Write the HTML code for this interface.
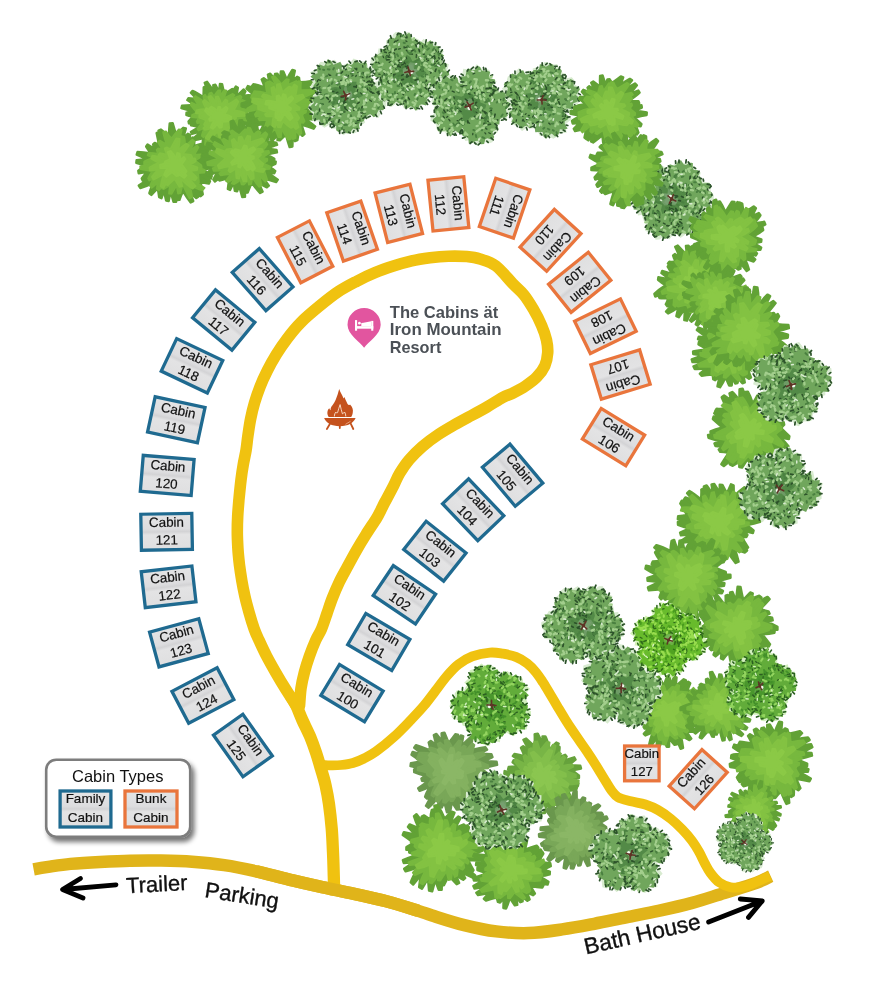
<!DOCTYPE html><html><head><meta charset="utf-8"><title>Cabins at Iron Mountain Resort map</title>
<style>html,body{margin:0;padding:0;background:#fff}body{width:872px;height:992px;overflow:hidden}svg{display:block;opacity:.999;will-change:transform}text{font-family:"Liberation Sans",sans-serif}.c{text-anchor:middle;fill:#111;stroke:#111;stroke-width:.2px}</style></head><body>
<svg width="872" height="992" viewBox="0 0 872 992">
<defs>
<g id="b1"><path d="M26.9 -18.3Q32.2 -21.6 36.6 -24.1L38.2 -21.5Q34.9 -16.9 30.4 -11.6Q36.8 -14.1 42.1 -16.1L43.1 -13.1Q38.4 -8.9 28.4 -3.7Q35.9 -2.6 42.0 -0.9L42.0 2.0Q35.9 2.4 28.9 2.6Q34.8 4.8 39.4 7.3L38.8 10.1Q33.8 9.6 24.9 7.8Q27.3 11.3 29.5 13.5L28.4 15.6Q25.5 15.0 22.7 14.8Q27.3 15.8 30.5 17.5L29.2 19.6Q24.8 19.4 20.9 20.3Q23.8 26.9 26.3 32.0L24.0 33.8Q19.8 29.9 15.2 25.4Q16.6 31.5 17.8 36.4L15.2 37.6Q12.1 33.5 9.1 29.8Q8.6 36.8 7.2 42.6L4.2 43.0Q3.4 37.6 2.6 29.8Q1.3 34.5 0.8 38.3L-1.9 38.2Q-3.5 34.3 -5.6 31.7Q-8.1 36.0 -11.4 39.1L-14.1 38.2Q-13.0 34.5 -11.6 30.6Q-14.1 36.5 -15.7 41.5L-18.6 40.3Q-19.1 34.2 -17.9 25.1Q-23.1 26.7 -27.7 27.5L-29.5 25.5Q-26.6 23.3 -19.3 17.3Q-25.6 19.0 -30.8 20.1L-32.1 17.9Q-28.0 15.2 -22.1 11.7Q-27.5 11.3 -31.8 10.4L-32.5 8.2Q-28.8 7.4 -26.0 7.0Q-30.6 7.2 -34.3 8.0L-34.8 5.6Q-31.3 2.9 -30.9 -0.1Q-34.5 -0.3 -37.3 -1.8L-37.1 -4.4Q-34.1 -5.1 -30.3 -5.8Q-37.3 -8.2 -43.1 -9.6L-42.3 -12.6Q-35.8 -13.3 -27.1 -13.0Q-32.1 -16.4 -36.2 -19.0L-34.8 -21.4Q-29.5 -20.7 -24.2 -20.2Q-28.9 -23.8 -32.1 -27.5L-30.1 -29.7Q-25.3 -27.6 -17.6 -22.3Q-17.2 -28.9 -17.2 -33.8L-14.8 -34.9Q-13.0 -31.0 -10.8 -25.9Q-14.0 -33.1 -16.1 -39.2L-13.3 -40.3Q-9.3 -34.7 -5.3 -29.2Q-6.2 -33.2 -6.1 -36.5L-3.6 -36.9Q-1.5 -33.7 0.7 -26.8Q0.9 -32.8 1.6 -37.7L4.2 -37.5Q5.5 -32.4 6.6 -26.1Q12.0 -29.4 15.9 -32.0L18.1 -30.8Q16.0 -27.4 14.1 -24.7Q17.2 -30.4 20.1 -34.8L22.5 -33.3Q21.3 -27.7 21.4 -23.3Q25.3 -28.1 29.1 -31.4L31.3 -29.3Q29.0 -24.3 26.5 -18.9Z" fill="#62a236" stroke="#62a236" stroke-width="2.6" stroke-linejoin="round"/><path d="M12.2 22.3Q10.4 26.4 8.7 29.6L6.1 30.2Q5.7 27.8 5.4 24.5Q6.0 28.7 6.7 32.2L3.9 32.6Q1.1 29.3 -2.2 27.0Q-3.0 30.2 -5.3 32.6L-8.1 32.0Q-8.1 29.2 -8.0 26.2Q-10.8 30.5 -12.9 34.0L-15.7 32.8Q-15.8 28.2 -14.0 20.4Q-15.7 22.6 -17.4 24.2L-19.4 22.6Q-19.3 19.6 -16.4 13.6Q-20.3 15.0 -23.2 16.4L-24.5 14.3Q-22.5 11.3 -19.3 7.6Q-22.4 7.5 -24.8 7.7L-25.4 5.6Q-23.4 3.5 -23.4 1.3Q-27.5 1.7 -30.9 1.0L-30.8 -1.7Q-27.4 -3.0 -25.5 -4.8Q-29.6 -9.7 -32.5 -13.7L-31.2 -16.4Q-27.5 -14.6 -23.1 -12.2Q-26.2 -17.5 -28.8 -21.5L-26.9 -23.9Q-22.8 -21.7 -16.1 -16.8Q-17.6 -20.2 -17.6 -24.0L-15.5 -25.4Q-13.9 -22.9 -13.1 -21.2Q-11.3 -24.8 -10.5 -27.1L-8.1 -27.9Q-6.9 -26.3 -5.2 -23.5Q-2.9 -27.5 -0.3 -30.5L2.3 -30.4Q1.9 -27.6 1.1 -22.4Q3.6 -27.1 6.7 -30.7L9.3 -30.0Q8.2 -26.1 6.6 -21.3Q12.4 -24.1 16.6 -26.3L18.7 -24.8Q16.4 -21.6 14.7 -19.8Q20.1 -22.8 25.3 -24.4L27.3 -22.1Q23.7 -19.1 22.1 -17.7Q28.4 -19.6 33.7 -20.8L35.4 -17.9Q31.4 -14.5 24.8 -10.1Q31.0 -9.4 36.0 -8.8L36.6 -5.7Q32.2 -4.0 24.4 -2.0Q30.6 -0.4 35.5 2.4L35.2 5.5Q30.2 4.8 20.7 3.3Q24.9 7.2 28.2 9.8L27.3 12.1Q23.3 11.3 20.1 10.9Q21.3 13.6 22.0 16.3L20.5 18.1Q18.7 17.1 17.4 16.5Q20.9 19.1 23.2 21.8L21.3 23.7Q17.4 22.3 13.5 21.5Z" fill="#77b83e" stroke="#77b83e" stroke-width="1.8" stroke-linejoin="round"/><path d="M-8.1 -13.5Q-10.3 -18.5 -11.8 -22.6L-8.9 -23.9Q-5.4 -20.4 -1.7 -14.4Q-3.1 -19.0 -3.3 -22.9L-0.4 -23.2Q1.7 -19.2 3.4 -13.7Q5.9 -17.1 8.0 -19.7L10.4 -18.5Q9.9 -15.1 11.4 -14.1Q17.0 -17.0 20.7 -20.0L23.1 -17.3Q20.7 -12.2 17.8 -7.1Q24.4 -6.8 30.1 -4.6L30.4 -0.7Q25.4 -0.5 14.1 -0.3Q17.6 -0.5 20.4 -0.4L20.3 2.2Q17.1 3.9 13.4 5.5Q16.3 9.7 18.3 13.4L16.5 15.6Q13.4 13.5 10.6 11.5Q11.3 15.9 12.1 19.2L9.6 20.6Q7.0 18.2 4.2 15.2Q4.9 19.7 3.9 23.8L0.9 24.1Q-0.2 20.3 -1.1 17.7Q-6.7 23.0 -11.9 26.6L-15.1 24.9Q-12.2 20.6 -7.5 13.5Q-11.9 15.0 -15.8 15.6L-17.6 13.5Q-15.3 11.5 -10.2 7.7Q-12.9 9.9 -15.5 11.2L-16.8 9.2Q-14.9 6.4 -14.6 4.2Q-19.0 2.1 -22.4 1.3L-22.3 -1.6Q-19.0 -2.7 -18.5 -4.4Q-22.9 -3.2 -26.2 -3.9L-25.5 -7.2Q-21.4 -8.8 -14.3 -8.9Q-16.7 -13.3 -18.2 -17.1L-15.9 -19.2Q-12.9 -17.0 -8.8 -13.1Z" fill="#83c242" stroke="#83c242" stroke-width="2.0" stroke-linejoin="round"/><path d="M-5.9 -4.9Q-8.5 -7.4 -10.5 -9.6L-8.3 -11.6Q-4.8 -10.2 -1.2 -6.4Q-1.1 -9.1 -0.3 -11.3L2.0 -11.2Q2.6 -8.8 3.3 -7.0Q6.2 -9.6 8.6 -11.5L10.8 -9.5Q9.6 -6.2 7.2 -2.9Q11.5 -1.7 14.8 0.3L14.4 3.4Q11.2 3.1 6.2 2.0Q9.8 2.4 12.6 3.0L11.7 5.6Q8.0 6.1 4.5 6.3Q4.1 10.0 3.8 12.7L1.1 13.2Q-0.4 10.8 -1.7 8.8Q-3.6 12.1 -6.3 14.4L-9.2 12.8Q-8.2 9.6 -4.2 3.9Q-7.4 4.7 -10.1 5.2L-11.0 2.9Q-8.7 1.3 -8.5 -0.0Q-13.0 -2.8 -15.8 -6.7L-14.1 -9.8Q-10.7 -7.9 -6.1 -4.7Z" fill="#8bc946" stroke="#8bc946" stroke-width="2.0" stroke-linejoin="round"/></g>
<g id="b2"><path d="M30.1 2.0Q34.3 4.6 37.6 6.8L37.1 9.5Q33.4 9.3 31.2 9.6Q34.1 12.8 35.9 16.5L34.6 19.0Q32.0 17.4 27.3 14.5Q32.4 20.1 36.2 25.1L34.4 27.5Q29.3 24.4 22.9 20.0Q22.0 25.2 21.8 28.7L19.7 30.1Q18.3 28.1 16.0 24.4Q16.4 29.2 16.0 33.4L13.6 34.4Q12.2 31.2 11.1 28.7Q9.6 35.2 7.8 40.4L5.0 40.9Q4.6 36.2 3.9 28.6Q4.1 33.9 4.1 38.2L1.4 38.4Q-0.6 34.1 -2.5 26.3Q-7.3 31.8 -11.1 36.0L-13.6 35.2Q-11.7 30.5 -9.1 24.6Q-12.8 30.3 -16.7 34.6L-19.1 33.3Q-16.9 28.2 -14.8 23.3Q-16.8 29.2 -19.1 33.6L-21.4 32.2Q-20.7 26.6 -22.2 23.1Q-28.5 24.9 -32.8 27.1L-34.7 24.8Q-31.7 20.7 -29.5 16.9Q-33.4 18.6 -36.8 19.3L-38.1 16.7Q-35.6 13.7 -29.0 9.2Q-35.5 9.4 -40.9 9.2L-41.5 6.3Q-36.5 4.4 -29.1 2.3Q-34.1 3.2 -38.1 3.6L-38.3 0.9Q-34.2 -1.6 -26.7 -3.9Q-31.0 -6.9 -34.7 -8.6L-34.0 -11.0Q-29.8 -11.1 -26.6 -11.8Q-30.2 -14.4 -33.0 -16.8L-31.7 -19.1Q-27.9 -18.5 -23.8 -17.8Q-26.4 -19.6 -27.6 -22.2L-26.0 -24.1Q-23.4 -23.1 -19.5 -20.8Q-22.2 -25.0 -24.6 -28.2L-22.6 -29.9Q-18.5 -27.8 -14.0 -25.6Q-15.8 -31.9 -16.3 -37.4L-13.7 -38.4Q-11.2 -33.8 -8.7 -29.0Q-8.1 -32.3 -7.7 -35.0L-5.3 -35.5Q-3.5 -33.2 -1.5 -32.6Q3.2 -37.2 6.2 -40.7L9.0 -40.2Q8.4 -36.4 7.3 -31.2Q11.8 -36.2 16.4 -39.8L19.1 -38.6Q16.7 -34.2 13.0 -27.7Q18.5 -32.2 22.8 -35.8L25.3 -34.1Q22.8 -29.3 18.5 -22.5Q23.2 -26.3 27.7 -28.8L29.6 -26.8Q26.6 -22.9 19.4 -15.6Q25.5 -16.4 30.0 -17.4L31.2 -15.3Q27.5 -12.7 23.7 -10.1Q29.1 -12.5 34.0 -13.5L34.9 -11.1Q30.6 -8.4 26.8 -5.8Q34.6 -6.6 41.1 -6.9L41.4 -4.0Q35.2 -1.7 30.2 0.5Z" fill="#62a236" stroke="#62a236" stroke-width="2.6" stroke-linejoin="round"/><path d="M20.5 13.2Q25.7 16.9 29.9 20.1L28.1 22.6Q22.5 21.1 15.3 17.8Q18.3 22.0 20.6 25.5L18.4 27.1Q14.3 24.8 10.1 22.7Q9.2 29.2 8.0 34.4L5.0 35.0Q4.1 30.3 2.9 22.3Q4.8 27.7 5.7 32.3L2.9 32.6Q-0.0 28.1 -2.8 20.9Q-5.9 24.0 -8.4 26.4L-10.7 25.6Q-9.9 22.7 -9.6 21.0Q-12.6 23.5 -14.3 25.9L-16.5 24.6Q-16.4 21.0 -17.4 18.3Q-21.0 23.6 -24.6 27.3L-26.8 25.1Q-24.7 19.7 -23.7 15.0Q-28.1 13.7 -31.1 13.5L-32.2 10.8Q-30.1 8.7 -23.2 5.3Q-28.1 7.6 -32.2 8.9L-32.9 6.1Q-29.0 2.7 -20.9 -0.8Q-25.6 -4.7 -29.2 -8.2L-28.4 -10.7Q-24.5 -9.0 -20.3 -7.1Q-24.6 -8.8 -28.1 -10.3L-27.1 -12.6Q-22.7 -12.9 -19.5 -14.2Q-24.6 -15.6 -28.2 -17.6L-26.6 -20.0Q-21.5 -19.6 -15.5 -18.4Q-15.2 -22.6 -14.8 -25.9L-12.5 -27.1Q-11.1 -24.9 -9.7 -22.2Q-7.2 -27.3 -5.6 -31.1L-2.9 -31.4Q-2.4 -28.2 -2.0 -24.8Q-3.2 -29.2 -3.4 -32.9L-0.5 -33.1Q1.8 -29.4 4.6 -26.7Q9.9 -31.5 14.1 -35.1L17.0 -33.8Q15.2 -29.3 11.2 -21.2Q16.5 -23.6 20.9 -25.2L23.0 -23.3Q20.3 -20.4 14.8 -14.9Q18.0 -18.4 20.9 -20.9L22.6 -19.0Q20.9 -15.1 16.8 -9.7Q19.9 -12.4 22.9 -13.7L24.0 -11.7Q21.7 -8.8 23.3 -6.9Q26.4 -5.1 28.8 -4.1L29.0 -1.6Q26.9 -0.5 26.5 0.8Q31.1 4.9 34.6 8.0L33.8 11.0Q29.8 10.2 25.9 9.3Q30.3 12.0 33.1 16.0L31.6 18.8Q27.8 17.0 20.7 12.9Z" fill="#77b83e" stroke="#77b83e" stroke-width="1.8" stroke-linejoin="round"/><path d="M3.7 -17.1Q6.4 -21.2 9.1 -24.3L12.1 -23.0Q11.5 -19.0 7.9 -10.9Q12.4 -11.0 15.4 -11.5L16.7 -9.5Q14.8 -7.6 12.2 -5.4Q17.8 -4.7 22.3 -2.9L22.5 -0.1Q18.4 -0.1 18.4 -0.4Q23.8 2.2 28.0 5.1L27.1 8.5Q22.5 8.1 15.7 6.5Q20.2 6.8 23.6 7.9L22.4 10.8Q17.9 11.7 11.5 10.9Q12.3 14.9 13.5 17.6L11.2 19.1Q8.2 17.5 4.8 14.9Q7.8 18.1 8.8 21.3L6.1 22.2Q3.1 19.5 -0.0 13.0Q-3.3 16.1 -5.9 18.4L-8.2 17.5Q-7.2 14.8 -7.0 13.8Q-12.3 16.7 -17.3 18.1L-19.5 15.7Q-16.0 13.1 -14.0 12.0Q-21.1 14.8 -27.2 16.5L-29.1 13.0Q-24.2 9.1 -15.1 4.3Q-19.4 5.1 -22.9 5.2L-23.4 2.3Q-20.0 0.1 -12.9 -1.6Q-17.6 -4.8 -21.0 -8.3L-19.8 -10.9Q-15.8 -9.0 -13.0 -7.6Q-16.4 -11.5 -18.9 -15.1L-16.8 -17.3Q-13.0 -15.2 -8.9 -12.3Q-8.5 -17.4 -7.4 -21.6L-4.6 -22.4Q-3.9 -19.0 -3.7 -17.0Q-3.8 -22.5 -4.6 -26.8L-1.2 -27.2Q1.9 -22.7 4.7 -16.9Z" fill="#83c242" stroke="#83c242" stroke-width="2.0" stroke-linejoin="round"/><path d="M-4.7 -5.7Q-6.2 -8.6 -7.2 -11.1L-4.8 -12.4Q-2.2 -10.4 0.1 -8.4Q-0.4 -12.1 0.9 -15.2L4.0 -14.7Q4.6 -11.3 2.8 -4.6Q6.3 -5.1 8.9 -5.3L9.8 -3.4Q7.9 -2.1 7.8 -1.3Q12.9 -0.4 16.8 1.6L16.1 5.1Q11.9 4.9 6.6 3.6Q8.7 7.8 8.8 12.2L6.1 13.8Q4.8 10.7 3.0 6.3Q4.3 9.6 5.2 12.3L2.5 13.1Q0.0 10.5 -1.9 7.0Q-5.4 9.1 -8.8 9.9L-10.6 7.9Q-8.6 6.1 -7.5 5.1Q-11.4 7.6 -14.8 9.2L-16.4 5.9Q-13.5 2.4 -6.5 -0.5Q-9.2 -2.9 -11.1 -5.1L-9.7 -7.3Q-7.2 -6.4 -5.0 -5.4Z" fill="#8bc946" stroke="#8bc946" stroke-width="2.0" stroke-linejoin="round"/></g>
<g id="b3"><path d="M8.1 -27.6Q13.2 -32.7 17.8 -36.4L20.3 -35.1Q17.6 -30.5 15.1 -26.4Q19.2 -30.6 22.8 -33.7L25.1 -32.0Q23.2 -27.6 21.9 -23.8Q29.7 -23.4 35.0 -23.8L36.6 -21.3Q32.7 -19.1 27.1 -16.2Q32.0 -18.1 36.5 -19.0L37.7 -16.4Q34.3 -13.5 29.2 -10.0Q35.2 -12.1 40.5 -12.7L41.3 -9.8Q36.5 -7.1 28.2 -3.9Q32.9 -0.4 36.6 1.4L36.4 4.0Q32.7 4.2 24.9 3.8Q32.2 3.9 38.0 5.2L37.5 7.9Q31.4 8.3 26.9 9.3Q31.8 11.2 35.9 12.8L34.9 15.3Q29.9 15.6 24.0 15.5Q28.1 17.8 31.5 19.7L30.1 21.9Q25.4 21.6 20.5 21.7Q23.7 26.1 26.3 29.6L24.2 31.3Q19.8 29.1 14.2 25.3Q16.4 33.0 17.1 39.8L14.3 40.9Q11.7 35.0 8.8 27.7Q9.2 32.3 10.1 35.9L7.6 36.5Q4.6 33.3 1.3 29.2Q1.7 34.4 1.6 38.7L-1.1 38.7Q-3.1 34.3 -5.4 30.8Q-7.5 35.5 -9.6 39.3L-12.3 38.5Q-12.3 34.1 -11.5 27.5Q-15.2 33.0 -18.1 37.4L-20.6 36.1Q-19.6 30.5 -16.6 22.3Q-20.9 24.6 -24.8 26.1L-26.6 24.3Q-24.1 21.5 -20.6 18.0Q-23.4 18.3 -25.7 18.5L-26.9 16.6Q-25.7 14.8 -23.8 12.4Q-31.0 12.6 -36.8 12.8L-37.6 10.2Q-32.5 8.2 -29.0 6.6Q-34.4 9.0 -38.9 10.4L-39.6 7.7Q-35.3 4.2 -32.3 0.4Q-38.9 -0.9 -44.3 -2.5L-44.0 -5.6Q-38.4 -6.3 -31.4 -6.9Q-34.7 -12.0 -37.4 -15.7L-36.2 -18.3Q-32.7 -16.7 -26.7 -13.6Q-28.5 -17.2 -30.4 -19.4L-28.9 -21.5Q-25.9 -21.0 -20.7 -19.0Q-23.6 -21.4 -25.7 -23.7L-23.9 -25.4Q-20.4 -24.5 -16.3 -23.5Q-17.1 -27.8 -17.4 -31.4L-15.2 -32.5Q-13.1 -29.9 -11.1 -27.7Q-11.9 -33.6 -12.3 -38.4L-9.6 -39.2Q-7.1 -34.9 -4.3 -29.3Q-2.3 -35.5 -0.3 -40.4L2.5 -40.3Q2.7 -35.5 2.6 -28.0Q4.7 -34.2 7.2 -39.1L9.9 -38.5Q9.4 -33.2 8.7 -27.5Z" fill="#62a236" stroke="#62a236" stroke-width="2.6" stroke-linejoin="round"/><path d="M-7.6 -20.9Q-7.3 -25.3 -6.7 -29.0L-4.2 -29.4Q-2.8 -26.2 -1.4 -21.9Q2.4 -25.5 5.2 -28.1L7.6 -27.6Q6.7 -24.7 5.9 -22.9Q7.8 -27.3 10.3 -30.4L12.9 -29.5Q12.3 -25.5 12.4 -23.0Q18.6 -22.2 22.1 -22.1L23.9 -20.1Q22.1 -18.7 21.8 -18.8Q25.1 -23.9 28.7 -27.0L30.9 -24.4Q28.8 -19.2 22.7 -11.7Q29.8 -12.8 35.9 -12.4L36.9 -9.3Q31.5 -7.5 21.4 -4.8Q26.1 -2.7 29.9 -0.9L29.8 1.7Q26.2 1.8 21.3 1.7Q25.7 5.7 29.0 8.6L28.2 11.1Q24.3 10.0 19.8 8.6Q21.5 12.6 22.6 15.8L21.2 17.7Q19.0 16.1 18.7 15.9Q21.3 18.5 23.0 21.0L21.1 22.9Q17.8 21.8 14.4 20.9Q17.3 24.6 19.2 27.9L16.7 29.4Q12.9 27.1 8.1 22.9Q10.1 26.3 11.1 29.2L8.6 30.0Q5.4 27.6 1.9 24.5Q-0.5 31.1 -2.3 36.3L-5.4 36.0Q-5.8 30.5 -6.1 25.0Q-6.6 28.6 -7.0 31.6L-9.7 30.9Q-11.4 27.1 -11.6 19.8Q-13.3 23.6 -15.5 26.3L-17.7 24.9Q-17.2 21.0 -15.0 15.2Q-17.6 15.5 -19.4 15.9L-20.7 14.1Q-19.9 12.2 -18.8 9.9Q-23.6 11.8 -27.5 13.3L-28.5 10.9Q-25.2 7.6 -23.9 4.7Q-30.8 5.9 -36.6 6.0L-37.0 2.8Q-31.3 0.6 -28.8 -1.8Q-33.3 -6.7 -36.6 -10.8L-35.6 -13.9Q-31.7 -12.3 -25.1 -9.3Q-27.3 -11.2 -29.1 -12.5L-28.0 -15.0Q-24.9 -15.7 -18.3 -14.2Q-21.1 -19.2 -23.6 -22.9L-21.6 -24.8Q-17.5 -22.5 -12.1 -18.2Q-14.7 -22.9 -16.7 -26.7L-14.4 -28.0Q-10.6 -25.0 -6.4 -21.3Z" fill="#77b83e" stroke="#77b83e" stroke-width="1.8" stroke-linejoin="round"/><path d="M7.7 14.7Q9.6 20.1 10.8 24.6L7.7 25.8Q4.3 21.8 1.1 17.8Q1.3 22.7 0.9 26.6L-2.5 26.5Q-4.4 22.3 -5.6 15.8Q-8.5 19.9 -11.3 23.0L-14.1 21.4Q-13.1 17.2 -8.3 8.9Q-11.0 12.5 -13.6 15.0L-15.3 13.2Q-13.7 9.3 -12.6 5.9Q-16.2 6.9 -19.4 7.2L-20.1 4.7Q-17.4 2.6 -18.4 0.7Q-23.6 -3.2 -27.6 -6.6L-26.5 -10.0Q-22.1 -9.0 -15.0 -6.5Q-18.5 -11.0 -20.3 -15.9L-18.2 -18.3Q-15.1 -15.3 -10.4 -10.4Q-8.8 -15.5 -7.9 -18.8L-5.5 -19.6Q-4.7 -17.2 -4.0 -14.8Q-3.8 -18.9 -3.5 -22.3L-0.6 -22.5Q1.0 -19.3 2.4 -14.6Q3.8 -19.5 6.1 -23.2L8.9 -22.2Q8.6 -17.9 8.6 -14.7Q12.9 -18.2 16.8 -20.6L19.2 -18.4Q17.0 -14.5 15.2 -11.1Q20.5 -15.1 25.3 -17.8L27.3 -14.5Q23.6 -9.5 13.6 -3.3Q18.6 -3.9 22.8 -4.0L23.1 -1.1Q19.0 0.9 14.0 2.5Q17.1 7.2 19.3 10.8L17.8 13.1Q14.8 11.2 12.9 10.1Q17.9 12.6 21.3 15.7L19.2 18.3Q14.2 16.7 8.9 14.0Z" fill="#83c242" stroke="#83c242" stroke-width="2.0" stroke-linejoin="round"/><path d="M-7.2 -2.7Q-10.1 -3.8 -12.5 -4.9L-11.2 -7.3Q-7.7 -7.6 -3.3 -5.9Q-6.0 -8.3 -7.1 -10.9L-4.7 -12.2Q-2.1 -10.0 0.1 -7.4Q4.7 -9.9 8.2 -11.3L10.4 -9.3Q8.4 -7.1 7.1 -5.8Q9.8 -8.8 12.8 -10.4L14.6 -7.5Q12.5 -4.1 5.8 -0.6Q8.8 -1.6 11.3 -2.2L11.5 0.2Q8.7 2.1 6.5 4.1Q8.5 8.0 10.2 10.8L7.8 12.7Q4.5 10.7 1.5 8.0Q0.8 12.1 -0.0 15.4L-3.2 15.0Q-4.2 11.4 -3.2 5.3Q-3.2 8.2 -3.8 10.3L-5.8 9.3Q-6.2 6.2 -7.4 3.7Q-11.7 4.3 -15.0 4.8L-15.7 1.5Q-12.4 -0.8 -7.3 -2.3Z" fill="#8bc946" stroke="#8bc946" stroke-width="2.0" stroke-linejoin="round"/></g>
<g id="m1"><path d="M14.6 -23.1Q16.4 -26.2 18.1 -28.6L20.0 -27.2Q19.9 -23.6 21.1 -20.7Q27.7 -22.4 33.4 -23.0L35.0 -20.7Q30.5 -18.3 27.4 -17.0Q34.3 -16.0 39.4 -16.0L40.4 -13.2Q36.2 -11.1 29.5 -8.3Q37.6 -9.2 44.5 -8.7L45.0 -5.6Q38.5 -3.8 28.5 -1.9Q32.8 0.7 36.2 3.5L35.9 6.0Q32.4 5.3 27.7 4.2Q34.4 4.8 39.8 5.4L39.3 8.1Q33.4 9.5 25.3 10.2Q31.1 13.5 35.8 15.9L34.6 18.4Q28.9 17.7 22.2 16.3Q24.0 20.0 25.1 23.1L23.5 24.8Q20.9 23.1 18.9 21.9Q18.2 26.7 18.2 30.0L16.1 31.2Q14.3 29.0 12.6 26.8Q11.9 31.8 10.9 35.8L8.4 36.5Q7.3 33.1 6.3 29.1Q7.2 34.3 7.6 38.7L4.9 39.1Q2.4 35.0 -0.4 31.5Q-1.0 37.3 -2.1 42.0L-5.0 41.7Q-6.2 36.8 -7.6 32.0Q-9.3 34.7 -10.2 37.0L-12.7 36.2Q-14.0 33.1 -14.1 26.5Q-18.5 32.8 -23.4 37.2L-25.9 35.4Q-22.9 29.9 -19.3 23.8Q-22.5 26.1 -24.9 28.2L-26.8 26.4Q-26.0 22.7 -21.4 15.7Q-27.1 18.7 -32.3 20.3L-33.7 18.0Q-29.5 14.8 -23.6 10.9Q-27.1 10.6 -29.9 10.2L-30.5 8.1Q-28.3 6.7 -26.3 5.4Q-32.7 3.6 -37.7 1.7L-37.8 -0.9Q-32.8 -1.0 -29.9 -1.0Q-36.2 -3.2 -41.4 -4.3L-41.0 -7.2Q-35.4 -8.2 -29.4 -9.2Q-35.8 -11.9 -40.4 -15.6L-39.3 -18.4Q-33.8 -16.8 -28.3 -15.2Q-33.4 -19.3 -37.7 -22.6L-36.0 -25.2Q-30.4 -23.8 -21.6 -19.6Q-22.1 -24.6 -23.2 -27.8L-21.2 -29.4Q-18.4 -27.4 -15.5 -25.6Q-17.2 -30.8 -18.1 -35.3L-15.6 -36.4Q-12.7 -32.9 -9.1 -27.5Q-10.4 -32.6 -10.3 -37.1L-7.6 -37.7Q-5.8 -33.7 -3.5 -27.2Q0.6 -32.3 3.3 -36.0L5.8 -35.7Q5.1 -31.9 3.9 -26.0Q6.2 -31.0 8.7 -34.9L11.1 -34.2Q10.4 -29.9 9.2 -24.2Q14.7 -29.5 19.2 -33.6L21.5 -32.1Q18.6 -27.1 15.7 -22.3Z" fill="#6a974d" stroke="#6a974d" stroke-width="2.6" stroke-linejoin="round"/><path d="M-1.0 26.8Q-3.8 30.0 -6.3 32.5L-9.0 31.9Q-8.9 28.9 -8.2 24.5Q-11.1 28.6 -13.6 31.9L-16.3 30.6Q-15.8 26.3 -15.1 21.5Q-16.5 24.5 -18.4 26.4L-20.6 24.8Q-20.4 21.3 -16.1 13.8Q-19.7 14.7 -22.4 15.8L-23.6 13.8Q-21.9 11.1 -19.8 8.0Q-22.7 6.3 -24.9 4.7L-25.2 2.6Q-23.5 2.4 -24.4 2.6Q-29.9 0.9 -34.4 -0.0L-34.2 -3.0Q-29.7 -4.2 -26.6 -5.8Q-31.4 -8.6 -35.3 -11.1L-34.2 -14.1Q-29.5 -13.9 -23.4 -12.9Q-29.6 -13.2 -33.9 -14.9L-32.5 -17.7Q-26.9 -18.1 -18.6 -16.5Q-21.2 -19.1 -23.3 -21.2L-21.4 -23.1Q-17.6 -22.4 -12.1 -19.7Q-13.5 -23.5 -14.3 -26.7L-11.9 -27.9Q-9.3 -25.5 -6.6 -23.4Q-6.9 -27.2 -7.5 -30.1L-4.9 -30.7Q-2.2 -27.9 0.8 -22.3Q4.2 -26.6 6.7 -29.9L9.3 -29.3Q8.7 -25.5 7.5 -20.1Q9.3 -22.9 11.9 -24.8L13.9 -23.7Q13.1 -21.0 12.6 -18.8Q17.0 -23.2 20.1 -27.2L22.4 -25.4Q20.7 -20.0 20.3 -15.4Q25.8 -17.9 31.3 -18.2L32.8 -15.5Q28.5 -13.3 24.0 -11.1Q31.1 -7.3 36.0 -5.2L36.3 -2.1Q31.8 -1.9 24.9 -1.8Q28.2 -1.4 30.9 -1.0L30.8 1.7Q28.0 3.4 21.0 4.5Q24.8 6.4 27.5 9.3L26.6 11.6Q23.3 10.5 19.4 9.0Q21.6 12.6 23.5 14.9L22.2 16.9Q19.1 16.1 17.0 16.3Q18.7 22.2 20.0 26.9L17.6 28.5Q14.7 25.0 11.5 20.9Q12.2 25.1 12.6 28.7L10.1 29.6Q7.7 26.9 5.1 23.2Q3.2 27.4 1.1 30.7L-1.5 30.7Q-1.6 27.6 -1.7 26.7Z" fill="#79a758" stroke="#79a758" stroke-width="1.8" stroke-linejoin="round"/><path d="M-12.6 4.1Q-15.7 4.8 -18.2 5.1L-18.7 2.8Q-16.3 0.7 -16.8 -1.7Q-21.0 -5.6 -23.7 -9.7L-22.3 -12.6Q-18.9 -10.6 -14.4 -7.8Q-19.4 -11.5 -23.3 -14.8L-21.3 -17.6Q-15.9 -16.0 -9.9 -12.9Q-12.7 -16.9 -14.4 -20.6L-11.7 -22.2Q-8.1 -19.5 -4.2 -15.2Q-2.3 -19.2 -1.3 -22.3L1.5 -22.2Q2.5 -19.2 2.9 -13.1Q4.0 -16.2 6.3 -18.3L8.5 -17.4Q7.9 -14.7 8.4 -13.8Q15.7 -14.5 20.9 -14.8L22.6 -12.1Q18.8 -10.2 17.3 -9.7Q23.0 -9.8 28.1 -7.8L28.8 -4.2Q24.7 -3.7 15.9 -2.7Q19.7 -3.0 22.9 -2.8L23.0 0.1Q19.8 2.0 13.3 3.3Q14.9 8.7 15.9 12.4L14.2 14.3Q12.2 12.2 10.4 9.9Q14.4 13.5 16.4 17.7L14.0 19.6Q10.6 16.7 7.5 13.8Q7.3 20.0 8.0 24.6L4.8 25.4Q2.1 21.2 -0.4 18.0Q1.7 22.6 2.2 26.3L-1.1 26.4Q-3.9 22.3 -6.2 16.2Q-10.3 21.3 -14.7 24.8L-17.7 22.7Q-15.3 18.0 -9.7 10.2Q-14.2 11.7 -17.9 12.4L-19.4 10.1Q-16.6 7.8 -12.3 5.0Z" fill="#84b160" stroke="#84b160" stroke-width="2.0" stroke-linejoin="round"/><path d="M-8.7 -1.1Q-11.5 -5.2 -12.7 -9.4L-10.5 -11.9Q-8.4 -9.5 -5.2 -5.6Q-4.5 -11.0 -2.5 -15.1L0.7 -15.3Q0.3 -11.9 -0.1 -5.9Q2.4 -8.6 5.3 -10.2L7.3 -8.9Q5.7 -6.9 5.1 -6.4Q7.1 -9.6 9.4 -11.7L11.7 -9.5Q10.4 -5.9 6.5 -1.8Q9.3 -0.0 11.4 1.2L10.9 3.6Q8.5 3.8 5.7 3.5Q8.7 4.6 11.1 5.6L9.7 7.8Q6.1 7.8 2.6 7.2Q3.1 10.2 3.3 12.7L0.6 13.1Q-1.3 10.6 -3.0 8.0Q-4.4 11.7 -6.8 14.2L-9.6 12.5Q-8.8 8.9 -4.4 3.2Q-7.4 3.2 -9.9 2.7L-10.3 0.6Q-8.1 -0.1 -8.8 -0.9Z" fill="#8bb766" stroke="#8bb766" stroke-width="2.0" stroke-linejoin="round"/></g>
<g id="m2"><path d="M19.0 21.3Q22.0 25.8 24.4 29.6L22.3 31.2Q18.2 28.6 13.1 24.2Q14.9 30.3 15.4 35.8L12.9 36.7Q10.5 32.1 7.9 26.4Q6.5 31.7 5.4 35.9L2.9 36.2Q2.1 32.3 1.3 29.2Q-0.4 35.0 -2.3 39.6L-5.0 39.3Q-5.2 34.6 -5.2 28.4Q-7.4 34.7 -10.1 39.6L-12.8 38.8Q-12.1 33.3 -10.7 26.3Q-15.6 29.4 -18.7 32.3L-20.9 30.9Q-19.6 26.9 -18.3 22.9Q-23.6 27.8 -28.2 31.5L-30.4 29.4Q-27.2 24.3 -25.3 20.0Q-29.3 20.0 -33.0 19.2L-34.2 16.9Q-31.8 15.8 -27.7 14.0Q-32.4 14.7 -36.3 15.0L-37.2 12.5Q-34.1 10.0 -27.9 6.7Q-34.3 5.5 -39.3 5.1L-39.5 2.3Q-34.7 0.7 -26.4 -0.9Q-32.7 -1.1 -37.8 -2.3L-37.5 -4.9Q-32.2 -5.6 -25.7 -6.0Q-27.9 -9.5 -29.6 -12.1L-28.6 -14.2Q-26.3 -13.3 -24.0 -12.3Q-28.1 -18.2 -31.5 -22.8L-29.8 -25.0Q-25.3 -22.0 -21.6 -19.6Q-24.6 -22.1 -26.3 -25.0L-24.5 -26.7Q-21.3 -25.3 -19.0 -25.4Q-20.4 -31.2 -21.6 -36.0L-19.0 -37.4Q-15.9 -33.8 -12.0 -28.4Q-13.8 -34.6 -14.4 -40.0L-11.6 -40.9Q-8.8 -36.2 -5.6 -29.1Q-3.8 -37.4 -1.9 -44.0L1.2 -44.0Q1.4 -37.6 1.3 -28.8Q5.3 -33.5 7.9 -37.3L10.5 -36.7Q9.9 -32.5 9.2 -28.1Q12.1 -30.3 14.7 -31.9L16.9 -30.8Q16.2 -28.3 14.6 -24.4Q19.7 -27.8 24.6 -29.8L26.6 -28.1Q23.4 -24.8 19.3 -20.9Q24.4 -20.9 28.2 -20.9L29.6 -18.8Q27.1 -17.3 23.0 -15.0Q28.6 -16.3 33.5 -16.8L34.6 -14.4Q30.6 -12.1 26.6 -9.9Q30.3 -7.2 33.1 -5.3L33.4 -3.0Q31.0 -3.0 30.4 -3.3Q34.7 -2.0 38.2 -0.9L38.2 1.7Q34.7 2.9 31.8 4.2Q35.9 5.3 39.3 6.1L38.8 8.9Q34.9 10.2 29.1 11.3Q33.7 16.7 37.3 21.0L35.8 23.5Q31.1 21.2 25.5 18.2Q28.2 22.6 29.4 27.3L27.4 29.3Q24.8 26.3 19.8 20.6Z" fill="#6a974d" stroke="#6a974d" stroke-width="2.6" stroke-linejoin="round"/><path d="M8.9 19.3Q9.4 22.9 9.6 26.0L7.3 26.7Q5.3 24.2 3.4 22.9Q3.4 28.8 3.1 33.6L0.2 33.8Q-1.6 29.0 -3.4 24.7Q-2.6 28.9 -2.7 32.2L-5.5 31.9Q-7.5 28.0 -9.6 23.2Q-15.9 25.4 -20.1 27.4L-22.4 25.6Q-20.0 22.4 -17.7 19.5Q-21.8 20.8 -25.8 21.0L-27.5 18.7Q-25.0 16.8 -22.2 14.9Q-28.5 13.2 -32.9 12.6L-33.8 9.8Q-30.3 8.2 -24.1 5.9Q-27.2 6.4 -30.0 6.2L-30.4 3.6Q-27.9 1.7 -20.3 -0.4Q-24.4 -3.4 -27.5 -6.3L-26.9 -8.6Q-23.5 -7.5 -19.1 -5.9Q-21.5 -8.4 -23.3 -10.5L-22.3 -12.5Q-19.7 -11.9 -19.0 -12.8Q-20.9 -18.2 -21.8 -22.8L-19.8 -24.6Q-17.5 -21.4 -17.3 -20.4Q-18.1 -24.0 -18.7 -26.9L-16.3 -28.4Q-13.8 -26.7 -11.3 -25.7Q-12.5 -30.0 -12.2 -34.1L-9.2 -35.0Q-7.2 -31.7 -4.3 -23.1Q-1.2 -30.0 0.9 -35.3L3.9 -35.1Q4.0 -29.7 3.9 -24.5Q7.1 -29.2 11.2 -32.5L14.0 -31.4Q12.0 -27.6 9.5 -22.9Q11.9 -27.2 14.1 -30.6L16.7 -29.3Q16.4 -24.7 14.6 -18.1Q17.5 -19.1 20.0 -19.8L21.6 -18.0Q20.5 -15.8 17.6 -12.2Q22.0 -12.0 25.1 -12.6L26.1 -10.4Q23.7 -8.1 21.1 -5.6Q26.4 -5.7 30.9 -4.2L31.1 -1.6Q26.9 -1.1 26.0 -0.8Q30.7 4.6 34.2 7.8L33.4 10.7Q29.4 9.8 27.1 9.2Q32.8 13.1 36.5 18.1L34.8 21.2Q30.0 18.5 21.6 13.3Q25.9 17.1 29.6 19.9L27.8 22.3Q22.6 21.3 14.4 17.0Q15.3 21.1 15.4 24.7L13.3 26.0Q11.5 23.4 9.1 19.2Z" fill="#79a758" stroke="#79a758" stroke-width="1.8" stroke-linejoin="round"/><path d="M14.3 -5.1Q19.7 -3.2 23.8 -0.9L23.7 2.1Q19.9 1.7 17.8 1.3Q24.2 3.9 28.8 8.2L27.6 11.7Q22.5 9.8 15.3 6.8Q16.3 13.1 16.7 17.7L14.3 19.6Q12.5 16.8 8.5 10.8Q8.3 15.4 7.6 19.0L5.2 19.8Q4.2 16.9 3.6 14.5Q4.6 17.4 4.4 19.9L1.9 20.3Q0.1 18.0 -1.9 16.0Q-5.6 21.2 -8.9 25.2L-12.0 23.9Q-10.7 19.2 -9.1 14.4Q-13.9 17.2 -18.8 18.5L-20.9 16.0Q-17.8 13.2 -14.9 10.8Q-21.3 9.2 -25.8 8.5L-26.7 5.2Q-23.0 3.6 -14.9 1.6Q-19.0 1.6 -22.5 -0.4L-22.3 -3.2Q-18.8 -3.2 -11.7 -2.4Q-14.8 -3.3 -17.2 -4.1L-16.6 -6.3Q-13.5 -6.8 -14.5 -10.4Q-17.2 -13.3 -19.8 -15.2L-17.7 -17.6Q-13.4 -17.2 -8.7 -16.6Q-7.9 -22.0 -5.6 -26.6L-2.2 -27.1Q-2.2 -23.3 -2.0 -16.5Q2.1 -20.1 5.4 -22.5L8.2 -21.6Q7.0 -18.9 4.9 -14.4Q9.3 -16.1 12.2 -17.6L14.3 -15.9Q13.1 -13.3 10.4 -9.4Q13.8 -9.9 17.0 -9.4L18.1 -7.2Q15.9 -6.1 14.2 -5.4Z" fill="#84b160" stroke="#84b160" stroke-width="2.0" stroke-linejoin="round"/><path d="M-1.5 7.1Q-3.3 9.8 -5.2 11.8L-7.6 10.4Q-7.0 7.6 -6.6 5.2Q-11.7 5.9 -16.1 5.0L-16.8 1.5Q-13.1 0.7 -5.4 0.0Q-8.2 -1.3 -10.4 -2.4L-9.7 -4.5Q-7.0 -4.5 -6.6 -6.2Q-8.3 -11.0 -10.0 -14.6L-6.7 -16.3Q-3.1 -13.4 -0.0 -7.2Q-0.6 -10.4 -0.6 -13.0L2.1 -12.8Q3.7 -9.7 4.0 -5.2Q5.1 -7.8 6.4 -9.6L8.3 -8.1Q7.8 -5.0 8.1 -2.3Q12.8 0.2 16.0 3.5L14.9 6.7Q11.6 5.4 7.5 3.5Q9.7 6.3 10.5 9.7L8.2 11.6Q6.3 9.7 3.4 5.8Q3.4 8.9 3.0 11.5L0.5 11.9Q-0.6 9.5 -1.4 7.1Z" fill="#8bb766" stroke="#8bb766" stroke-width="2.0" stroke-linejoin="round"/></g>
<g id="g1"><path d="M3.7 25.5Q2.9 32.1 1.9 37.5L-0.7 37.5Q-1.6 32.2 -2.5 28.6Q-5.0 32.6 -6.7 35.9L-9.2 35.4Q-9.5 31.6 -10.3 28.8Q-10.8 31.8 -12.4 33.9L-14.8 33.0Q-15.2 30.0 -16.6 28.3Q-20.9 31.7 -24.4 34.4L-26.7 32.6Q-25.1 28.5 -23.1 23.9Q-29.8 27.6 -34.9 30.9L-37.0 28.4Q-33.3 23.2 -26.2 15.9Q-33.5 14.7 -39.0 13.8L-39.9 11.0Q-35.2 9.9 -26.9 8.0Q-31.8 10.3 -36.2 11.0L-36.8 8.4Q-32.9 5.8 -27.0 2.8Q-34.4 -0.3 -40.1 -3.3L-39.8 -6.1Q-34.0 -5.1 -29.0 -4.0Q-32.9 -6.6 -36.2 -8.0L-35.5 -10.5Q-31.7 -11.2 -24.9 -10.8Q-28.8 -12.8 -31.5 -15.3L-30.4 -17.5Q-26.7 -16.7 -23.6 -16.4Q-27.8 -19.2 -31.2 -21.7L-29.6 -23.8Q-24.8 -22.9 -19.0 -21.3Q-20.9 -26.5 -22.8 -30.3L-20.6 -31.9Q-17.0 -29.1 -14.1 -28.0Q-18.0 -33.6 -20.3 -38.6L-17.5 -39.9Q-13.2 -35.8 -8.7 -32.0Q-8.3 -39.0 -8.6 -44.5L-5.5 -45.0Q-2.7 -39.8 0.2 -32.3Q-0.3 -37.7 -0.5 -42.1L2.4 -42.1Q4.9 -37.4 6.8 -28.3Q10.2 -32.6 13.8 -35.7L16.2 -34.7Q14.6 -30.9 12.2 -25.7Q13.4 -29.4 14.9 -32.3L17.1 -31.2Q17.4 -27.3 15.7 -20.0Q19.7 -21.8 23.0 -23.0L24.5 -21.3Q22.5 -18.8 20.9 -16.6Q27.3 -18.7 32.4 -20.4L33.7 -18.1Q29.6 -14.7 25.7 -11.4Q32.6 -12.3 38.7 -11.6L39.4 -8.9Q34.0 -7.7 30.3 -7.0Q34.3 -3.4 37.3 -1.6L37.3 1.0Q34.5 1.4 31.5 1.8Q34.5 3.8 36.7 6.8L36.2 9.4Q33.7 8.6 28.6 6.9Q32.2 9.3 35.3 10.8L34.5 13.2Q30.6 13.7 26.1 14.2Q28.0 18.8 29.5 22.3L27.9 24.3Q25.1 22.5 21.7 20.0Q26.0 22.4 28.8 25.1L27.0 27.0Q22.6 25.8 16.7 22.9Q18.9 26.2 20.7 28.9L18.6 30.3Q15.1 28.6 11.0 26.7Q11.1 32.7 11.1 37.5L8.5 38.2Q6.5 33.9 3.8 25.5Z" fill="#66a23c" stroke="#66a23c" stroke-width="2.6" stroke-linejoin="round"/><path d="M14.5 18.9Q16.0 24.0 16.9 28.3L14.4 29.7Q11.6 26.4 7.7 20.1Q11.0 25.0 12.8 29.4L10.3 30.4Q6.6 26.5 2.6 20.8Q3.6 23.8 4.1 26.2L1.8 26.5Q-0.5 24.0 -3.5 22.8Q-4.5 26.8 -5.9 29.9L-8.5 29.3Q-9.0 25.6 -11.1 25.1Q-14.8 27.5 -16.6 29.9L-19.1 28.4Q-19.2 24.5 -18.8 19.4Q-23.5 22.5 -27.5 24.8L-29.5 22.4Q-27.0 18.1 -21.5 12.1Q-27.1 13.7 -31.7 14.7L-32.9 11.9Q-29.0 8.8 -21.1 4.8Q-24.6 5.5 -27.6 5.5L-28.0 3.1Q-25.2 1.2 -23.7 -1.0Q-26.5 -1.9 -28.7 -3.5L-28.3 -5.9Q-25.8 -6.4 -22.2 -6.7Q-26.3 -12.1 -29.5 -16.0L-28.0 -18.4Q-23.8 -16.4 -17.8 -12.9Q-19.4 -17.4 -20.3 -21.4L-18.4 -23.0Q-16.2 -20.5 -14.9 -18.9Q-15.4 -24.2 -14.8 -28.8L-12.3 -30.0Q-11.1 -26.4 -11.0 -25.1Q-10.1 -31.4 -9.2 -36.4L-6.0 -37.0Q-4.6 -32.6 -3.2 -27.8Q0.9 -32.7 3.8 -36.4L6.9 -36.0Q6.5 -32.1 5.1 -24.6Q7.5 -29.7 10.2 -33.6L13.1 -32.6Q12.5 -28.0 9.6 -18.9Q13.5 -22.7 16.6 -25.7L18.8 -24.2Q17.1 -20.0 13.9 -14.3Q17.9 -18.6 21.3 -21.9L23.1 -20.0Q20.8 -15.3 19.7 -11.3Q25.4 -12.9 30.5 -13.2L31.5 -10.6Q27.3 -8.4 23.6 -6.5Q29.4 -4.5 34.1 -2.5L34.2 0.5Q29.8 0.5 24.9 0.5Q31.7 2.5 37.2 3.8L36.8 7.0Q30.8 7.9 22.7 8.1Q25.3 11.4 27.2 14.1L25.9 16.4Q23.0 15.5 20.7 15.2Q25.2 16.9 28.1 19.3L26.4 21.7Q22.0 20.9 15.5 18.1Z" fill="#78b546" stroke="#78b546" stroke-width="1.8" stroke-linejoin="round"/><path d="M8.2 -9.6Q12.0 -11.4 15.4 -12.4L16.8 -10.4Q14.5 -8.0 14.8 -7.1Q19.8 -5.1 23.5 -3.4L23.8 -0.4Q20.5 -0.1 16.4 0.1Q22.2 3.7 26.6 7.3L25.4 10.6Q20.6 9.1 15.5 7.2Q19.7 12.3 23.1 16.1L20.9 18.9Q16.0 16.8 9.9 12.9Q11.0 17.3 11.6 21.0L8.9 22.3Q6.4 19.5 3.0 12.6Q1.1 15.8 -1.2 18.2L-3.5 17.9Q-2.8 15.6 -2.4 16.1Q-3.7 20.9 -4.9 24.9L-7.9 24.1Q-8.8 19.3 -10.2 15.5Q-15.7 19.5 -22.0 21.0L-24.5 18.1Q-20.1 15.0 -13.0 10.0Q-16.6 10.9 -19.5 11.7L-20.8 9.2Q-18.8 6.5 -14.2 3.1Q-18.7 0.9 -22.1 -1.7L-21.7 -4.5Q-18.3 -3.8 -14.3 -2.8Q-17.5 -5.5 -19.8 -8.1L-18.6 -10.6Q-15.6 -9.7 -12.1 -8.5Q-13.9 -11.0 -15.5 -12.7L-13.7 -14.6Q-10.7 -14.1 -8.6 -15.6Q-10.9 -20.7 -12.8 -24.9L-9.6 -26.3Q-5.4 -22.8 -1.3 -18.0Q2.4 -23.9 6.3 -28.2L9.8 -27.2Q8.2 -22.5 4.6 -12.8Q8.0 -15.6 11.6 -17.2L13.7 -15.6Q11.6 -13.1 8.3 -9.5Z" fill="#83bf4b" stroke="#83bf4b" stroke-width="2.0" stroke-linejoin="round"/><path d="M7.8 -1.9Q11.8 0.4 14.6 3.5L13.5 6.4Q10.6 5.2 7.5 3.7Q8.5 8.1 8.1 12.1L5.4 13.5Q4.5 10.9 2.3 5.0Q-0.2 8.0 -2.6 9.8L-4.5 9.0Q-3.5 7.2 -3.5 8.1Q-5.1 12.7 -7.5 16.1L-10.7 14.1Q-9.9 9.5 -5.4 3.4Q-9.1 0.9 -11.4 -1.4L-10.8 -3.7Q-8.7 -2.9 -6.8 -2.0Q-9.1 -4.2 -10.2 -7.1L-8.5 -9.1Q-6.6 -7.6 -5.0 -6.0Q-5.8 -10.3 -5.7 -14.0L-2.7 -14.9Q-1.1 -11.8 0.1 -7.1Q3.5 -10.3 6.5 -12.3L8.9 -10.7Q7.4 -8.0 5.0 -4.7Q8.7 -5.5 12.0 -5.2L12.8 -2.6Q10.2 -1.5 8.0 -0.8Z" fill="#8bc650" stroke="#8bc650" stroke-width="2.0" stroke-linejoin="round"/></g>
<g id="l1"><path d="M5.6 -15.8L3.1 -12.7L1.3 -9.9L2.0 -6.0L0.7 -2.7L-2.6 -1.1L-6.9 -1.9L-8.4 2.3L-11.4 4.3L-15.0 2.0L-18.0 1.2L-21.3 1.6L-25.3 2.0L-27.6 -0.8L-28.2 -4.7L-31.2 -6.5L-35.8 -8.3L-33.5 -12.6L-31.9 -15.8L-33.2 -19.1L-35.8 -23.4L-31.5 -25.4L-28.3 -27.0L-27.7 -31.0L-25.3 -33.8L-21.3 -33.2L-17.8 -31.7L-15.0 -34.3L-11.4 -35.8L-8.7 -33.1L-6.5 -30.4L-3.3 -29.7L1.6 -29.7L1.0 -25.1L0.4 -21.4L4.5 -19.3ZM25.6 -18.9L27.3 -16.1L29.0 -12.6L25.2 -11.1L23.1 -9.3L21.4 -7.3L20.9 -2.9L17.4 -3.0L14.0 -5.6L11.6 -2.5L8.6 -1.3L6.0 -3.4L4.9 -7.2L1.9 -7.3L-1.8 -7.7L-3.2 -10.3L-1.3 -14.2L-4.4 -16.1L-7.2 -18.9L-5.2 -21.9L-1.5 -23.7L-1.9 -26.7L-2.2 -30.6L0.8 -31.8L4.8 -30.7L6.1 -34.2L8.4 -37.2L11.6 -35.9L14.0 -32.3L17.3 -34.5L20.3 -33.9L22.0 -31.3L22.7 -28.2L26.0 -27.2L28.4 -25.0L28.5 -21.9ZM38.6 4.0L41.0 7.2L41.2 10.7L37.4 12.4L34.8 13.9L35.2 18.6L33.5 22.3L28.7 19.9L25.6 19.0L23.0 23.6L19.5 23.9L17.1 20.3L15.2 17.5L10.9 18.4L7.1 17.4L7.9 12.7L8.1 9.4L5.4 7.1L2.0 4.0L6.6 1.1L8.0 -1.4L6.3 -5.6L8.1 -8.4L11.5 -9.6L14.6 -10.4L16.5 -13.7L19.4 -16.3L23.0 -12.7L25.7 -11.6L29.1 -12.9L33.4 -14.0L33.9 -9.0L35.1 -6.2L39.9 -5.8L42.5 -3.1L40.9 0.9ZM16.5 20.9L18.1 23.9L19.4 27.5L16.4 29.7L12.8 30.7L11.5 33.3L10.7 37.5L7.6 38.7L3.9 36.8L1.1 38.0L-2.3 40.1L-5.0 37.6L-6.3 33.7L-9.5 33.5L-14.3 33.7L-15.2 30.2L-13.3 26.1L-16.0 23.9L-19.0 20.9L-17.1 17.7L-13.7 15.5L-13.9 12.2L-13.7 8.5L-10.8 6.7L-6.5 7.8L-4.7 5.0L-2.4 1.1L1.1 2.4L3.7 5.9L7.1 4.3L11.0 3.7L12.8 6.9L12.3 11.4L15.8 12.4L18.9 14.4L19.2 17.7ZM-2.0 12.5L-0.9 15.5L1.0 19.5L-2.6 21.5L-6.0 22.8L-6.8 26.1L-7.9 30.3L-12.0 29.4L-15.4 28.5L-18.2 30.4L-21.7 32.4L-24.8 30.5L-26.4 26.7L-29.4 25.8L-33.5 25.3L-33.5 21.3L-33.5 18.1L-36.0 15.6L-38.0 12.5L-36.6 9.3L-33.3 7.0L-33.5 3.6L-32.9 0.1L-30.3 -1.9L-26.1 -1.2L-24.2 -4.0L-21.6 -6.9L-18.2 -6.0L-15.4 -3.4L-12.2 -4.0L-8.0 -5.1L-7.0 -0.9L-6.6 2.7L-3.3 3.9L0.8 5.6L-0.7 9.4Z" fill="#d8ebd0" stroke="#d8ebd0" stroke-width="1.2"/><path d="M2.6 -15.8L4.6 -12.7L3.4 -9.9L-1.1 -8.8L-1.6 -6.1L-0.9 -1.7L-3.8 -0.5L-7.9 -2.0L-9.8 0.2L-11.9 3.7L-15.0 3.5L-17.4 -0.2L-20.4 0.8L-24.5 2.8L-26.1 -0.6L-26.7 -4.1L-28.3 -6.1L-33.3 -6.5L-33.0 -10.0L-30.6 -13.4L-31.6 -15.8L-36.1 -19.2L-33.2 -21.7L-28.6 -22.8L-29.2 -26.1L-29.0 -29.9L-26.4 -31.6L-22.1 -29.9L-20.4 -32.5L-18.4 -37.2L-15.0 -35.8L-12.5 -31.5L-9.4 -32.8L-5.4 -34.6L-3.7 -31.3L-4.1 -26.7L-0.8 -26.1L3.6 -25.3L4.3 -22.1L1.6 -18.5ZM25.4 -18.9L29.1 -16.1L27.3 -13.8L23.9 -12.7L23.0 -10.6L23.8 -6.7L21.5 -5.4L18.2 -6.0L16.1 -5.1L14.3 -2.3L11.6 -1.7L9.5 -5.2L7.4 -5.9L3.5 -3.0L1.6 -5.0L1.1 -8.3L-0.1 -10.4L-3.7 -11.1L-4.5 -13.7L-3.1 -16.6L-2.3 -18.9L-5.0 -21.5L-4.6 -24.2L-1.7 -25.7L0.4 -27.1L-0.1 -30.7L1.5 -32.9L5.4 -31.2L7.3 -32.3L9.0 -35.6L11.6 -35.9L13.9 -33.4L16.1 -32.6L19.0 -33.4L21.9 -33.0L21.5 -28.8L23.4 -27.5L27.3 -26.9L27.7 -24.1L25.4 -21.1ZM42.8 4.0L37.9 6.4L38.4 9.1L40.3 12.9L38.4 15.3L34.0 15.1L32.7 17.4L31.5 20.8L28.9 22.4L25.3 19.0L23.0 20.2L20.0 23.0L17.2 21.6L15.9 17.9L13.5 17.0L9.4 17.6L7.3 15.4L9.1 11.1L8.3 8.8L4.2 7.0L4.2 4.0L7.0 1.5L7.0 -1.1L5.5 -4.9L8.4 -6.5L11.7 -7.2L13.6 -8.9L14.0 -13.5L17.0 -14.3L20.5 -11.4L23.0 -12.0L26.1 -16.0L28.7 -13.7L29.9 -9.6L32.8 -9.5L36.3 -9.3L37.9 -6.8L37.2 -3.2L37.6 -0.7L42.9 0.9ZM17.1 20.9L19.6 23.8L18.5 26.5L14.7 27.8L13.7 30.0L14.6 34.4L11.6 35.3L7.8 34.0L6.0 36.0L4.0 39.2L1.1 38.8L-1.3 35.9L-3.7 35.6L-7.4 37.5L-9.7 35.7L-9.6 31.6L-12.2 30.5L-15.2 29.2L-16.2 26.5L-14.2 23.3L-15.9 20.9L-18.3 17.8L-15.1 15.6L-12.5 13.9L-11.6 11.6L-12.7 7.1L-9.8 5.8L-5.8 7.5L-3.7 6.1L-1.9 2.3L1.1 2.3L3.3 6.8L6.1 5.3L9.7 3.9L11.2 7.0L11.6 10.3L13.5 11.8L17.5 12.5L17.8 15.4L15.0 18.7ZM1.5 12.5L-1.6 15.1L-3.4 17.3L-2.7 20.4L-2.5 23.9L-6.8 23.9L-9.3 24.8L-10.0 28.6L-11.9 31.9L-15.7 28.5L-18.2 26.8L-21.1 30.8L-24.0 30.4L-25.8 27.3L-27.0 24.6L-31.6 25.8L-34.1 24.0L-33.0 20.0L-32.1 17.0L-36.2 15.3L-37.3 12.5L-34.8 9.9L-32.5 7.9L-33.8 4.6L-33.6 1.3L-29.7 1.0L-27.2 0.1L-26.2 -3.1L-24.4 -6.5L-20.8 -4.0L-18.2 -1.9L-15.3 -5.7L-12.4 -5.3L-11.0 -1.6L-9.3 0.2L-5.7 0.0L-1.8 0.6L-3.6 5.1L-4.2 7.9L0.2 9.6Z" fill="#70a65c"/><path d="M18.3 0.0L12.8 2.9L9.4 4.5L12.3 9.8L11.4 14.3L5.8 12.0L2.3 10.2L0.0 15.8L-4.1 17.8L-6.2 12.8L-6.5 8.2L-11.9 9.5L-15.9 7.7L-13.0 3.0L-10.7 0.0L-14.9 -3.4L-15.9 -7.7L-10.6 -8.5L-6.5 -8.2L-6.8 -14.0L-4.1 -17.7L-0.0 -14.2L2.4 -10.5L6.8 -14.0L11.2 -14.0L10.8 -8.6L9.9 -4.7L15.0 -3.4Z" fill="#4a8040" opacity="0.75"/><path d="M-28.5 -3.5l0.0 1.8M-31.6 -8.1l-2.5 1.3M-33.3 -16.2l-1.8 0.1M-32.1 -22.3l-2.5 -0.4M-30.2 -26.1l-1.8 0.7M-27.2 -29.6l-1.9 -1.1M-19.8 -33.5l-1.6 -1.1M-16.3 -34.1l-1.2 -1.6M-10.8 -33.7l-2.1 -1.1M-3.4 -30.1l2.1 0.7M-0.0 -26.5l2.0 -1.7M2.5 -10.1l1.7 -1.0M-19.4 2.0l1.7 2.0M-24.5 -0.2l-2.5 -0.5M1.9 -31.2l-2.6 1.4M5.1 -33.1l-1.7 -2.1M9.8 -34.5l2.3 -0.8M16.1 -33.9l-1.7 -1.5M19.4 -32.5l1.4 -2.5M24.8 -27.3l0.5 -1.8M25.9 -25.5l-0.2 -2.3M27.3 -20.1l1.9 -1.3M27.0 -15.8l0.1 1.8M25.1 -10.9l2.3 0.6M21.1 -6.4l1.8 0.7M-3.0 -13.3l-1.9 -1.9M-3.1 -24.3l-1.5 1.4M-1.6 -27.3l-0.5 -1.8M29.7 -12.1l-1.4 -1.4M34.2 -9.4l0.9 -1.7M38.4 -4.3l-0.3 -2.1M40.2 1.3l1.0 -1.6M40.4 5.4l1.1 -1.9M38.9 11.1l0.9 2.0M35.7 16.1l1.1 2.7M30.7 19.7l1.4 2.0M25.3 21.4l-2.4 1.1M20.1 21.3l1.2 2.3M14.6 19.4l1.2 1.9M8.1 13.3l0.4 2.1M11.0 -8.8l-2.5 -0.2M19.0 -13.0l0.0 -1.8M26.2 -13.2l-2.2 -1.6M-15.8 18.8l-2.7 0.1M-13.0 11.4l-1.9 -0.2M-0.1 3.9l2.3 -0.8M12.4 8.2l1.5 -1.1M16.4 13.6l0.7 -2.1M17.8 18.0l2.0 0.0M17.8 23.6l2.3 -1.4M16.2 28.6l-0.5 2.0M11.8 34.0l1.0 2.6M8.6 36.1l-0.9 1.8M3.2 37.7l1.6 0.9M-0.8 37.7l-2.5 0.9M-6.2 36.2l0.1 2.8M-11.7 32.0l-2.6 1.0M-14.7 27.1l0.4 2.2M-15.8 22.9l-1.3 2.1M-31.0 24.1l-0.6 1.7M-34.1 19.3l-2.3 -0.4M-35.4 14.1l-2.1 -2.1M-34.6 6.9l-1.8 -1.9M-32.8 3.2l-2.7 -0.5M-29.1 -0.9l-1.5 -2.1M-25.4 -3.2l-1.9 0.0M-13.2 -4.0l2.2 -0.2M-9.7 -2.5l1.8 -0.6M-4.6 1.9l2.8 -0.4M-1.8 7.1l1.1 -2.3M-1.0 11.4l0.6 2.0M-6.3 25.0l-0.9 2.4M-13.1 29.0l1.5 2.1M-15.7 29.6l-0.0 2.6M-23.1 29.1l-2.2 0.4M-26.5 27.6l0.3 2.1" stroke="#2c522a" stroke-width="1.7" stroke-linecap="round" fill="none"/><path d="M-15.2 -20.6l-1.7 -0.5M-5.4 -7.2l-0.7 -1.6M-28.3 -7.7l2.0 -1.2M-29.4 -8.1l0.5 2.5M-16.5 -20.6l-0.8 -1.1M-28.9 -14.2l0.2 -1.2M-28.0 -16.2l2.2 0.8M-27.8 -11.7l-1.7 1.8M2.9 -20.5l-0.8 2.4M14.2 -23.5l-1.7 0.1M11.2 -26.2l-1.7 -1.7M6.8 -24.0l1.1 -1.1M10.4 -19.4l0.6 -1.1M22.5 -14.3l1.2 0.5M24.0 -18.8l1.6 -1.1M18.8 -14.5l-1.2 0.6M11.2 -10.4l-0.2 2.4M19.6 -12.5l2.4 -0.8M22.1 -19.8l-0.3 1.8M6.4 -19.9l1.2 -0.5M11.4 -26.1l0.1 -1.9M16.8 -19.0l1.2 0.8M20.6 -10.3l-1.4 -0.9M19.1 -21.7l-1.3 -2.0M17.7 -28.9l-0.2 -1.7M20.0 -8.0l1.2 1.9M27.6 -2.2l-1.4 -1.9M22.0 -5.6l0.1 -2.0M24.7 4.7l1.8 1.4M26.8 -9.3l1.0 -1.8M19.7 7.5l1.5 0.0M33.3 -4.1l-1.2 0.9M11.9 -4.2l0.6 -1.8M33.7 -2.0l0.9 1.7M33.5 9.0l-0.8 -1.3M24.5 -4.7l1.5 1.5M15.4 -2.6l1.2 1.3M29.3 -2.0l-1.4 -1.0M23.4 -11.1l1.1 0.6M14.6 23.9l0.1 2.1M0.2 13.9l1.8 1.7M-2.6 8.2l1.3 -1.4M-0.5 16.8l-1.4 0.3M12.0 28.3l-1.7 0.3M-1.7 35.1l-0.1 1.8M-4.9 21.4l-0.4 -2.1M-11.4 20.5l-0.7 -1.5M-2.2 8.4l-1.1 -1.0M13.5 25.9l-1.5 0.1M-1.3 7.6l1.7 -0.7M14.4 17.3l2.2 0.9M-7.4 10.4l-1.0 -1.6M-17.5 25.3l1.6 -1.2M-26.8 13.9l0.1 2.3M-12.1 17.1l-1.9 -1.8M-24.2 8.5l1.4 0.6M-13.8 22.0l2.0 -1.4M-17.0 6.9l1.7 -1.9M-21.8 17.9l-1.5 -0.2M-20.8 20.7l-2.0 -0.0" stroke="#2c522a" stroke-width="1.3" stroke-linecap="round" fill="none"/><path d="M-26.3 -26.8l-1.0 -1.1M-14.3 -11.7l1.0 -1.7M-16.5 -26.5l-1.8 -0.3M-10.3 -3.9l-0.8 -2.0M-9.5 -12.3l1.6 1.3M-16.3 -30.8l-0.5 -2.3M0.8 -19.6l0.1 -1.3M-16.6 -10.4l-1.1 1.5M-11.9 -28.1l-0.8 1.4M-7.2 -12.0l-1.3 0.2M-26.4 -6.6l-1.5 -1.0M-23.1 -26.3l1.2 0.2M-0.5 -16.0l1.5 2.0M-9.5 -6.0l-1.0 0.9M-9.4 -20.7l0.6 -1.1M-20.0 -19.4l1.3 -0.7M-7.9 -14.4l-0.2 1.8M-25.2 -5.3l-1.4 -0.2M-6.9 -1.9l-1.2 0.4M20.3 -7.9l-0.3 1.5M16.4 -22.5l1.3 0.4M13.6 -21.0l1.5 1.4M20.8 -20.5l-1.5 -0.1M3.3 -11.2l-1.1 2.2M5.4 -22.3l1.6 0.5M15.3 -22.5l-1.5 0.9M12.2 1.6l0.4 1.3M19.8 -10.3l2.0 0.3M18.8 16.9l0.9 1.5M31.3 -6.1l1.6 -1.7M25.7 -5.8l-1.2 -1.8M17.2 -8.6l-1.4 -0.3M9.6 9.3l-0.4 1.5M34.2 11.6l-0.8 1.6M16.4 15.5l1.2 -1.5M-2.6 17.2l-1.7 1.8M15.0 15.6l1.1 -1.4M5.7 22.9l-0.2 -2.6M-3.7 34.2l-0.3 -2.4M1.2 30.2l-2.5 0.2M-12.9 14.7l-0.4 -1.6M12.8 27.7l-2.0 -0.5M13.9 13.1l-1.1 2.0M-12.7 26.5l-0.5 1.5M-19.1 28.1l-0.2 -2.2M-9.5 12.8l1.6 -1.0M-28.3 17.5l-0.7 1.7M-11.7 3.8l1.1 0.7M-25.7 8.5l2.1 0.6M-6.5 7.5l-1.1 0.6M-11.8 6.9l-1.1 2.3M-19.3 22.5l-2.1 -1.4M-19.1 -1.1l-2.0 0.3M-16.1 1.7l1.1 -1.0M-22.8 2.7l-2.3 1.0" stroke="#4a8040" stroke-width="2.0" stroke-linecap="round" fill="none"/><path d="M-17.8 -7.5l2.0 -0.4M-9.4 -14.8l-1.6 -1.2M-4.2 -11.5l2.3 -0.6M-8.8 -25.5l0.5 1.3M-2.3 -19.4l2.0 1.5M-25.0 -18.5l2.1 1.4M-14.5 -16.9l-1.5 1.7M-15.0 -4.6l-1.7 -0.2M-11.7 0.3l-1.8 0.3M-17.9 0.2l-2.2 -0.1M-16.5 -4.5l-0.8 -1.4M-22.8 -7.4l2.0 -0.4M-22.7 -19.4l-0.2 -1.9M-4.9 -13.4l1.7 0.2M-18.7 -31.5l2.5 -0.2M14.2 -9.7l1.1 0.7M3.1 -26.0l1.4 -0.5M14.4 -23.0l-0.1 2.3M15.4 -13.4l1.5 -0.5M1.5 -15.4l1.5 2.0M0.6 -12.8l-0.6 2.3M2.8 -29.6l0.2 -1.4M20.7 -12.1l-2.1 -1.2M20.3 -20.5l-0.3 -2.1M0.4 -11.8l-0.4 1.2M23.5 -23.3l-2.5 -0.1M5.8 -15.5l-1.1 -0.5M21.6 -11.4l-1.3 -0.3M-1.1 -14.1l-2.0 0.0M15.9 -14.1l-0.3 -2.2M2.0 -27.9l-0.5 -1.4M-1.6 -17.9l-0.5 2.4M19.6 -10.6l-0.3 -2.2M37.1 4.1l1.2 -2.0M11.0 -2.6l-1.7 0.8M21.4 0.4l0.8 -1.3M9.8 9.4l-1.9 -0.3M30.1 3.5l-0.7 1.1M20.5 -6.3l-0.7 1.3M19.7 7.7l-1.3 1.6M22.7 5.3l-1.3 0.6M34.7 4.5l1.3 -2.2M26.9 2.0l1.4 0.1M34.0 10.3l-1.6 -1.9M12.1 3.2l1.1 1.5M18.9 5.4l0.1 2.1M30.3 8.7l-0.6 2.4M14.2 16.8l-0.7 1.1M18.5 -5.8l0.9 -1.0M18.8 -5.8l2.3 0.9M21.2 12.0l-2.4 -0.0M27.8 13.5l2.2 0.6M20.2 16.6l-1.2 0.3M-9.3 11.2l-1.4 0.2M10.2 30.6l-2.1 0.6M5.6 29.6l-2.0 1.4M-6.4 13.9l-2.0 0.6M-8.5 15.6l0.4 -2.4M-5.3 31.1l1.3 -0.6M-7.0 20.9l1.9 0.5M14.7 19.9l-1.5 0.4M5.9 25.5l-1.0 2.4M8.0 9.2l0.8 1.4M7.0 23.4l-2.2 0.1M10.8 14.8l-1.6 -0.8M8.7 22.6l1.3 1.3M0.6 9.0l-1.3 1.0M-8.4 10.3l-0.6 2.2M12.8 21.5l1.5 0.1M2.0 27.8l-1.8 -1.1M7.9 28.5l0.7 1.9M3.1 19.9l-0.5 1.8M0.3 27.0l1.5 -0.9M-6.6 31.2l2.1 0.3M-12.1 17.7l-1.9 -1.6M-3.6 17.2l-1.6 0.0M-22.0 19.5l1.7 0.0M-13.0 19.6l2.1 -0.8M-18.2 21.0l-2.1 0.3M-26.2 11.3l0.3 -1.4M-30.9 17.6l1.4 -1.4M-15.1 11.4l-2.2 1.1M-9.0 25.1l-0.7 1.9M-24.2 1.1l-1.3 1.4M-22.1 19.0l-1.6 0.1M-10.4 -0.5l2.0 1.0M-26.6 0.1l2.1 0.5M-15.7 11.4l2.0 1.4M-24.4 15.5l1.1 1.0M-3.6 7.9l-1.4 0.9M-8.0 15.6l-1.0 -1.2M-21.6 26.9l-0.5 -2.0M-14.1 5.2l-0.2 -2.1" stroke="#a2ce8c" stroke-width="2.3" stroke-linecap="round" fill="none"/><path d="M-7.1 -26.7l0.3 2.5M-8.0 -12.9l-1.7 0.4M-6.0 -20.9l-1.6 0.0M-18.7 -16.3l0.1 1.8M3.7 -29.7l2.0 0.9M8.2 -23.7l-1.4 0.1M1.3 -18.5l-2.3 -0.8M4.8 -14.5l1.2 0.5M18.3 -2.0l1.6 0.1M20.8 5.4l0.2 -1.8M8.4 3.4l-1.9 0.6M5.5 13.7l-1.6 -1.2M-2.0 28.4l-1.5 -1.1M-7.9 12.8l1.9 -1.0M4.8 16.3l-1.4 -1.2M-30.8 10.0l1.4 -1.6M-12.9 13.5l1.8 0.1M-7.0 7.2l0.5 -2.0M-14.7 22.0l1.4 0.2M-22.0 19.5l1.2 0.2M-24.7 20.6l1.8 -1.2M-15.2 27.8l-1.3 -0.7" stroke="#d8ebd0" stroke-width="1.5" stroke-linecap="round" fill="none"/><circle cx="2.4" cy="-0.4" r="1.9" fill="#f6fbf2"/><path d="M0 0L-2.0 -4.2M0 0L4.2 -1.8M0 0L0.1 4.6M0 0L-4.5 0.9" stroke="#5f3325" stroke-width="1.6" stroke-linecap="round" fill="none"/><circle r="1.7" fill="#5f3325"/></g>
<g id="l2"><path d="M24.6 -21.6L22.5 -19.1L24.1 -15.9L23.6 -12.9L20.0 -11.9L17.7 -10.6L16.8 -7.3L14.5 -5.0L11.1 -6.8L8.5 -8.1L5.7 -5.6L2.6 -5.3L0.4 -7.4L-0.5 -10.8L-3.4 -11.6L-7.0 -12.6L-5.9 -16.3L-5.8 -19.0L-8.1 -21.6L-8.9 -24.6L-6.4 -27.0L-3.8 -28.6L-4.1 -32.1L-3.4 -35.7L1.1 -34.4L3.8 -34.4L5.7 -37.5L8.5 -38.9L11.3 -37.1L13.1 -34.1L16.8 -35.9L19.9 -35.1L20.0 -31.2L20.8 -28.6L23.3 -26.9L25.4 -24.5ZM35.6 -9.8L37.2 -7.0L39.6 -3.3L36.4 -1.3L32.2 -0.9L32.4 3.0L30.4 5.3L27.3 5.6L24.3 5.0L21.7 6.6L18.6 7.9L16.1 5.6L14.6 2.6L11.7 2.2L7.0 2.6L8.0 -1.8L8.3 -4.9L5.4 -6.9L3.6 -9.8L4.6 -12.8L8.5 -14.6L7.0 -18.3L7.1 -22.0L10.9 -22.7L14.2 -22.8L16.2 -24.9L18.4 -28.4L21.7 -26.9L24.2 -24.0L27.2 -24.9L31.1 -26.0L32.3 -22.4L32.3 -18.7L36.1 -18.1L38.5 -15.9L38.0 -12.7ZM31.7 16.0L32.7 19.2L29.8 21.5L27.9 23.7L28.0 27.2L26.7 30.4L23.0 30.5L20.0 30.9L17.6 33.0L14.6 35.1L11.6 33.2L9.3 30.5L6.0 31.0L2.2 30.7L1.7 26.8L1.9 23.3L-1.8 22.0L-4.0 19.3L-2.7 16.0L-0.1 13.4L-2.3 9.9L-2.9 5.9L1.2 4.7L4.9 4.5L5.7 0.5L8.1 -1.8L11.7 -0.4L14.6 0.8L17.8 -1.9L21.5 -2.9L22.8 1.7L23.9 4.9L28.1 4.7L30.5 6.8L29.7 10.5L30.0 13.3ZM14.9 22.4L11.1 25.1L11.1 28.0L12.4 32.0L9.5 33.9L5.6 34.1L3.9 36.5L2.2 39.9L-1.0 40.7L-4.2 38.6L-7.0 38.2L-10.5 39.7L-13.5 38.5L-14.0 34.0L-16.0 32.3L-19.6 31.3L-22.0 28.9L-19.9 25.2L-19.2 22.4L-22.6 19.2L-21.1 16.3L-17.3 14.8L-16.3 12.3L-16.0 8.3L-13.9 5.6L-9.7 7.4L-7.0 6.8L-4.2 4.6L-0.8 3.4L1.0 8.2L3.7 8.8L8.2 7.7L10.7 9.9L10.0 14.2L10.4 17.1L14.3 19.1ZM-4.3 5.5L-1.6 8.9L-5.0 11.4L-8.2 13.0L-7.3 17.1L-9.0 19.9L-13.1 19.4L-15.9 19.9L-18.2 22.0L-21.1 25.0L-24.1 22.5L-26.2 19.3L-30.3 21.3L-32.8 19.4L-34.2 16.5L-33.9 12.8L-38.4 11.8L-39.7 8.8L-38.3 5.5L-35.2 3.0L-36.9 -0.2L-38.1 -4.3L-33.9 -5.2L-30.8 -6.1L-29.5 -9.0L-27.4 -11.7L-24.0 -10.5L-21.1 -8.9L-17.9 -12.6L-14.5 -12.8L-12.5 -9.4L-11.3 -6.2L-7.9 -5.6L-5.4 -3.6L-5.3 -0.3L-6.9 3.0ZM-1.4 -15.3L0.9 -12.2L0.7 -9.0L-2.9 -7.3L-5.0 -5.4L-5.7 -2.2L-7.0 1.5L-11.2 -0.1L-14.1 -0.5L-16.7 2.0L-20.1 3.9L-22.4 0.3L-24.2 -2.4L-28.0 -1.9L-31.6 -2.8L-31.8 -6.6L-31.0 -10.1L-33.8 -12.3L-35.7 -15.3L-32.8 -18.1L-31.3 -20.6L-32.7 -24.5L-31.7 -27.8L-27.2 -27.7L-24.3 -28.4L-22.8 -32.0L-20.1 -34.2L-16.7 -31.9L-13.9 -31.2L-10.6 -32.3L-6.9 -32.3L-5.7 -28.4L-4.8 -25.3L-0.7 -24.5L1.2 -21.8L0.0 -18.3Z" fill="#d8ebd0" stroke="#d8ebd0" stroke-width="1.2"/><path d="M25.4 -21.6L24.2 -19.1L20.9 -17.5L21.3 -15.1L22.0 -11.8L19.9 -10.2L16.0 -11.3L15.4 -8.0L13.7 -5.6L10.9 -6.3L8.5 -9.0L6.2 -6.7L3.0 -4.5L1.6 -8.0L0.7 -10.8L-2.5 -10.5L-5.3 -11.5L-5.4 -14.5L-4.3 -17.4L-6.8 -19.1L-8.3 -21.6L-7.2 -24.1L-3.6 -25.5L-4.3 -28.1L-6.3 -32.3L-2.1 -32.2L0.4 -32.7L1.6 -35.2L3.0 -38.4L6.0 -37.4L8.5 -35.0L10.8 -36.0L13.9 -38.0L15.4 -35.1L16.6 -32.6L19.4 -32.4L23.0 -32.1L22.1 -28.5L21.2 -25.7L22.9 -23.8ZM38.6 -9.8L40.4 -6.8L36.6 -4.9L34.2 -3.4L35.4 0.2L34.0 2.5L30.8 2.8L27.7 1.9L26.7 5.7L24.4 7.4L21.7 6.3L19.7 3.2L16.4 6.5L13.1 7.0L12.7 2.6L11.7 0.3L9.0 -0.5L6.2 -1.9L7.8 -5.3L8.7 -7.7L6.1 -9.8L3.3 -12.7L7.7 -14.3L9.4 -16.1L8.7 -19.2L9.4 -22.1L12.8 -22.1L15.7 -21.6L16.4 -26.2L18.9 -27.4L21.7 -25.3L23.9 -23.4L26.9 -25.6L29.9 -25.8L30.5 -21.9L31.1 -19.1L35.5 -19.8L37.3 -17.7L36.2 -14.5L35.7 -12.0ZM29.9 16.0L32.7 18.9L32.5 21.8L28.0 22.8L26.6 24.7L27.2 28.6L26.1 31.8L21.7 30.0L19.2 30.2L17.5 34.1L14.6 34.8L12.1 32.0L9.9 30.5L6.8 31.3L3.1 31.9L3.1 27.5L2.3 24.9L-1.0 24.0L-2.8 21.7L-0.3 18.4L0.1 16.0L-3.6 13.1L-3.0 10.3L1.3 9.2L3.0 7.6L2.5 3.9L3.4 0.6L7.3 1.7L9.9 1.5L11.9 -0.9L14.6 -2.6L17.0 1.1L19.3 1.5L23.0 -0.4L25.7 0.8L26.2 4.4L26.5 7.4L30.9 7.7L32.5 10.2L29.8 13.6ZM15.4 22.4L12.4 25.0L9.9 27.0L10.7 30.0L11.6 33.9L7.1 33.7L3.9 33.5L3.0 36.6L1.7 40.6L-1.5 39.3L-4.2 36.2L-6.8 38.7L-9.8 39.7L-11.9 37.6L-12.8 34.3L-15.4 33.6L-20.3 34.1L-19.3 30.1L-17.3 26.7L-20.3 24.9L-22.5 22.4L-21.1 19.7L-18.4 17.8L-18.4 15.1L-19.0 11.6L-16.2 10.4L-12.9 10.4L-11.9 7.3L-10.0 4.5L-6.7 6.5L-4.2 7.9L-1.6 6.1L1.8 3.8L3.4 7.4L4.4 10.6L8.0 10.2L11.3 11.1L11.3 14.5L9.1 18.1L11.3 19.9ZM-3.8 5.5L-2.4 8.5L-7.1 10.0L-8.4 12.0L-6.7 15.9L-8.1 18.5L-12.5 17.3L-14.3 19.0L-15.7 22.1L-18.2 23.9L-21.1 20.1L-23.5 20.7L-26.6 22.2L-29.5 21.8L-29.8 17.4L-31.6 15.9L-35.1 15.7L-37.3 13.7L-35.7 10.2L-35.3 7.7L-39.2 5.5L-38.1 2.8L-35.9 0.7L-35.1 -1.6L-36.1 -5.4L-33.9 -7.2L-29.4 -6.0L-27.6 -7.3L-26.9 -12.2L-24.0 -12.9L-21.1 -10.0L-18.7 -9.8L-15.5 -11.7L-13.1 -10.2L-12.4 -6.5L-10.7 -4.9L-6.4 -5.2L-4.4 -3.0L-7.1 0.9L-5.7 3.0ZM-1.1 -15.3L2.6 -12.2L-0.0 -9.9L-3.6 -8.6L-4.2 -6.2L-2.7 -1.3L-6.6 -1.3L-10.1 -2.3L-11.8 -0.3L-13.9 2.7L-16.7 1.2L-18.9 -1.4L-21.7 -0.1L-25.1 1.2L-26.5 -1.9L-27.2 -4.8L-30.2 -5.5L-34.4 -6.3L-32.7 -10.1L-31.4 -13.0L-33.2 -15.3L-34.9 -18.2L-33.8 -20.8L-29.5 -21.8L-29.6 -24.6L-29.8 -28.4L-27.3 -29.9L-23.1 -27.9L-21.7 -30.7L-19.7 -34.3L-16.7 -32.4L-14.4 -29.9L-11.9 -30.2L-8.1 -32.2L-6.5 -29.4L-6.3 -25.7L-3.4 -25.0L-0.1 -23.8L-0.1 -20.7L-1.7 -17.7Z" fill="#70a65c"/><path d="M11.0 0.0L14.1 3.2L15.8 7.6L11.3 9.0L7.1 8.9L6.0 12.4L4.0 17.4L0.0 14.6L-2.5 11.1L-6.1 12.7L-11.7 14.6L-11.2 8.9L-9.5 4.6L-13.9 3.2L-17.7 0.0L-14.7 -3.3L-9.8 -4.7L-10.5 -8.4L-10.8 -13.5L-6.4 -13.3L-2.4 -10.6L-0.0 -13.5L3.9 -17.1L6.1 -12.7L6.6 -8.3L10.7 -8.6L16.0 -7.7L14.6 -3.3Z" fill="#4a8040" opacity="0.75"/><path d="M18.2 -33.4l0.2 -2.7M21.0 -30.4l2.4 1.3M22.9 -26.8l-0.1 -1.8M23.8 -21.3l1.6 -2.3M22.7 -15.8l0.4 2.5M20.0 -11.4l0.0 1.9M-6.0 -16.8l-2.4 0.9M-6.8 -21.2l-1.6 2.0M-6.3 -25.6l-1.4 -1.3M-4.4 -29.8l-2.0 -0.3M-0.1 -34.2l-0.9 -2.4M4.3 -36.3l1.6 -1.3M9.5 -36.9l-0.5 -2.2M13.7 -36.0l1.3 -1.4M34.5 -19.3l0.6 -2.3M37.2 -13.2l1.8 -1.3M37.6 -8.9l0.8 2.1M36.8 -4.9l2.4 -0.6M34.3 -0.0l2.1 -1.0M29.8 3.9l0.6 1.9M25.8 5.6l1.6 1.7M21.6 6.1l2.9 0.6M15.4 4.8l-1.7 1.7M11.8 2.7l-1.9 2.2M9.3 -19.7l0.1 -2.4M12.8 -23.0l0.8 -2.8M16.3 -24.7l-1.8 -2.0M23.4 -25.6l-0.3 -2.5M25.9 -25.1l-0.4 -2.8M30.0 -23.4l-2.0 -1.9M31.0 19.1l2.4 0.9M28.5 25.3l2.6 1.4M25.6 28.6l2.9 -0.7M21.7 31.2l-1.6 1.3M15.4 32.7l0.9 2.0M10.4 32.2l-1.6 2.2M5.8 30.3l-2.0 0.3M1.3 26.1l-0.2 2.4M-2.1 15.2l-0.7 2.5M-1.0 10.1l-1.3 1.4M1.1 6.1l0.9 -1.8M20.1 0.2l-0.3 -1.8M24.1 2.2l1.7 -1.4M26.8 4.5l1.4 -1.3M30.0 9.4l1.6 -1.2M31.3 15.8l2.5 0.7M-20.8 22.8l-1.6 -2.4M-19.6 16.2l-1.9 -2.2M-18.3 13.6l-2.6 0.1M0.5 6.5l-0.6 -2.5M12.4 23.7l2.2 1.2M11.6 27.7l1.9 1.5M10.2 30.6l1.5 1.1M5.8 35.6l1.8 0.2M1.7 37.9l-1.6 2.5M-2.5 38.9l1.1 2.0M-8.0 38.6l-2.1 -0.1M-14.9 35.1l-2.1 0.2M-16.7 33.3l0.8 2.4M-20.1 27.3l-1.2 -2.2M-35.0 -3.4l-1.3 -1.7M-33.2 -5.7l0.9 -1.6M-29.7 -8.6l-1.9 -1.1M-24.4 -10.7l1.4 -2.5M-8.9 -5.6l2.0 -1.6M-4.8 7.7l1.2 -1.6M-8.8 16.5l1.7 0.7M-13.7 20.2l2.3 0.9M-20.3 22.0l1.3 2.1M-24.5 21.6l-0.8 2.1M-29.2 19.9l-2.1 0.0M-32.0 17.8l-1.4 2.5M-36.0 12.7l-1.8 0.8M-37.4 8.3l-2.4 -0.9M-37.5 3.9l-0.7 -1.8M-12.7 1.0l2.7 -0.2M-17.8 1.5l1.8 0.5M-23.7 0.0l-2.2 1.4M-27.8 -2.6l0.3 2.5M-30.0 -4.9l-1.8 0.4M-33.0 -11.2l-1.7 2.5M-33.5 -14.7l-0.8 -2.1M-32.8 -20.2l-2.2 -1.8M-29.4 -26.3l-0.0 -1.9M-26.4 -29.0l-2.6 0.8M-22.1 -31.3l-2.0 -1.4M-16.0 -32.1l-1.2 -1.5M-10.6 -31.0l2.2 0.3M-6.8 -28.8l0.8 -2.0M-2.5 -24.3l1.6 1.5M-4.2 -4.1l0.7 2.7M-6.2 -2.2l1.8 -0.9" stroke="#2c522a" stroke-width="1.7" stroke-linecap="round" fill="none"/><path d="M21.0 -25.9l-2.0 -1.7M18.4 -18.2l0.6 -2.4M0.8 -31.0l-0.5 -2.5M6.7 -9.8l0.0 1.5M11.0 -8.8l-1.9 1.7M9.7 -22.0l-1.6 -0.5M19.2 -22.6l0.9 -1.7M17.4 -30.6l1.2 -1.2M3.8 -22.2l1.0 -1.0M13.9 -31.2l-1.4 -1.5M16.0 -32.9l0.1 1.6M13.1 -29.4l-1.6 0.8M-1.4 -29.6l1.4 1.7M29.3 1.2l1.4 0.4M10.5 -18.0l1.1 -1.6M31.3 -3.8l-2.2 1.1M12.4 -7.6l-1.8 0.6M14.7 -22.2l1.4 -1.1M8.8 -15.4l-2.2 0.8M21.9 -22.6l-0.2 1.2M33.3 -8.7l-0.3 2.0M27.3 0.5l2.1 0.1M32.4 -8.1l1.1 1.0M19.9 -12.2l-1.8 1.4M33.1 -10.1l-1.1 -0.7M23.1 2.1l2.5 -0.4M18.1 -5.9l-2.1 0.3M21.1 3.9l1.2 0.5M10.1 11.8l-2.4 -0.1M5.6 23.4l1.5 0.3M22.1 15.9l2.1 0.0M20.6 23.7l-0.4 -1.5M11.4 28.3l-1.2 1.9M23.2 14.3l-1.6 -0.1M4.8 12.6l-1.6 -0.0M-11.5 31.0l-0.5 1.2M-4.3 36.6l2.3 -0.5M1.0 28.1l-1.2 -0.8M-8.5 29.8l-0.9 -1.1M1.1 16.8l-1.8 -1.8M-14.0 16.2l0.2 2.5M-11.0 9.6l-1.3 1.2M5.1 13.3l0.1 -1.3M5.2 14.6l2.0 -0.5M-11.5 10.7l0.0 1.5M-21.2 0.6l-1.2 1.7M-15.8 9.5l1.0 1.4M-33.2 8.4l-1.0 1.2M-12.4 2.0l0.1 -1.4M-27.5 -5.8l1.3 -2.1M-30.0 8.9l-1.9 -1.2M-11.3 16.7l1.4 -1.4M-15.7 4.3l-1.3 -0.3M-13.2 4.6l1.2 1.0M-31.1 -0.1l1.3 1.1M-21.0 19.1l-0.7 -1.6M-10.2 -1.4l1.5 -1.7M-24.3 17.6l-1.2 0.6M-26.2 14.4l-1.6 1.9M-18.6 -25.3l1.3 0.1M-13.3 -3.2l2.2 -0.7M-19.0 -28.7l-2.1 1.1M-16.4 -18.0l-0.8 -1.3M-14.0 -21.8l2.2 1.3M-20.1 -30.1l0.8 1.7M-1.8 -17.6l1.0 1.8M-9.9 -10.9l1.3 1.2M-23.3 -25.4l1.6 -1.8M-24.2 -2.6l-2.0 1.0M-7.0 -4.7l-1.9 0.3M-26.0 -4.5l0.1 2.0M-28.2 -18.0l0.3 -1.8M-11.9 -16.8l-1.5 -0.4M-2.3 -18.5l1.8 -0.0M-15.6 -19.1l1.5 -1.9M-13.7 -1.5l1.5 1.4M-19.3 -29.0l-1.0 -1.2M-26.9 -20.0l1.1 -2.1M-23.2 -8.7l1.7 0.7M-21.0 -14.2l1.5 -1.4M-15.1 -3.9l0.8 -1.4M-25.5 -26.4l-0.4 -1.2" stroke="#2c522a" stroke-width="1.3" stroke-linecap="round" fill="none"/><path d="M6.7 -21.6l0.4 1.2M10.9 -10.7l-1.0 1.9M10.5 -20.6l-0.9 -1.4M16.1 -21.5l1.4 0.0M1.9 -17.2l0.8 2.1M7.7 -16.1l1.3 -0.1M8.8 -16.8l-1.9 -0.5M5.8 -30.5l-0.9 2.1M11.2 -17.1l0.6 1.3M8.8 -10.3l0.8 -0.9M9.6 -25.0l2.4 0.3M10.2 -33.3l-0.1 2.5M18.1 -29.6l-1.2 -0.9M17.9 -17.7l-1.5 0.5M1.4 -14.1l-1.1 2.3M7.2 -13.2l-1.0 -2.0M2.9 -30.9l-1.5 0.2M35.1 -11.1l1.5 -0.2M20.2 -18.0l1.9 -1.0M26.1 -16.0l1.7 1.6M23.9 -23.3l-1.2 1.8M16.9 -6.0l0.0 1.8M34.8 -8.2l1.8 0.2M10.0 -7.4l1.6 -0.6M13.6 -1.9l1.6 -0.5M27.0 -7.7l-1.7 -0.1M21.8 22.0l-0.4 -2.4M7.8 26.5l-0.5 1.6M18.1 11.0l1.5 -0.8M7.5 18.0l1.7 0.3M16.8 17.0l0.2 1.5M5.9 22.5l1.1 -1.9M26.6 15.1l-0.4 -1.9M21.6 12.4l-1.8 1.5M17.8 2.9l1.9 -1.1M5.0 5.3l1.3 0.8M2.9 13.0l0.4 1.1M19.7 12.8l0.4 -2.3M8.1 8.3l-1.6 -0.7M4.7 20.1l-1.2 -2.2M-13.0 30.8l2.5 -0.1M-7.2 9.9l0.9 -1.3M-2.0 25.7l0.8 1.8M-4.1 32.8l-0.6 -1.4M-3.1 28.6l-0.9 2.3M-17.9 24.9l1.5 -0.5M-3.6 32.9l-2.3 -0.0M8.2 18.0l1.1 -1.8M-15.9 16.7l-0.3 1.6M-7.7 16.8l-1.8 -1.1M-2.9 19.1l1.5 -0.6M-4.8 14.6l-1.2 -1.7M3.1 21.1l-0.6 -1.2M-21.6 13.0l-1.3 -1.0M-18.4 13.3l-0.2 2.3M-12.8 16.2l2.3 -0.3M-28.0 -1.0l0.5 1.9M-29.5 9.8l1.7 0.2M-29.1 15.8l-2.0 0.2M-27.0 13.4l-1.2 -0.7M-20.7 -6.5l-1.2 1.3M-7.9 0.1l0.5 -2.3M-21.3 -4.4l1.6 -0.9M-20.8 16.1l0.1 1.4M-8.8 4.9l1.6 -1.5M-24.6 -27.3l1.0 -2.0M-6.1 -8.0l-1.6 1.4M-18.3 -22.9l-1.3 0.4M-13.0 -7.0l-1.0 -0.7M-4.7 -20.7l-2.1 -1.2M-17.7 -7.8l-1.8 -1.0M-11.3 -6.9l1.4 -1.5M-8.4 -17.2l1.6 0.1M-8.5 -15.8l-2.5 -0.5M-8.1 -7.0l2.1 -0.7M-14.5 -21.5l2.0 0.9" stroke="#4a8040" stroke-width="2.0" stroke-linecap="round" fill="none"/><path d="M6.5 -8.9l0.4 2.5M21.7 -25.1l1.2 -0.3M5.3 -18.2l0.7 2.1M-0.3 -19.2l1.4 -0.8M11.6 -28.8l0.7 -1.7M4.8 -18.2l1.4 1.9M1.6 -33.5l0.1 -1.2M8.9 -23.3l0.9 0.9M11.8 -16.0l-1.9 0.1M12.2 -26.8l-1.2 -0.4M10.3 -22.9l1.1 -0.6M2.8 -26.6l-0.0 2.3M4.1 -16.9l2.5 0.4M33.9 -11.5l0.8 -1.2M16.5 -15.0l-1.5 -0.0M24.0 -23.1l-0.8 -1.6M16.1 -11.6l2.0 -0.1M16.1 -20.0l-1.0 -2.3M12.2 -13.1l1.3 0.5M31.7 -19.2l-1.6 0.0M18.6 -4.7l1.9 1.5M9.3 -15.2l0.9 2.3M15.5 -20.1l-1.7 -1.7M26.6 -7.8l1.3 1.9M19.3 -2.7l0.3 -2.3M28.9 -6.4l2.5 -0.3M20.7 -11.8l-1.8 -0.5M22.7 -3.3l-1.8 0.8M31.8 -3.6l0.5 2.1M14.6 5.8l0.9 0.8M23.5 12.1l-0.9 2.2M10.8 13.2l-2.1 0.9M15.4 29.4l-0.9 -1.2M15.9 3.9l-0.7 2.4M21.9 22.9l-1.5 -0.1M21.1 5.2l-2.2 -1.0M17.4 9.1l-1.0 -2.1M26.8 12.6l-0.2 1.9M8.9 29.8l1.1 1.6M20.2 15.9l-1.1 -1.7M20.7 25.4l-1.8 0.5M4.5 15.6l-1.7 -0.1M13.2 13.0l-1.5 1.6M16.0 9.3l-1.2 -0.2M22.0 27.9l0.0 -2.5M8.5 2.8l-1.1 0.7M28.0 12.2l0.2 -1.3M1.9 20.8l-1.1 1.9M19.4 17.3l-0.5 2.5M24.5 4.8l0.6 -2.1M-10.6 31.7l0.9 1.4M-13.0 32.1l-1.6 0.6M-1.2 33.5l-0.5 1.5M0.4 33.7l-1.0 -0.9M-5.5 31.6l1.4 -1.2M5.2 11.7l-1.1 1.5M-0.0 28.6l0.9 1.9M-11.5 23.3l1.2 -0.3M-3.8 14.7l0.4 1.9M6.0 30.7l1.4 -0.6M-15.2 23.4l-1.4 0.1M10.6 24.1l0.5 1.1M-11.6 30.2l-0.5 -2.2M-7.7 23.2l-0.8 -1.1M-6.9 36.8l-0.6 1.2M-11.4 18.3l-0.3 1.2M1.1 27.3l-0.3 1.2M-11.3 17.1l-1.5 -1.3M-14.6 28.7l0.8 0.9M-13.5 17.5l-1.2 -0.9M4.4 22.5l2.0 -0.7M-28.7 9.5l-1.4 1.0M-18.8 6.9l0.3 -1.4M-19.0 19.1l-0.6 -1.4M-14.4 -1.3l-2.3 -0.7M-27.8 13.1l2.0 -0.2M-21.1 -3.8l0.1 2.1M-11.7 15.6l-0.9 -1.2M-27.5 6.8l-0.1 1.7M-33.3 -0.6l-1.9 1.7M-18.3 11.8l1.8 1.1M-14.6 2.4l-1.2 1.0M-27.7 15.7l1.4 -1.0M-35.2 5.3l1.6 1.4M-11.5 6.7l1.4 -1.1M-15.8 9.9l-0.9 -2.4M-17.9 2.0l-2.1 -0.6M-20.3 13.1l-2.2 -0.4M-25.8 -11.5l0.9 2.2M-16.1 -12.7l1.5 1.2M-12.0 -19.8l2.2 -0.8M-26.1 -17.4l-1.1 1.1M-22.0 -5.2l-2.4 -0.5M-23.4 -25.4l2.1 -1.3M-29.1 -9.5l-0.8 -2.0M-13.0 -29.6l0.3 -2.4M-10.7 -25.9l-0.7 1.0M-11.4 -7.0l0.6 -2.4" stroke="#a2ce8c" stroke-width="2.3" stroke-linecap="round" fill="none"/><path d="M2.4 -17.9l1.4 0.2M16.5 -20.5l-0.7 -2.0M1.9 -9.6l0.8 -0.9M24.2 -20.1l-2.1 0.0M24.6 -0.2l-0.6 1.5M33.7 -2.7l-0.9 -1.1M31.4 -11.4l-1.4 0.4M29.5 -12.8l0.2 -2.5M24.4 2.2l0.5 1.7M12.1 13.3l-0.8 1.7M19.2 18.1l0.4 -1.2M10.8 10.5l1.2 0.8M13.6 5.6l-0.6 -1.5M-10.4 30.2l-1.3 -0.9M6.6 16.6l2.2 0.8M-7.2 14.8l-1.1 -0.8M-10.4 15.3l-0.8 1.7M-18.3 7.4l-0.4 -1.4M-13.0 -4.1l1.0 -0.7M-23.1 -19.5l0.6 1.8" stroke="#d8ebd0" stroke-width="1.5" stroke-linecap="round" fill="none"/><circle cx="2.4" cy="-0.4" r="1.9" fill="#f6fbf2"/><path d="M0 0L4.0 -2.2M0 0L3.3 3.2M0 0L-3.2 3.3M0 0L-3.2 -3.3" stroke="#5f3325" stroke-width="1.6" stroke-linecap="round" fill="none"/><circle r="1.7" fill="#5f3325"/></g>
<g id="l3"><path d="M8.7 21.8L10.8 25.1L9.6 28.1L6.5 30.1L3.7 31.5L4.6 36.7L1.3 37.7L-2.7 36.2L-5.3 36.8L-7.9 40.3L-11.3 40.9L-13.2 36.2L-15.9 35.7L-20.2 36.4L-22.2 33.7L-21.7 29.8L-22.2 27.0L-25.7 24.9L-26.2 21.8L-23.8 19.0L-22.8 16.4L-24.0 12.5L-22.5 9.6L-18.1 9.7L-15.7 8.3L-14.6 3.5L-11.3 2.9L-7.9 6.3L-5.1 6.0L-1.5 4.0L1.8 4.9L2.5 9.3L4.0 11.8L9.2 11.9L9.1 15.6L7.6 19.0ZM-4.9 -3.7L-2.6 -0.4L-6.2 1.9L-8.3 4.0L-8.0 7.8L-9.1 11.2L-12.7 11.8L-16.6 10.3L-18.6 13.8L-21.7 15.9L-24.7 13.4L-26.9 10.5L-30.7 11.9L-34.7 11.8L-34.9 7.3L-35.1 4.0L-37.3 2.0L-41.2 -0.3L-39.2 -3.7L-37.4 -6.5L-38.6 -9.9L-38.1 -13.2L-34.7 -14.7L-31.6 -15.6L-30.0 -18.1L-28.3 -21.9L-24.6 -20.1L-21.7 -18.4L-18.8 -20.1L-14.9 -22.4L-13.4 -18.1L-12.1 -15.1L-8.5 -14.8L-4.3 -13.8L-6.2 -9.4L-6.8 -6.4ZM13.9 -20.8L16.4 -17.4L17.0 -13.5L12.0 -12.1L9.4 -10.3L9.1 -6.3L7.6 -2.2L3.3 -3.3L-0.3 -5.2L-3.1 -2.2L-6.6 -1.0L-9.0 -4.5L-11.3 -6.6L-15.6 -6.0L-18.5 -7.8L-17.8 -12.3L-18.4 -15.2L-21.8 -17.5L-23.9 -20.8L-21.5 -24.1L-18.8 -26.5L-19.8 -30.4L-19.1 -34.2L-14.8 -34.7L-10.9 -34.4L-9.9 -39.6L-6.8 -41.7L-3.1 -39.3L-0.2 -37.5L3.4 -38.7L7.1 -38.5L7.9 -33.9L9.6 -31.5L12.8 -30.0L15.5 -27.6L14.0 -23.8ZM37.0 -12.3L33.3 -9.5L33.1 -6.6L34.7 -2.4L32.1 -0.1L28.2 0.3L25.9 2.0L24.9 7.6L21.1 7.3L17.6 3.8L14.7 4.4L10.8 6.6L7.9 4.5L7.4 -0.0L3.9 -0.7L-0.9 -1.6L-0.8 -5.6L1.3 -9.4L1.0 -12.3L-1.7 -15.7L-0.6 -18.9L3.6 -20.4L3.9 -23.8L5.0 -27.4L8.3 -28.5L11.7 -28.6L14.6 -29.4L17.6 -31.9L21.1 -31.7L23.0 -27.1L26.3 -27.3L31.4 -28.6L33.2 -25.4L32.3 -20.7L33.5 -18.1L37.4 -15.8ZM33.4 16.1L29.7 18.9L30.1 22.0L30.7 25.8L28.0 28.0L24.5 28.8L22.7 31.4L20.9 35.3L17.3 35.3L13.9 32.6L10.9 33.1L7.4 34.2L4.4 32.6L3.8 28.2L1.7 26.4L-2.3 25.5L-3.5 22.5L-1.4 18.8L-3.2 16.1L-6.4 12.6L-3.8 9.7L-0.5 7.8L0.4 4.8L0.7 0.4L4.6 -0.0L8.6 1.5L11.1 0.1L13.9 -3.0L17.1 -1.9L19.5 0.9L22.7 1.0L27.0 0.5L28.4 4.0L28.0 8.0L30.2 10.2L32.5 12.9Z" fill="#d8ebd0" stroke="#d8ebd0" stroke-width="1.2"/><path d="M8.3 21.8L11.2 24.8L9.7 27.5L5.3 28.5L4.3 30.6L5.8 35.5L2.5 36.2L-1.0 35.4L-2.9 37.3L-5.0 40.2L-7.9 39.7L-10.4 37.1L-12.8 36.9L-16.2 38.0L-18.2 35.9L-18.1 31.9L-21.0 31.3L-25.2 30.6L-24.5 27.2L-23.1 24.2L-24.3 21.8L-26.8 18.8L-24.9 16.3L-21.2 15.0L-20.1 13.0L-20.6 9.1L-19.1 6.4L-14.8 8.3L-12.8 6.9L-11.0 2.4L-7.9 3.8L-5.5 6.6L-3.0 6.5L0.4 5.5L2.5 7.5L2.4 11.5L4.4 12.9L9.0 13.2L8.9 16.3L6.6 19.5ZM-2.5 -3.7L-7.0 -1.4L-7.3 1.0L-5.0 4.8L-6.2 7.5L-11.1 6.9L-12.4 9.1L-13.3 12.8L-16.0 13.8L-19.3 11.2L-21.7 10.7L-24.6 14.5L-27.2 13.2L-28.2 9.0L-30.9 8.9L-34.4 8.9L-36.5 7.1L-35.4 3.3L-36.2 1.0L-39.7 -0.9L-40.1 -3.7L-36.7 -6.1L-36.6 -8.5L-37.5 -11.8L-36.7 -14.6L-32.1 -14.1L-30.4 -15.7L-30.3 -20.7L-27.4 -21.2L-24.1 -18.7L-21.7 -19.3L-18.7 -22.8L-16.0 -21.1L-14.8 -17.3L-12.7 -16.0L-8.6 -16.8L-6.5 -14.7L-8.3 -10.5L-7.2 -8.4L-3.4 -6.6ZM17.6 -20.8L16.3 -17.7L12.4 -15.8L11.7 -13.2L13.4 -8.8L10.8 -6.9L6.4 -7.7L4.4 -6.2L2.9 -2.2L-0.2 -2.3L-3.1 -5.8L-5.7 -4.4L-9.1 -2.3L-11.8 -3.7L-12.6 -7.8L-15.6 -8.3L-19.0 -9.3L-20.3 -12.0L-18.2 -15.9L-19.4 -18.2L-24.2 -20.8L-22.6 -23.9L-17.6 -25.5L-19.0 -28.9L-19.4 -32.6L-16.4 -34.2L-12.7 -34.1L-11.1 -36.5L-9.2 -39.5L-6.0 -39.3L-3.1 -36.5L-0.5 -37.4L3.0 -39.6L5.3 -37.3L6.3 -33.7L8.4 -32.3L13.4 -32.8L13.6 -29.3L11.0 -25.4L13.5 -23.4ZM33.8 -12.3L36.2 -9.3L37.3 -5.9L32.5 -4.7L31.3 -2.3L31.0 1.1L29.0 3.3L24.6 1.5L22.8 3.5L20.6 6.8L17.6 6.7L15.1 3.6L12.4 3.7L8.4 5.9L6.3 3.3L6.6 -1.2L4.0 -2.4L-0.1 -3.3L-1.5 -6.0L2.3 -9.8L2.2 -12.3L-2.2 -15.4L-1.0 -18.3L3.8 -19.3L4.0 -22.2L3.5 -26.4L5.7 -28.7L10.6 -26.1L12.5 -28.2L14.7 -30.9L17.6 -32.7L20.1 -28.2L22.5 -27.4L26.6 -29.9L29.7 -28.9L28.8 -23.4L30.2 -21.4L35.2 -21.2L35.9 -18.2L33.0 -14.7ZM31.7 16.1L28.5 18.5L28.9 21.0L30.9 24.8L29.4 27.4L24.5 26.7L23.3 29.1L22.4 32.8L19.6 33.6L16.2 30.5L13.9 31.8L11.0 34.3L8.0 34.2L7.0 29.8L4.8 28.7L0.3 29.8L-1.8 27.5L0.9 22.8L-1.8 21.3L-5.1 19.1L-4.7 16.1L-1.7 13.7L-1.2 11.2L-3.4 7.3L-1.4 5.0L2.6 4.8L4.6 3.4L4.8 -1.7L8.1 -1.9L11.5 0.9L13.9 0.3L16.9 -2.7L19.4 -0.8L20.6 3.0L22.9 3.7L28.0 2.1L28.6 5.5L27.1 9.4L28.5 11.4L33.7 13.0Z" fill="#70a65c"/><path d="M17.2 0.0L16.2 3.7L10.5 5.0L9.0 7.2L10.5 13.1L7.1 14.8L2.6 11.6L0.0 11.5L-3.9 17.2L-7.7 16.1L-7.5 9.4L-9.0 7.2L-15.9 7.7L-16.3 3.7L-11.8 0.0L-10.9 -2.5L-15.0 -7.2L-13.3 -10.6L-7.4 -9.3L-5.0 -10.3L-3.8 -16.5L-0.0 -16.2L2.6 -11.4L4.9 -10.2L10.4 -13.1L12.7 -10.1L10.2 -4.9L11.3 -2.6Z" fill="#4a8040" opacity="0.75"/><path d="M-6.4 38.6l-1.4 2.0M-11.9 38.2l-2.6 0.7M-16.0 36.6l-2.1 -0.6M-19.6 33.9l-2.5 1.1M-22.6 30.1l-2.3 -1.5M-24.7 23.2l-1.9 -1.9M-24.6 19.5l-2.4 -0.4M-22.0 12.5l-0.2 -2.8M-19.0 9.1l-0.5 -2.6M-5.8 5.1l1.1 -2.2M0.8 7.4l-1.8 -1.6M5.2 11.2l2.0 -1.3M8.9 20.7l0.7 -2.0M8.7 24.4l2.1 -1.7M6.3 30.8l2.5 1.6M3.7 34.0l0.6 2.3M-1.8 37.5l-0.1 2.5M-25.1 12.7l-1.7 2.0M-28.9 11.4l-0.8 2.3M-33.7 8.1l-1.8 -0.6M-36.3 4.6l-2.3 -1.9M-38.0 0.2l-1.9 -1.4M-37.9 -8.1l-2.2 0.9M-37.0 -10.7l-2.7 1.1M-33.2 -16.0l-1.2 -1.5M-27.7 -19.4l1.0 -1.7M-24.0 -20.4l1.2 -2.6M-19.7 -20.4l0.2 -2.9M-15.3 -19.2l0.6 -1.7M-5.2 -6.7l1.6 0.9M13.3 -28.2l1.5 -2.4M14.6 -24.0l0.8 2.1M14.6 -17.6l2.2 -0.0M10.5 -9.1l-0.8 2.0M-5.6 -3.0l-2.4 1.5M-11.8 -5.1l-1.8 2.3M-19.5 -13.5l-2.2 -0.7M-20.9 -18.6l-0.4 2.1M-20.5 -25.2l-1.9 -0.3M-19.3 -28.6l-0.9 -1.9M-14.5 -34.7l-0.5 -2.0M-11.8 -36.5l-1.8 -1.7M-7.0 -38.4l-1.7 -1.0M1.2 -38.3l-1.2 -2.1M6.4 -36.1l1.2 -2.7M8.7 -34.3l-0.8 -1.8M0.4 -7.2l-2.0 1.2M2.2 -21.4l-1.7 -1.0M6.7 -26.5l-2.8 -0.3M10.4 -28.7l-1.3 -1.6M16.5 -30.2l2.3 -1.8M23.6 -29.2l-1.5 -1.0M28.0 -26.9l1.5 -2.5M31.8 -23.3l1.0 -1.5M34.9 -17.2l2.1 1.8M35.6 -11.5l1.0 -1.8M35.2 -8.8l1.9 1.6M31.8 -1.2l1.3 2.3M28.2 2.3l1.1 2.1M25.6 3.8l2.6 1.0M17.0 5.7l1.8 1.2M13.8 5.3l2.0 1.7M29.5 23.6l2.5 0.3M27.2 27.3l2.0 -1.6M22.8 31.0l-1.6 1.7M16.6 33.2l0.6 2.8M12.6 33.4l-2.1 0.4M5.9 31.5l1.6 1.4M2.0 28.7l-1.3 2.2M-0.8 25.2l-2.1 -1.6M2.1 3.5l-2.4 0.0M15.2 -1.1l2.1 -0.5M25.1 2.9l2.1 -0.9M29.8 9.2l1.5 -1.3M30.7 12.0l0.9 -2.8M31.2 16.8l1.8 -0.5" stroke="#2c522a" stroke-width="1.7" stroke-linecap="round" fill="none"/><path d="M-4.7 30.4l2.4 0.5M-17.8 10.7l0.1 1.2M6.4 17.7l-0.0 1.7M-10.7 17.2l-0.6 2.3M0.3 33.6l-0.9 1.8M6.6 22.3l0.8 -1.6M-0.3 14.8l1.4 0.1M-17.2 10.5l-1.0 -0.9M-4.8 16.0l-1.2 0.9M-31.9 1.9l-1.0 -1.5M-20.6 -17.1l0.8 1.7M-17.4 -0.3l1.5 1.0M-19.8 -14.5l-1.3 -0.0M-10.1 -4.4l0.2 -1.7M-18.9 -3.7l-1.1 -0.9M-19.8 7.8l0.6 1.9M-11.7 3.2l0.5 -2.4M-26.5 -16.9l-0.2 2.2M-15.3 -9.7l1.3 -0.8M-26.3 -17.1l-0.3 -1.8M-20.1 -1.7l-0.4 -1.2M-7.7 -34.0l-1.1 -0.7M-18.1 -21.1l2.0 0.4M-16.3 -15.2l-0.5 -1.6M-14.5 -20.1l0.9 2.1M-0.1 -7.5l1.5 1.2M9.5 -13.8l0.5 -2.1M-13.1 -20.9l0.3 2.4M-15.2 -10.0l-0.2 -2.3M1.2 -8.5l0.4 1.3M7.0 -18.6l-0.8 -2.2M-10.6 -29.0l-1.1 -0.8M-7.8 -35.1l-1.4 -1.7M-6.1 -33.4l-1.4 0.7M-16.1 -21.8l-2.3 -0.3M6.8 -10.4l-1.6 -1.7M-10.3 -23.7l-1.5 2.0M23.8 -25.6l-0.5 1.8M16.1 -20.8l-0.5 1.5M9.7 -15.1l1.0 1.2M28.0 -8.3l-1.4 0.1M3.0 -16.0l0.7 -1.0M5.3 -17.3l-1.7 1.7M10.9 -19.0l-1.6 1.8M3.5 -14.5l-1.4 0.6M3.7 -17.2l0.8 -1.4M20.0 -21.3l-0.5 1.6M7.8 -20.5l-0.7 -2.0M12.1 -20.5l0.5 -2.3M17.2 -3.3l-0.7 1.6M28.4 -2.3l1.7 -1.0M24.9 -21.0l-0.9 1.0M5.2 -7.2l0.4 -1.3M26.9 14.0l-1.2 2.1M28.1 14.1l-0.7 1.9M16.9 8.3l-0.1 1.2M16.3 22.4l-1.4 1.7M17.0 17.9l1.4 -1.4M28.1 11.2l-1.1 -0.7M6.6 8.5l0.7 -1.5M8.3 14.2l-0.2 2.4M27.8 21.3l0.5 2.1M15.4 20.3l-1.0 -0.8" stroke="#2c522a" stroke-width="1.3" stroke-linecap="round" fill="none"/><path d="M3.6 13.2l2.2 -0.0M-1.1 20.2l0.7 -1.5M-11.0 23.2l-1.3 1.3M-11.2 29.1l0.0 -1.2M-22.6 22.4l0.5 -1.4M-16.6 32.1l0.4 1.2M-18.3 27.8l-0.0 -2.1M-3.0 21.5l0.8 -1.7M3.6 19.8l-1.7 1.8M-11.2 12.6l-0.6 1.5M-12.3 32.4l-1.5 0.9M-13.8 21.6l-1.6 -0.2M0.6 17.5l-1.8 -1.7M-0.7 33.2l-1.2 0.9M-11.9 25.4l-0.2 -1.5M-10.6 -0.8l2.2 0.5M-24.8 -3.9l1.8 1.0M-16.3 -5.4l2.4 -0.1M-19.0 -9.9l-2.6 0.1M-9.1 1.1l-1.2 -0.4M-11.4 -12.4l2.2 0.1M-15.9 0.8l-0.6 1.1M-26.1 -15.3l-2.5 0.5M-24.2 2.8l1.8 1.0M2.9 -34.3l2.2 1.0M11.6 -17.6l-1.6 -1.7M-9.0 -27.2l1.1 0.8M-5.9 -7.3l-0.7 1.5M-1.1 -22.5l-0.1 1.5M-6.1 -15.1l-1.3 -2.0M-4.0 -36.3l-1.6 -0.8M-10.0 -17.1l1.6 -1.5M-8.1 -8.9l-1.2 0.6M-11.3 -32.7l-1.7 0.1M8.6 -18.0l0.3 -1.4M4.0 -23.2l-1.7 1.4M-8.1 -14.1l-0.1 -1.5M5.9 -6.6l-1.4 1.6M20.0 -15.4l2.0 -1.3M19.1 2.0l1.0 1.4M19.3 -18.7l-1.9 -1.5M13.4 -23.4l-2.1 0.8M7.2 -20.8l-1.2 2.2M8.1 -23.0l-0.2 -1.2M28.8 -18.3l0.5 -2.1M14.5 -19.1l-2.1 0.6M23.2 -8.1l0.2 -1.2M27.7 -11.4l1.9 -0.8M9.7 -22.5l-1.3 1.2M21.3 9.9l-1.7 -1.3M1.8 8.8l2.4 0.6M19.4 2.6l-0.3 2.0M0.7 11.5l-0.0 -1.5M18.7 3.2l-1.3 -0.7M4.7 22.6l1.4 0.4M15.8 6.1l0.3 -2.5M20.5 12.9l1.7 -1.9M20.6 24.2l1.2 -0.6M5.1 16.7l1.9 1.6M12.1 23.9l-1.0 1.1M29.0 15.9l-0.3 1.3M17.1 7.5l1.4 0.0" stroke="#4a8040" stroke-width="2.0" stroke-linecap="round" fill="none"/><path d="M-11.1 27.6l-0.1 -2.5M-12.8 13.7l-0.8 1.5M0.2 21.9l1.6 -0.5M-2.9 9.4l1.2 0.3M-1.1 18.0l1.8 -1.3M-2.0 9.7l-1.0 1.8M-7.9 25.7l-1.2 -0.4M6.3 20.0l-0.2 2.6M0.9 27.9l-2.1 0.7M-17.1 31.2l0.0 1.5M-5.3 20.2l1.2 1.1M-15.3 24.2l2.2 -0.8M-17.8 15.0l-1.0 1.1M-5.7 29.2l-1.2 -1.7M0.8 22.4l0.9 2.0M-4.0 34.8l1.8 0.8M-16.9 28.7l1.8 1.1M1.3 21.6l-0.2 -1.5M0.4 28.5l2.3 -0.5M2.5 32.4l-2.6 0.3M-13.0 4.2l-1.4 -1.4M-23.8 -2.8l-2.1 0.1M-16.3 -6.9l2.1 -1.0M-29.5 7.0l1.1 -0.9M-19.4 -9.0l1.7 -0.9M-22.6 7.1l1.6 0.4M-13.9 8.8l1.7 -1.3M-20.6 -8.8l-1.3 -1.5M-13.8 -11.9l1.5 -1.4M-9.6 -4.3l0.5 -1.7M-15.8 8.1l0.5 -1.1M-31.4 -15.3l-1.0 -1.7M-20.9 -3.6l1.3 1.1M-27.2 -2.8l0.1 2.5M-21.8 -2.1l-1.9 -0.8M-27.9 -11.8l-0.3 -2.5M-19.1 -5.5l-1.6 1.1M-19.2 -9.6l-0.5 1.6M-22.0 -14.1l-2.1 0.7M-14.8 -5.3l2.4 0.2M-20.5 9.4l-0.1 -2.5M-20.1 -1.7l1.2 -0.6M10.5 -29.0l0.4 1.3M-0.5 -12.0l1.8 0.2M0.1 -6.0l0.6 -1.2M4.2 -20.8l2.2 -0.3M-11.6 -8.6l1.5 -0.5M-9.5 -12.7l1.3 -1.1M-17.0 -23.6l-1.4 -1.8M2.1 -11.4l-2.0 -1.1M-18.0 -17.2l0.6 1.4M-7.5 -35.1l0.8 1.2M-8.5 -10.4l-0.7 1.3M10.6 -23.0l1.3 -0.3M-10.7 -28.0l1.9 -0.9M8.5 -9.6l1.6 0.6M-10.6 -22.1l-1.8 1.5M28.1 -1.7l1.0 -1.4M11.8 -6.5l0.7 1.7M27.1 -0.8l2.1 0.2M30.2 -16.2l1.2 0.9M10.1 -25.7l1.2 -2.0M22.0 -13.4l-1.4 -1.6M14.1 -13.3l1.6 0.1M7.7 -24.5l-1.2 -0.5M7.3 -10.6l-0.8 -1.1M18.8 -10.6l-0.5 -1.1M22.4 -13.3l1.7 1.8M16.1 -20.1l0.9 2.1M19.7 -25.9l-0.3 -2.4M8.1 -22.2l1.7 -0.8M19.5 -16.5l-0.2 -1.6M27.0 11.4l-0.5 1.9M18.5 4.0l-1.4 2.0M15.2 28.3l-2.1 0.5M13.5 29.7l-2.2 0.6M22.4 8.6l-1.6 -1.0M10.3 19.8l0.5 -2.0M6.4 10.9l1.9 0.2M28.5 15.2l-1.7 -0.8M21.6 14.3l0.4 1.2M26.3 12.6l-1.7 0.6M29.2 12.8l1.5 0.4M5.0 28.1l1.3 -2.1M16.9 3.2l2.1 -0.2M22.3 26.9l-1.1 -2.3M2.4 8.7l-0.6 1.2M21.7 23.8l0.1 1.4M13.1 14.6l0.7 2.1M18.5 22.9l-1.2 2.0M26.5 20.9l1.6 -0.2M7.2 15.0l1.5 -1.0" stroke="#a2ce8c" stroke-width="2.3" stroke-linecap="round" fill="none"/><path d="M-10.0 36.6l-0.2 2.1M2.9 21.2l0.5 -1.4M-36.1 -4.8l0.2 1.4M-17.4 1.6l-2.0 -0.1M-34.1 1.6l-0.2 1.9M-8.2 -21.4l-1.9 -0.5M-4.6 -19.7l-1.6 0.9M6.3 -13.0l2.4 0.5M9.1 -12.4l1.9 -0.3M31.1 -15.4l1.2 0.1M25.2 26.7l-1.4 -0.6M9.8 11.9l1.4 0.5M8.7 13.6l0.2 -1.4" stroke="#d8ebd0" stroke-width="1.5" stroke-linecap="round" fill="none"/><circle cx="2.4" cy="-0.4" r="1.9" fill="#f6fbf2"/><path d="M0 0L-3.4 3.1M0 0L-3.2 -3.3M0 0L3.9 -2.4M0 0L2.1 4.1" stroke="#5f3325" stroke-width="1.6" stroke-linecap="round" fill="none"/><circle r="1.7" fill="#5f3325"/></g>
<g id="k1"><path d="M20.6 21.1L19.4 24.3L16.1 26.4L16.4 29.7L15.7 33.0L13.8 35.8L9.3 34.7L7.2 36.8L4.8 39.9L1.5 40.4L-1.3 36.8L-4.2 36.8L-8.6 38.6L-10.8 35.7L-10.3 31.0L-12.1 29.0L-17.5 28.0L-17.1 24.4L-14.0 21.1L-15.4 18.1L-16.9 14.4L-15.2 11.5L-11.2 10.5L-8.8 8.8L-8.1 4.6L-5.2 2.7L-1.2 6.0L1.5 4.3L4.7 2.8L8.1 3.0L9.6 7.1L12.5 8.0L16.8 8.2L17.8 11.7L16.0 15.8L17.1 18.4ZM2.2 15.3L3.7 18.5L6.1 22.7L1.5 24.4L-1.4 26.0L-2.3 29.4L-4.1 32.8L-8.3 31.5L-11.4 31.1L-14.2 33.8L-17.7 35.5L-20.3 32.1L-22.6 29.9L-26.8 30.4L-29.5 28.2L-29.7 24.3L-29.0 20.7L-33.1 18.7L-35.8 15.3L-31.5 12.3L-29.9 9.6L-30.2 6.0L-29.2 2.7L-26.1 1.1L-22.2 1.4L-20.4 -1.9L-17.7 -4.9L-14.2 -2.3L-11.4 -0.6L-7.7 -2.4L-3.9 -2.5L-2.4 1.3L-1.9 5.0L1.6 6.2L4.5 8.5L3.0 12.3ZM-6.8 -7.2L-4.0 -4.2L-3.7 -0.7L-6.7 1.3L-9.5 2.8L-10.9 5.4L-12.4 8.4L-16.0 7.9L-18.9 7.3L-21.5 10.1L-24.8 11.9L-27.1 8.2L-29.3 6.3L-32.0 5.3L-36.5 5.4L-35.5 0.9L-36.0 -1.9L-37.6 -4.4L-41.3 -7.2L-38.3 -10.2L-36.2 -12.6L-36.5 -15.9L-35.5 -19.0L-32.7 -20.6L-28.9 -20.1L-27.1 -22.7L-24.8 -26.1L-21.5 -23.9L-18.9 -21.9L-15.8 -22.8L-12.3 -23.0L-10.7 -20.1L-10.1 -16.8L-7.1 -15.5L-3.8 -13.7L-4.7 -10.2ZM13.3 -23.3L15.2 -20.2L12.9 -17.7L9.6 -16.4L9.3 -13.5L9.1 -9.5L5.5 -9.5L2.6 -9.6L0.4 -7.5L-2.4 -5.0L-5.1 -7.7L-7.2 -10.1L-10.2 -9.8L-13.5 -10.0L-15.7 -12.1L-15.1 -16.0L-17.2 -17.9L-20.5 -20.1L-18.5 -23.3L-16.1 -25.7L-17.2 -28.7L-18.4 -32.5L-15.3 -34.1L-11.1 -33.7L-10.4 -37.0L-8.8 -40.9L-5.4 -40.0L-2.4 -38.1L0.5 -39.5L3.6 -39.8L5.7 -37.3L6.8 -34.2L10.2 -33.9L13.0 -32.2L13.8 -29.2L12.1 -25.8ZM33.8 -12.0L36.3 -9.1L36.9 -5.6L32.9 -4.2L30.7 -2.5L29.6 0.2L28.3 3.5L25.1 3.8L21.9 2.6L19.3 4.1L16.2 5.5L13.8 3.2L11.9 0.8L8.5 0.8L4.8 0.2L5.1 -3.8L5.4 -7.0L2.9 -9.2L1.4 -12.0L3.6 -14.8L5.9 -16.9L5.0 -20.3L4.9 -24.1L9.2 -24.1L12.5 -23.9L13.6 -27.9L16.2 -29.6L19.3 -28.0L21.7 -25.6L25.1 -28.0L28.2 -27.4L29.4 -24.1L30.6 -21.5L33.6 -20.3L36.0 -18.1L35.8 -14.9ZM37.7 4.7L39.1 7.5L40.7 11.2L38.7 13.8L34.1 14.1L33.3 17.1L32.2 20.8L29.2 22.0L25.5 19.3L22.9 20.8L19.6 23.4L16.8 21.2L15.2 17.9L12.5 17.0L8.0 17.1L6.8 13.9L8.3 10.0L8.0 7.3L4.2 4.7L5.0 1.5L9.3 -0.3L9.3 -3.2L8.2 -7.7L10.9 -9.6L15.0 -8.9L17.7 -9.5L19.6 -13.7L22.9 -13.8L25.5 -10.4L28.1 -9.8L31.7 -10.6L34.8 -9.6L34.8 -5.4L36.7 -3.3L40.0 -1.6L41.0 1.5Z" fill="#d4f2b8" stroke="#d4f2b8" stroke-width="1.2"/><path d="M19.9 21.1L20.8 24.2L16.6 26.0L14.5 27.8L15.9 31.6L14.9 34.5L11.0 34.2L8.0 33.9L7.2 38.7L4.5 39.9L1.5 36.7L-0.8 35.5L-4.0 38.1L-7.2 38.2L-8.3 34.6L-8.6 31.2L-12.7 31.4L-15.4 29.7L-13.4 26.0L-13.6 23.5L-15.9 21.1L-16.7 18.2L-14.0 16.1L-12.1 14.2L-13.6 10.2L-12.3 7.4L-7.9 8.3L-5.5 7.3L-4.2 3.5L-1.5 2.1L1.5 4.8L3.9 5.7L7.3 3.1L10.6 3.2L10.6 8.5L11.8 10.8L16.0 10.6L18.1 12.6L17.3 16.0L15.6 18.9ZM5.9 15.3L5.4 18.4L1.0 20.2L1.0 23.0L2.0 27.1L0.2 29.7L-4.3 28.9L-6.6 30.1L-7.7 35.1L-11.1 34.7L-14.2 31.2L-16.8 32.0L-20.3 34.3L-22.9 32.4L-23.8 28.5L-25.7 26.8L-29.6 26.6L-32.2 24.5L-29.4 20.3L-31.0 18.0L-34.1 15.3L-34.4 12.1L-29.1 10.5L-28.3 8.1L-30.3 3.6L-28.4 1.1L-23.9 1.9L-21.7 0.6L-20.1 -2.9L-17.2 -3.8L-14.2 0.0L-11.6 -0.6L-7.8 -4.4L-5.4 -1.9L-4.5 2.1L-2.5 3.6L1.3 4.1L3.6 6.2L0.5 10.6L1.4 12.8ZM-7.6 -7.2L-3.3 -4.4L-4.1 -1.6L-7.6 -0.2L-9.3 1.6L-9.6 4.7L-10.1 8.4L-14.8 5.8L-17.0 6.6L-18.7 10.3L-21.5 12.1L-23.8 7.7L-26.1 7.1L-29.5 8.6L-32.3 7.7L-31.9 3.2L-32.8 1.0L-36.9 0.6L-38.7 -1.6L-36.4 -4.9L-36.3 -7.2L-38.5 -9.9L-39.2 -13.0L-34.5 -13.9L-32.7 -15.4L-34.1 -19.9L-32.7 -22.7L-28.3 -20.6L-25.7 -20.3L-24.1 -24.1L-21.5 -25.4L-19.1 -22.2L-17.0 -21.0L-13.7 -22.5L-10.5 -22.4L-10.3 -18.4L-9.5 -15.9L-5.5 -15.4L-3.8 -13.0L-6.7 -9.6ZM14.1 -23.3L15.5 -20.4L11.3 -18.8L10.1 -16.9L11.2 -13.4L10.2 -10.7L6.0 -11.8L3.9 -10.9L2.9 -6.9L0.3 -6.2L-2.4 -8.7L-4.6 -9.7L-7.6 -7.3L-10.3 -7.9L-11.0 -11.5L-12.4 -13.3L-15.6 -13.7L-17.4 -15.6L-16.6 -18.7L-15.5 -21.2L-19.7 -23.3L-20.1 -26.1L-15.8 -27.6L-14.9 -29.6L-15.7 -32.9L-15.3 -36.1L-10.7 -34.6L-8.4 -35.1L-7.4 -38.6L-5.2 -40.9L-2.4 -37.3L-0.3 -36.7L3.0 -40.1L5.7 -39.2L6.3 -35.3L7.4 -33.1L11.4 -33.3L12.4 -30.8L11.8 -27.9L11.0 -25.4ZM36.3 -12.0L37.3 -9.2L32.4 -7.8L32.4 -5.4L32.6 -2.4L31.7 0.4L27.8 -0.4L26.0 1.1L24.7 4.6L22.2 6.1L19.3 3.0L17.1 1.7L14.2 3.7L11.6 3.0L10.7 -0.1L9.0 -1.7L5.2 -1.8L3.9 -4.2L5.5 -7.5L5.2 -9.8L2.6 -12.0L1.7 -14.8L6.0 -16.4L7.4 -18.1L6.1 -21.7L6.9 -24.4L10.7 -23.9L13.1 -24.2L14.1 -28.2L16.5 -29.7L19.3 -26.1L21.5 -25.9L24.7 -28.5L27.2 -27.5L27.6 -23.4L29.4 -22.1L33.4 -22.3L34.4 -19.7L33.5 -16.6L33.4 -14.3ZM41.2 4.7L40.6 7.5L37.2 9.3L35.6 11.1L37.5 15.3L35.0 16.8L31.4 16.4L29.5 17.6L28.6 22.2L25.7 22.7L22.9 20.0L20.5 19.6L17.1 22.4L14.6 20.9L14.1 16.7L12.6 14.9L8.9 14.8L6.4 13.1L8.7 9.3L9.0 6.9L5.5 4.7L5.6 1.9L8.5 -0.0L9.8 -2.0L8.9 -5.5L9.9 -8.3L14.1 -7.4L16.4 -8.0L17.4 -12.2L19.9 -14.0L22.9 -9.6L25.1 -9.4L28.4 -12.4L31.3 -11.9L31.9 -7.8L33.1 -5.5L37.6 -6.1L38.3 -3.2L36.7 0.1L37.8 2.3Z" fill="#68bb2c"/><path d="M12.5 0.0L17.2 3.9L14.6 7.0L8.9 7.1L8.1 10.2L8.0 16.5L3.5 15.4L0.0 11.6L-2.9 12.8L-7.7 15.9L-10.1 12.7L-8.7 7.0L-11.3 5.4L-17.2 3.9L-16.4 0.0L-10.6 -2.4L-11.9 -5.7L-13.4 -10.7L-10.2 -12.8L-4.8 -9.9L-2.8 -12.4L-0.0 -16.8L3.6 -15.6L4.8 -10.1L7.7 -9.6L13.7 -10.9L14.1 -6.8L11.0 -2.5Z" fill="#489a1e" opacity="0.75"/><path d="M6.7 4.8l0.7 -2.9M11.0 6.9l1.9 -2.2M15.4 11.1l2.0 -1.4M17.5 15.0l2.1 -1.0M18.6 21.6l1.0 -1.7M17.5 27.3l1.5 1.9M14.8 31.9l1.7 2.0M10.7 35.6l1.7 1.9M8.3 36.8l-0.8 1.8M0.6 38.2l-0.3 2.2M-3.9 37.4l0.8 2.4M-9.3 34.4l-2.4 0.7M-12.4 31.1l-2.3 0.1M-14.2 27.9l-2.5 -0.0M-15.6 21.2l-1.3 1.7M-15.3 17.7l-1.5 1.2M-32.0 13.2l-2.5 0.1M-30.8 8.5l-1.7 1.4M-28.3 4.2l-1.6 -1.8M-24.4 0.6l-2.6 1.0M-1.2 27.7l2.8 -0.6M-6.6 31.6l-1.1 1.4M-12.1 33.2l-1.5 1.7M-16.0 33.2l-2.2 1.1M-22.8 31.0l0.6 2.1M-27.2 27.7l-2.3 -0.9M-29.2 25.2l-0.1 2.8M-31.4 20.3l-1.3 -1.7M-33.8 3.6l0.7 2.0M-36.5 -0.7l-1.5 1.8M-37.9 -6.7l-0.6 -2.1M-37.1 -12.3l-1.7 1.8M-35.4 -15.9l-1.4 -2.1M-32.3 -19.5l1.7 -2.1M-27.2 -22.6l0.0 -1.8M-22.4 -23.6l2.3 -1.0M-19.1 -23.5l1.3 -1.3M-14.1 -21.9l1.9 -0.4M-9.3 -18.3l2.7 -0.8M-5.0 -7.0l2.9 0.1M-5.3 -4.1l1.8 -1.4M-16.6 8.5l0.8 2.8M-21.0 9.2l-0.6 1.9M-26.7 8.3l-2.7 -0.3M-30.4 6.6l1.5 1.6M-9.5 -9.3l1.1 1.8M-14.0 -12.8l-1.8 0.3M-16.5 -16.4l-0.2 2.7M-17.6 -19.7l-2.6 -0.6M-18.0 -24.8l-2.7 1.3M-16.0 -31.1l-1.8 -0.8M-12.7 -35.1l0.0 -2.6M-8.8 -37.6l-0.7 -2.4M-4.3 -38.8l2.2 -1.0M0.4 -38.7l-0.7 -1.6M5.4 -36.9l-1.4 -1.3M8.5 -34.5l2.2 1.4M12.0 -29.5l2.5 0.4M13.0 -26.1l2.6 1.0M13.2 -22.4l0.9 -2.4M14.1 2.8l-2.4 0.5M10.3 0.9l-0.5 1.8M7.1 -2.1l-1.2 2.1M4.3 -7.3l-2.4 -1.5M3.5 -12.2l-2.4 0.7M10.7 -25.3l-1.6 -1.3M13.4 -26.7l-2.4 0.1M19.4 -27.8l2.6 -1.1M23.4 -27.3l1.6 -1.2M29.0 -24.5l-1.1 -1.7M32.2 -21.1l1.9 -1.2M34.3 -17.0l0.6 -2.8M35.1 -13.1l1.7 0.8M34.7 -8.8l2.5 1.4M32.2 -3.0l-0.2 2.1M29.8 -0.2l-0.5 2.4M24.0 3.0l1.8 0.3M20.3 3.7l-1.8 0.7M35.3 -5.9l2.7 -0.9M37.4 -2.8l-0.5 -2.2M39.1 3.0l2.8 -1.1M38.6 8.8l1.6 1.5M37.1 12.5l2.8 0.7M34.1 16.4l2.1 -0.9M29.8 19.4l1.7 2.0M24.5 20.8l-1.5 1.4M18.1 20.2l2.0 1.0M14.7 18.8l-2.3 1.7M9.5 -4.7l-1.4 1.2M21.0 -11.5l-0.6 -2.8M25.6 -11.4l-1.1 -1.6M30.7 -9.6l0.9 -2.7" stroke="#2f6a1a" stroke-width="1.7" stroke-linecap="round" fill="none"/><path d="M-9.3 21.9l1.7 0.8M3.0 21.4l0.4 2.0M0.2 25.5l-0.8 1.8M6.6 31.8l-0.7 2.0M-12.2 25.1l-1.6 0.5M-2.1 28.7l-0.2 -1.2M4.8 29.1l-1.2 0.2M-7.8 17.4l-0.3 -1.6M-7.5 17.0l-1.1 0.5M7.0 18.8l1.0 1.0M8.5 32.2l1.2 1.2M6.5 10.8l-1.1 -0.7M-7.4 9.9l-0.1 -2.0M3.2 18.4l1.3 1.4M16.6 22.3l0.8 1.6M-5.0 10.6l-1.5 -0.2M-21.1 0.9l-1.3 1.8M-14.9 16.1l1.6 0.2M-19.5 16.1l-0.0 2.4M-15.1 3.2l-0.3 1.2M-15.1 5.3l-0.7 1.7M-5.5 4.3l0.0 -1.6M-12.5 13.4l-1.2 -1.6M-15.0 20.4l0.4 2.2M-13.0 7.2l-0.9 -1.9M-6.9 17.2l0.6 1.1M-4.9 7.5l-0.2 1.3M-15.6 -0.7l-0.3 -1.6M-7.0 -7.7l1.2 0.6M-31.1 -3.0l2.0 1.2M-23.6 -15.1l1.1 0.8M-34.5 -3.1l-2.1 0.5M-23.5 -3.5l-1.5 -1.9M-21.8 -21.9l0.1 1.4M-22.8 -17.9l1.4 -1.0M-30.5 1.3l2.1 1.0M-26.5 -7.8l-0.2 1.8M-25.4 -20.7l1.0 -1.0M9.3 -22.2l-1.2 -1.7M0.5 -26.1l0.5 -1.7M-4.5 -13.1l-0.7 -1.0M11.1 -22.9l1.6 -2.0M-5.8 -19.9l-2.0 1.0M-6.8 -11.0l0.4 1.5M8.3 -29.7l0.1 -2.1M-5.5 -13.0l-2.4 0.3M-1.5 -28.1l0.9 -1.5M-4.8 -34.4l-1.7 0.5M-8.9 -14.7l1.9 -1.3M-15.9 -23.8l-1.5 -0.6M5.9 -19.0l1.4 -0.5M10.7 -11.6l-2.2 0.3M19.3 -3.2l1.0 0.6M13.7 -5.2l-0.3 1.5M20.2 1.9l1.9 -1.7M17.3 0.0l0.4 -1.8M12.5 -18.9l-1.7 1.2M17.7 -26.0l1.8 -1.3M16.1 -1.9l-1.2 0.5M21.4 -17.8l-0.6 -1.8M13.7 -6.3l-0.6 1.7M8.7 -15.3l-1.4 1.0M20.2 12.4l-0.4 -2.6M13.5 13.1l-2.3 -0.8M28.1 11.7l0.3 -1.9M27.7 1.7l0.2 1.4M10.9 4.6l-0.9 -1.3M22.3 -6.7l0.6 1.4M35.7 4.7l0.8 1.5M28.9 -8.3l-1.8 -1.7M13.7 2.4l-1.5 -1.1" stroke="#2f6a1a" stroke-width="1.3" stroke-linecap="round" fill="none"/><path d="M-5.8 28.0l-1.5 0.5M5.3 23.0l-1.7 -0.9M-5.4 26.0l1.6 1.5M6.4 20.7l-2.4 0.6M9.7 15.4l-1.0 -0.8M-10.4 15.9l-1.8 -0.1M-3.8 24.1l2.1 -0.7M-12.5 26.6l-1.2 0.3M-11.9 19.6l-0.5 -1.3M9.8 16.2l-0.4 -1.5M7.9 27.2l-0.4 -1.2M12.1 25.8l-1.2 1.5M7.0 12.9l1.0 -0.9M-2.9 19.0l0.2 2.3M-17.2 17.6l1.6 0.7M-17.8 3.0l-1.3 -0.6M-10.6 20.6l0.6 -1.5M-13.7 8.2l-0.9 1.3M-0.5 18.6l-0.9 -1.3M-23.6 9.1l-2.0 -1.4M-12.2 27.0l-1.6 1.6M-22.4 20.2l-0.7 -1.4M-12.2 5.3l1.0 -1.6M-18.0 14.3l-0.4 -1.6M-17.1 -9.5l1.3 0.8M-15.1 -15.1l0.7 -2.2M-10.6 -7.8l0.4 2.5M-21.5 -17.4l1.0 -2.0M-20.6 2.5l0.1 1.7M-18.7 -7.2l0.5 2.2M-30.4 -17.5l-0.0 -2.5M-18.5 -1.2l1.2 0.0M-13.6 4.7l-1.1 2.0M-21.0 -4.6l2.6 -0.1M-33.8 -12.1l-1.6 -0.8M-20.2 -7.4l0.0 -2.1M-17.8 -3.6l-2.5 0.5M-12.2 -0.9l-2.1 0.2M-8.4 -13.5l2.5 0.4M0.4 -22.5l-0.3 2.0M5.5 -30.9l1.1 -1.9M1.5 -13.8l-1.6 1.0M8.0 -22.3l-1.5 0.4M6.1 -23.1l-1.8 -1.0M-12.5 -20.5l-1.3 -0.4M1.9 -26.6l-0.9 -1.3M-2.5 -18.5l-1.2 -1.0M7.7 -32.1l1.4 -1.4M5.5 -12.5l-2.3 1.0M10.1 -18.1l2.6 -0.1M-9.7 -18.9l1.5 -1.2M8.4 -27.4l0.8 1.9M6.7 -10.3l0.7 1.8M15.3 -13.7l0.1 -2.6M6.1 -10.8l-1.4 0.2M17.6 -7.0l0.3 -1.8M20.1 -7.8l0.2 -1.7M22.7 -5.2l1.5 0.6M27.0 -6.2l-1.1 1.0M23.2 -23.9l1.5 -0.0M31.2 -9.7l0.7 -1.1M23.8 -18.9l-1.7 -0.5M11.0 -20.9l0.7 1.5M16.2 -17.1l-0.5 1.2M21.5 -3.3l-0.7 1.0M25.8 -3.1l-2.4 1.0M10.3 -2.6l-1.4 1.2M17.4 -8.7l-2.1 -0.3M28.1 17.9l0.9 1.5M16.6 1.4l1.0 1.2M31.2 11.7l1.0 -0.9M13.1 6.9l1.5 2.0M9.5 10.6l-1.3 0.1M12.3 6.7l1.7 -1.1M25.5 9.9l-0.5 1.5M18.4 5.1l-0.1 2.4M23.1 -9.9l-1.0 0.9" stroke="#489a1e" stroke-width="2.0" stroke-linecap="round" fill="none"/><path d="M-6.1 18.6l1.6 -0.8M-1.2 12.8l-0.3 -1.8M8.5 13.5l-0.6 2.3M3.4 30.9l0.9 1.2M4.9 23.4l1.6 -1.3M8.8 16.1l1.7 0.5M8.8 28.9l-1.7 1.5M-6.0 14.0l1.5 2.1M7.1 30.1l0.2 -2.1M7.5 26.4l0.5 2.1M-1.6 30.6l-1.8 1.8M-7.1 19.6l-0.6 -1.6M13.8 17.1l1.3 2.1M-3.1 30.7l-1.4 -1.3M13.2 18.9l1.5 -0.8M-0.6 14.2l1.4 1.6M-2.6 31.1l1.7 -0.4M-14.8 9.2l-2.5 -0.6M-17.5 12.8l-2.3 -0.6M-21.0 22.0l1.8 -0.6M-7.1 24.8l-0.5 -1.9M-27.7 13.2l-0.6 2.3M-19.1 14.2l0.7 2.2M-22.1 8.6l1.4 -0.3M-9.0 9.3l-1.3 0.8M-13.0 17.9l-0.4 -1.6M-21.3 29.8l2.3 -0.6M-3.6 26.0l1.4 0.9M-5.3 13.4l-2.4 -0.6M-12.0 4.9l1.2 0.8M-15.9 3.9l1.3 -0.5M-26.7 10.2l0.8 -1.1M-28.7 -10.9l-2.1 -0.7M-10.2 -11.3l2.0 0.4M-18.0 -19.5l1.6 -0.1M-22.3 2.1l0.0 -1.5M-28.4 -12.2l-1.3 -1.0M-13.8 -6.7l-1.6 -0.5M-20.9 -7.3l-0.6 -1.9M-14.0 -2.1l-1.0 2.0M-15.1 -16.9l1.1 -1.4M-30.7 -13.2l-2.4 -0.7M-25.4 -13.4l0.7 1.8M-18.9 -11.1l-1.0 -1.2M-19.2 -8.8l-1.9 -1.1M-22.7 -15.2l-1.3 -0.1M-28.6 -13.2l1.7 -1.2M-27.5 -20.6l-2.3 -1.1M-25.1 -16.9l0.1 2.6M-15.9 -7.6l-1.8 0.7M-17.7 3.2l-0.4 1.8M-9.9 -24.0l-1.9 0.2M9.9 -29.2l-0.4 -2.0M5.0 -14.4l1.7 0.8M10.2 -20.3l0.8 1.6M-1.5 -9.1l-0.5 1.9M3.6 -27.5l-1.1 2.1M2.2 -12.3l1.3 0.4M-0.2 -12.7l0.9 0.8M-5.2 -25.4l0.0 -1.8M-8.1 -31.3l0.8 2.0M-9.5 -24.6l-2.3 -0.1M6.0 -13.6l1.2 1.1M-6.9 -21.5l-0.1 1.4M-9.1 -15.6l-1.1 0.9M-6.0 -18.9l1.0 -2.3M6.8 -21.3l1.3 -1.0M-1.2 -20.9l1.7 -0.4M-10.2 -28.2l-1.3 0.6M4.1 -33.7l-1.1 1.2M1.7 -27.1l1.1 -1.1M13.7 -11.6l-1.8 -0.8M27.0 -3.3l0.8 -0.9M24.5 -3.1l-1.9 0.9M26.5 -4.2l-0.4 1.5M13.9 -13.4l-0.1 -1.6M31.6 -11.8l-1.5 -0.6M27.1 -5.1l1.9 1.7M23.4 -7.5l1.6 -1.6M19.4 -2.1l1.1 -1.9M17.5 -25.6l1.1 0.9M9.8 -15.8l-0.7 -1.6M22.9 -5.5l0.8 1.4M18.4 -21.6l-1.2 0.9M21.2 -16.2l-1.3 0.5M28.0 -2.7l-1.9 0.3M30.4 -6.3l0.7 -1.4M19.4 -10.8l-2.0 1.2M9.4 -13.8l1.3 2.2M11.5 -0.8l0.3 1.2M25.8 -5.1l-0.2 -2.4M18.9 4.0l0.6 1.9M24.4 15.7l1.4 1.5M12.3 -0.8l1.2 0.3M20.3 2.9l-0.8 1.3M22.4 -6.9l-1.4 -1.4M15.3 -5.9l-1.6 -1.8M28.5 2.0l1.7 1.0M28.0 10.5l-0.5 -1.7M28.2 1.3l1.2 1.7M18.2 12.1l0.0 1.5M28.9 15.3l0.7 2.4M30.9 7.9l0.6 -2.2M25.7 1.9l-1.6 0.2M21.8 2.9l0.0 -2.5M29.3 -4.3l2.4 -0.2M9.5 10.4l0.9 1.6M14.2 7.2l-0.6 -2.1M25.3 -9.7l-2.0 -0.9M29.4 3.7l-0.9 1.3M26.1 -9.6l-1.9 -0.7M16.0 15.9l1.5 0.2M16.0 5.2l2.3 -0.1" stroke="#98dd4e" stroke-width="2.3" stroke-linecap="round" fill="none"/><path d="M-11.5 14.5l1.4 1.5M-23.2 8.0l-1.6 2.0M-8.4 24.4l1.3 -0.3M-14.5 27.3l1.3 -1.1M-23.1 19.3l-1.9 -1.6M-11.1 0.3l1.1 1.1M-17.3 6.8l1.0 -2.0M-27.3 15.2l1.1 1.8M-17.6 12.7l1.7 0.5M-27.5 -10.4l1.8 -0.4M29.6 -3.6l0.7 1.5M7.4 -6.6l1.3 -0.7M12.1 -8.3l-0.4 1.7M12.6 14.8l0.5 1.4M29.0 -4.2l-0.4 -2.1" stroke="#d4f2b8" stroke-width="1.5" stroke-linecap="round" fill="none"/><circle cx="2.4" cy="-0.4" r="1.9" fill="#f6fbf2"/><path d="M0 0L-1.5 4.4M0 0L-4.2 -1.8M0 0L2.6 -3.8M0 0L4.4 1.2" stroke="#5f3325" stroke-width="1.6" stroke-linecap="round" fill="none"/><circle r="1.7" fill="#5f3325"/></g>
<g id="n1"><path d="M-0.9 6.2L-2.8 9.1L-0.9 12.9L-0.7 16.9L-4.2 18.8L-8.7 18.8L-9.6 22.8L-12.3 25.3L-16.0 24.6L-19.2 23.1L-22.6 25.1L-26.4 25.9L-28.4 22.0L-29.7 18.6L-33.2 17.9L-37.2 16.5L-37.7 12.9L-35.1 9.0L-38.7 6.2L-40.9 2.4L-36.4 -0.0L-33.5 -2.0L-33.6 -5.8L-32.2 -9.2L-28.7 -10.2L-25.2 -10.1L-22.4 -11.5L-19.2 -15.2L-16.0 -11.9L-13.5 -9.6L-9.5 -10.7L-6.0 -9.5L-5.3 -5.5L-5.4 -1.8L-1.6 -0.2L0.6 2.7ZM7.3 -15.8L4.7 -12.6L2.2 -10.1L3.6 -5.9L2.6 -2.2L-2.6 -2.7L-5.1 -1.0L-7.0 2.5L-10.0 5.0L-13.6 2.8L-16.5 0.2L-20.6 3.2L-24.2 2.5L-24.7 -2.7L-26.4 -5.1L-32.0 -5.3L-34.3 -8.3L-30.5 -12.9L-31.0 -15.8L-34.4 -19.5L-32.8 -22.8L-29.3 -24.9L-26.1 -26.3L-26.4 -31.1L-24.3 -34.3L-19.8 -32.8L-16.7 -33.1L-13.6 -35.2L-10.1 -36.2L-7.3 -33.2L-5.1 -30.7L-0.8 -31.2L2.3 -29.2L2.6 -25.2L2.5 -21.7L5.2 -19.2ZM30.7 -17.5L32.0 -14.0L28.2 -11.7L26.1 -9.5L26.4 -5.6L24.7 -2.6L21.1 -2.1L17.5 -3.0L15.6 1.6L12.3 1.8L9.1 0.2L6.6 -1.9L2.9 -1.2L-1.0 -1.7L-0.8 -6.5L-2.0 -9.3L-5.3 -11.1L-7.1 -14.1L-6.0 -17.5L-3.4 -20.2L-5.2 -23.8L-5.9 -27.9L-0.9 -28.6L1.8 -30.0L3.2 -33.2L5.1 -37.1L9.3 -34.3L12.3 -32.8L15.7 -36.9L18.9 -35.8L21.4 -33.3L23.1 -30.4L26.8 -29.7L28.9 -27.1L28.0 -23.2L27.6 -20.2ZM37.6 6.1L38.2 9.2L39.3 12.9L37.2 15.7L33.6 16.9L31.2 18.7L30.3 22.8L27.5 24.9L23.7 22.9L20.7 22.4L17.2 25.8L13.8 25.1L12.1 21.0L9.9 19.0L4.7 19.5L4.1 15.7L4.7 12.0L3.5 9.2L-0.1 6.1L1.2 2.7L5.6 0.7L6.7 -2.0L5.3 -6.8L8.4 -8.5L12.2 -8.5L15.1 -9.2L17.1 -14.2L20.7 -13.1L23.5 -9.5L26.3 -9.3L30.7 -11.2L33.5 -9.1L33.4 -4.5L34.9 -2.1L39.5 -0.7L41.1 2.5ZM14.2 23.2L14.9 26.1L17.2 29.9L13.4 31.7L10.1 32.8L9.8 36.4L8.1 39.5L4.6 39.2L1.2 37.1L-1.2 40.6L-4.5 41.7L-6.7 38.2L-8.8 36.3L-12.5 36.7L-15.0 34.8L-15.6 31.5L-15.0 28.3L-18.1 26.2L-20.2 23.2L-16.6 20.5L-15.3 18.1L-15.9 14.8L-16.1 10.8L-11.4 11.1L-8.9 10.0L-7.2 6.7L-4.5 4.6L-1.2 6.3L1.2 9.4L4.7 7.0L8.2 6.9L9.4 10.5L10.0 13.8L13.0 15.0L15.8 17.0L15.0 20.4Z" fill="#d2efbe" stroke="#d2efbe" stroke-width="1.2"/><path d="M-0.7 6.2L-3.7 8.7L-2.9 11.5L-0.8 15.6L-4.3 17.1L-7.6 17.8L-9.3 19.9L-9.6 25.1L-13.5 23.7L-16.6 22.7L-19.2 23.6L-22.6 27.6L-25.5 25.5L-26.7 20.9L-29.0 19.6L-33.6 20.6L-34.5 17.3L-33.9 13.7L-35.1 11.4L-39.1 9.3L-37.9 6.2L-34.4 3.8L-36.4 0.6L-38.5 -3.6L-34.7 -5.1L-30.8 -5.4L-29.3 -7.7L-28.6 -12.3L-25.1 -12.0L-21.8 -9.8L-19.2 -10.6L-16.1 -13.7L-13.2 -12.3L-12.2 -7.6L-9.1 -7.7L-4.0 -9.1L-4.3 -4.7L-5.5 -0.8L-2.3 0.7L0.3 3.1ZM5.4 -15.8L2.2 -13.3L3.4 -10.3L4.2 -6.7L0.9 -5.3L-2.7 -4.9L-2.5 -0.5L-3.7 3.8L-7.8 2.2L-11.1 0.4L-13.6 3.4L-17.1 5.7L-19.6 2.4L-21.2 -1.1L-24.0 -1.5L-28.2 -1.3L-28.2 -5.3L-27.9 -8.6L-31.2 -10.1L-34.1 -12.6L-32.7 -15.8L-29.1 -18.3L-30.7 -21.4L-31.9 -25.2L-28.5 -26.6L-25.0 -27.2L-24.6 -30.9L-23.1 -34.4L-19.2 -32.8L-16.1 -31.3L-13.6 -34.0L-10.5 -35.9L-7.9 -33.4L-6.7 -29.5L-2.6 -31.1L1.4 -30.9L0.7 -26.3L0.7 -23.1L3.6 -21.4L7.0 -19.1ZM28.3 -17.5L31.9 -14.4L31.3 -11.3L26.2 -10.4L25.0 -8.2L25.6 -4.2L23.2 -2.4L19.6 -3.1L17.1 -2.6L15.4 2.1L12.3 1.7L9.7 -1.1L7.4 -2.6L3.9 -1.1L0.5 -1.3L1.1 -6.4L-0.4 -8.2L-4.0 -9.2L-5.4 -11.7L-4.3 -14.9L-2.7 -17.5L-5.9 -20.4L-5.7 -23.3L-1.5 -24.5L-0.8 -27.0L-1.9 -31.7L0.6 -33.5L5.0 -31.6L7.2 -32.9L9.3 -36.4L12.3 -36.3L14.8 -33.6L17.0 -32.2L20.7 -34.1L23.5 -33.0L23.5 -28.7L24.5 -26.4L29.5 -26.2L31.5 -23.7L28.2 -20.0ZM41.4 6.1L37.3 8.8L35.3 10.9L37.3 14.6L37.4 18.3L33.7 19.2L30.0 18.9L28.7 21.8L26.8 24.8L23.5 23.5L20.7 21.8L18.0 23.4L14.5 25.2L12.5 22.3L11.8 18.4L7.9 19.0L4.2 18.1L4.3 14.5L6.8 10.7L3.5 8.9L-0.2 6.1L2.9 3.3L6.7 1.6L5.3 -1.7L4.7 -5.5L8.1 -6.4L11.3 -6.8L12.8 -9.4L14.6 -12.6L17.9 -11.7L20.7 -9.1L23.6 -12.2L27.3 -14.2L29.1 -10.3L29.9 -6.5L33.4 -6.6L36.4 -5.3L37.0 -2.1L35.2 1.4L38.4 3.3ZM14.1 23.2L16.5 26.1L16.3 29.0L12.3 30.1L10.1 31.5L11.2 35.7L9.6 38.2L5.5 36.5L3.5 37.9L1.5 40.4L-1.2 41.0L-3.6 38.2L-5.8 37.3L-9.5 39.4L-12.2 38.3L-11.2 33.2L-12.6 31.5L-17.7 31.6L-18.3 28.8L-15.2 25.4L-16.4 23.2L-18.5 20.5L-17.5 18.0L-13.9 16.8L-12.6 15.0L-13.8 10.7L-12.0 8.5L-7.8 10.3L-6.0 8.6L-3.9 6.4L-1.2 6.1L1.0 9.4L3.3 9.2L6.6 7.8L9.4 8.6L9.1 12.9L10.7 14.5L15.2 14.8L16.1 17.6L13.7 20.9Z" fill="#62ac3a"/><path d="M16.3 0.0L11.7 2.7L11.0 5.3L13.3 10.6L10.3 12.9L4.8 10.0L2.8 12.4L0.0 17.6L-3.5 15.4L-5.2 10.8L-7.7 9.7L-13.2 10.5L-15.0 7.2L-11.7 2.7L-12.1 0.0L-16.1 -3.7L-14.4 -6.9L-8.6 -6.8L-7.7 -9.7L-7.4 -15.3L-3.8 -16.6L-0.0 -11.1L2.6 -11.4L7.5 -15.6L9.9 -12.4L8.8 -7.0L10.8 -5.2L16.4 -3.7Z" fill="#43902a" opacity="0.75"/><path d="M-30.0 -8.6l-0.5 -2.2M-27.0 -10.4l-0.8 -2.8M-22.6 -11.8l-2.3 -1.5M-8.8 -8.9l1.6 -1.6M-2.1 -0.3l-0.1 -2.9M-3.8 16.1l1.8 1.3M-8.3 20.9l-1.2 1.4M-11.4 22.8l2.0 1.2M-18.7 24.5l-1.5 1.9M-21.9 24.3l-2.5 1.4M-29.2 21.6l0.2 2.1M-32.9 18.4l-1.6 -1.0M-36.0 13.7l-0.8 2.8M-37.5 7.3l-2.6 -0.9M-37.2 2.4l-1.8 -0.1M-35.2 -2.9l0.8 -2.8M-7.9 1.7l-1.4 1.5M-14.5 2.6l-1.3 1.5M-25.0 -1.3l-1.4 2.1M-29.5 -6.4l-1.3 2.2M-31.5 -11.5l-2.6 0.9M-32.0 -16.9l-2.6 0.0M-31.4 -20.8l-1.1 -2.0M-27.6 -27.9l-1.5 -1.1M-23.6 -31.3l-2.4 -0.0M-18.1 -33.7l-0.4 -2.6M-11.3 -34.1l-2.4 -0.8M-8.0 -33.4l-2.0 -1.7M-0.9 -29.2l2.6 -0.2M1.0 -27.1l1.7 0.7M-3.7 -24.9l-0.8 -2.1M-2.0 -27.8l-1.1 -2.7M2.4 -32.0l1.1 -2.1M7.4 -34.4l2.0 -1.7M15.1 -34.8l1.8 -1.2M19.2 -33.6l-2.0 -1.9M23.3 -31.2l2.3 -0.0M27.1 -27.0l0.3 -1.8M29.6 -20.6l2.9 0.1M29.8 -17.8l1.5 2.3M28.8 -11.6l2.3 -0.6M26.7 -7.5l2.5 -0.9M22.8 -3.4l2.8 -0.6M15.7 -0.2l1.1 1.8M12.1 0.1l-1.9 2.3M1.2 -3.8l0.1 2.1M-5.1 -14.9l-0.2 2.0M10.3 -8.4l-1.1 -2.0M19.9 -11.7l-1.2 -2.5M27.4 -10.4l-1.3 -1.4M30.6 -8.7l0.5 -2.3M34.4 -5.3l2.1 0.9M38.0 1.9l1.5 -2.0M38.5 6.2l0.7 -1.9M37.4 12.4l1.8 -1.2M34.6 17.3l1.9 -0.1M32.4 19.7l0.6 2.8M27.5 22.6l-1.3 1.4M22.3 23.9l-1.1 2.4M15.1 23.1l-0.2 2.4M11.1 21.2l1.0 2.4M4.0 12.3l-2.5 -0.1M4.0 -0.1l-2.5 -1.1M14.9 21.4l1.7 -0.7M14.7 26.2l0.9 2.2M11.8 32.9l0.5 1.8M9.4 35.4l0.9 2.6M4.1 38.6l-2.0 1.2M0.2 39.4l2.3 1.8M-4.5 39.1l1.8 0.9M-11.2 36.0l-1.5 1.3M-13.6 33.7l-2.2 -0.2M-16.6 28.5l-2.0 -0.7M-17.4 24.9l-1.7 -0.8M-16.4 17.6l-1.7 -2.1M-13.8 13.0l-2.4 0.5M2.2 7.4l0.8 -2.5" stroke="#2b6020" stroke-width="1.7" stroke-linecap="round" fill="none"/><path d="M-8.2 5.9l0.5 1.8M-29.9 8.2l-1.1 1.9M-11.6 4.7l1.0 -1.8M-19.9 14.2l1.3 -0.8M-17.8 11.4l-1.1 0.7M-8.7 11.9l1.7 0.2M-32.8 7.7l2.4 -0.7M-28.2 13.9l-1.4 -0.9M-16.9 17.9l0.6 -1.1M-19.0 18.1l-0.9 -1.8M-19.9 2.5l-1.9 -0.0M-12.6 5.3l2.0 0.7M-16.6 18.8l-1.0 -2.0M-19.4 5.5l0.1 1.3M-21.0 -8.1l-0.8 -1.2M-14.5 20.5l2.1 1.1M-23.3 -21.8l-1.9 -0.2M-1.4 -7.2l-2.0 1.0M-27.3 -20.8l-2.3 0.0M-15.7 -30.7l-0.2 1.4M-2.9 -5.2l0.8 -1.5M-5.9 -20.0l-1.1 -0.6M-18.8 -7.3l1.3 0.9M-2.6 -28.1l2.3 -0.5M-26.4 -24.5l-1.2 -1.3M-20.4 -15.6l-1.5 -0.0M-16.4 -10.8l-0.7 1.9M-15.5 -12.8l1.4 -0.6M-17.7 -16.7l-1.5 0.4M-4.6 -9.8l1.5 2.0M-18.0 -3.4l-1.0 2.2M15.7 -30.1l-1.6 1.3M16.1 -14.6l-0.4 1.4M9.5 -19.3l-0.3 1.4M18.3 -31.3l1.5 1.4M20.8 -5.1l1.5 0.5M13.4 -2.7l1.1 1.0M20.6 -11.5l0.1 -2.3M7.1 -26.8l-1.6 0.2M13.6 -31.6l-1.7 1.8M3.9 -10.3l-0.2 1.6M13.1 -30.7l0.1 -1.3M6.3 -29.6l1.3 2.1M14.6 -31.5l1.6 0.5M5.7 -28.3l-0.3 -1.2M21.4 -6.3l2.3 0.5M13.6 -5.1l0.2 1.2M24.5 -8.0l-1.3 1.5M10.7 -4.1l-0.3 2.2M21.5 5.4l-2.3 0.4M26.8 -0.5l-2.0 -0.1M31.3 13.4l-1.6 1.9M19.5 19.2l-0.5 -2.4M33.8 12.2l2.3 0.2M17.4 -2.9l-0.9 1.0M8.0 7.7l-1.2 0.3M12.8 -6.9l-0.5 -1.6M13.4 10.3l-0.6 1.2M15.2 20.0l-2.0 1.3M17.7 -6.0l1.2 1.3M22.5 21.3l-1.4 -2.2M26.4 5.1l-2.0 0.0M-9.6 34.5l-0.7 -1.9M10.4 25.9l0.6 1.1M-3.4 11.1l-1.8 -0.1M7.8 26.1l1.9 0.1M-10.8 25.6l2.5 0.6M-4.6 24.0l0.9 -1.0M7.9 13.7l-1.4 0.9M-4.3 15.5l0.5 2.1M3.9 9.6l-1.9 -0.7M10.3 28.4l1.4 -1.7M-1.3 37.7l2.1 0.1" stroke="#2b6020" stroke-width="1.3" stroke-linecap="round" fill="none"/><path d="M-16.4 1.2l-1.4 0.8M-21.3 -6.4l1.2 -0.5M-27.8 11.3l-1.2 -2.1M-21.9 16.7l-1.6 0.4M-17.6 11.2l-1.8 -1.0M-24.8 -5.1l1.7 -1.1M-16.4 11.2l1.4 0.1M-25.0 -2.0l1.9 1.5M-11.5 10.6l1.2 0.1M-24.9 19.1l-0.1 -1.5M-4.0 -15.9l0.7 1.6M-5.4 -4.3l1.6 0.2M-13.2 -8.1l-0.0 -2.4M-17.9 -28.9l-1.6 -0.9M-18.4 -26.3l-1.7 -1.9M-17.4 -28.8l1.2 1.7M2.8 -15.3l0.8 1.2M-16.5 -14.9l1.1 -2.2M-0.5 -23.7l-0.9 -1.3M-9.1 -15.6l2.2 1.4M-5.7 -25.3l1.7 -0.1M-3.8 -20.5l-2.3 -1.2M-24.6 -17.4l-2.2 0.9M-29.5 -10.9l1.9 0.9M-25.5 -26.2l-0.8 -1.6M-20.0 -26.3l-0.8 -1.7M-0.3 -16.0l-0.9 -2.4M-5.6 -14.3l-1.1 -1.4M20.9 -24.9l0.7 -1.4M3.2 -7.6l-0.8 2.3M9.2 -31.5l2.5 -0.2M1.6 -29.2l-1.5 0.8M1.4 -13.2l-2.0 1.5M16.7 -15.9l2.2 -0.6M19.8 -31.2l-0.3 1.7M26.1 -24.9l0.7 -2.5M12.6 -28.4l-1.4 1.2M8.5 -27.7l-1.3 -0.4M6.1 -12.4l-0.7 1.3M0.2 -18.5l0.2 2.5M-1.4 -23.1l-1.9 -0.5M0.9 -20.5l1.2 2.0M21.8 -9.6l-0.1 -2.1M31.4 10.8l-0.5 2.1M23.2 4.7l0.8 -2.4M13.6 17.5l1.6 -0.3M29.7 0.3l1.0 -2.3M32.6 -2.3l-2.3 0.7M27.1 4.0l0.6 -2.4M9.6 7.8l0.2 -2.0M-12.1 23.3l-2.3 -0.2M-9.4 25.0l1.2 0.5M-2.6 25.4l-1.4 -1.9M6.1 22.1l-2.1 0.1M7.7 28.6l-0.3 2.6M-9.0 19.2l-0.6 1.3M11.3 15.6l-0.6 1.5M-6.6 14.8l-1.0 -0.8M11.2 18.8l1.0 2.2M-8.3 32.4l1.8 1.8M-12.8 21.4l-1.9 -0.7M5.0 18.3l0.9 0.8M-14.1 24.8l0.0 2.5M6.5 31.8l-2.4 0.2M8.9 17.1l-2.0 -0.9" stroke="#43902a" stroke-width="2.0" stroke-linecap="round" fill="none"/><path d="M-25.1 19.1l-1.8 0.1M-22.2 0.8l2.1 1.0M-21.8 12.2l1.2 0.4M-13.4 19.1l1.7 0.6M-15.4 12.1l-2.0 1.0M-28.0 19.9l0.5 1.1M-26.5 12.9l-1.2 -1.3M-31.6 17.2l1.7 -1.7M-17.5 9.9l1.1 -2.0M-31.9 16.4l1.3 1.0M-15.8 -8.1l0.7 -2.3M-25.0 12.9l2.4 0.0M-26.8 -4.7l0.9 0.8M-8.3 14.9l1.3 0.4M-19.0 3.5l-1.5 -0.2M-6.4 7.6l0.3 -2.5M-20.5 5.4l1.8 -0.7M-35.3 6.7l2.3 -0.7M-16.7 -15.0l2.2 -0.6M-18.2 -20.4l-0.6 -2.5M-9.3 -3.1l-1.9 1.2M-12.5 -3.2l0.6 2.0M-18.2 -30.8l1.9 1.4M-25.2 -19.3l-0.9 -1.8M-0.5 -7.7l-2.0 0.8M-1.6 -21.4l-2.2 -0.6M-23.7 -26.7l-0.3 1.7M0.6 -7.7l0.8 -1.0M8.8 -7.1l-1.6 -0.8M11.9 -20.4l-1.1 0.7M14.3 -24.0l0.3 -1.7M25.8 -9.1l-0.9 -1.5M11.8 -5.4l0.0 1.8M-0.8 -15.1l1.5 -0.0M27.1 -15.9l1.3 1.6M18.3 -6.5l1.6 0.1M1.0 -20.2l0.2 2.6M16.1 -25.6l1.3 -0.5M21.6 -17.9l-2.4 -0.9M17.3 1.9l1.7 -1.4M27.3 10.0l1.6 -1.2M12.6 -7.3l0.5 2.1M22.5 5.3l-1.2 1.4M30.9 0.4l0.6 -2.4M9.8 5.2l0.8 1.3M5.2 8.2l1.1 1.8M26.4 19.9l-1.7 0.7M30.6 -2.7l-0.0 2.2M25.9 0.8l-0.5 1.8M25.0 20.5l0.6 -1.7M20.6 -6.0l-2.2 1.2M35.9 7.1l1.7 -1.6M19.7 12.5l-0.5 1.3M9.2 -2.1l-0.4 1.9M20.8 1.1l-0.7 1.3M28.8 1.1l1.1 2.2M30.8 1.8l2.2 -0.3M-4.5 13.9l1.0 -2.0M-10.9 28.5l1.1 -0.6M-10.7 22.6l1.9 -0.2M-8.7 24.2l0.0 1.7M7.3 31.1l2.0 0.7M-6.5 36.1l-0.6 2.2M-4.2 27.4l-0.2 1.5M-3.1 20.2l-0.1 -2.3M-4.1 35.8l-1.5 1.7M-8.0 33.3l0.6 2.0M-2.5 24.4l1.4 -1.5M12.0 20.2l-1.0 1.3M1.5 31.2l0.6 1.6M12.4 27.9l-1.7 -0.2M-1.8 15.2l0.0 1.4" stroke="#92d45e" stroke-width="2.3" stroke-linecap="round" fill="none"/><path d="M-32.7 1.4l2.0 -0.7M-7.8 3.5l-1.2 -1.9M-19.6 -10.2l1.3 -1.2M-13.3 -27.7l0.2 1.8M-10.8 -5.4l-2.3 -0.9M-26.7 -26.3l-1.0 1.7M13.1 -5.5l-1.3 -0.4M19.8 -9.3l1.2 -2.1M27.2 -1.3l1.3 0.8M12.3 2.7l0.7 -1.4M15.7 -2.8l-0.9 1.5M14.3 7.8l1.0 1.5M29.8 -0.1l-0.7 1.0M24.5 9.1l-1.3 1.2M26.2 7.6l-2.1 -0.8M-13.6 22.8l0.6 -1.3M-14.3 25.5l-0.3 1.5M-6.2 29.7l1.6 -0.8M9.0 12.8l-1.3 -1.4M1.1 18.8l-2.0 1.5" stroke="#d2efbe" stroke-width="1.5" stroke-linecap="round" fill="none"/><circle cx="2.4" cy="-0.4" r="1.9" fill="#f6fbf2"/><path d="M0 0L-4.1 -2.0M0 0L0.0 -4.6M0 0L4.3 1.5M0 0L-1.6 4.3" stroke="#5f3325" stroke-width="1.6" stroke-linecap="round" fill="none"/><circle r="1.7" fill="#5f3325"/></g>
<linearGradient id="cg" x1="0" y1="0" x2="0" y2="1"><stop offset="0" stop-color="#e4e4e5"/><stop offset="0.42" stop-color="#dddddf"/><stop offset="0.5" stop-color="#d3d3d5"/><stop offset="0.58" stop-color="#e3e3e4"/><stop offset="1" stop-color="#dfdfe0"/></linearGradient>
<filter id="sh" x="-20%" y="-20%" width="150%" height="160%"><feGaussianBlur in="SourceAlpha" stdDeviation="2.5"/><feOffset dx="3" dy="4"/><feComponentTransfer><feFuncA type="linear" slope="0.55"/></feComponentTransfer><feMerge><feMergeNode/><feMergeNode in="SourceGraphic"/></feMerge></filter>
</defs>
<rect width="872" height="992" fill="#fff"/>
<g fill="none" stroke="#f0c210" stroke-linecap="butt" stroke-linejoin="round">
<path stroke="#e0b41a" stroke-width="12.5" d="M33.6 869.3C36.3 868.8 43.9 867.5 50.0 866.6C56.1 865.7 62.2 864.7 70.5 863.9C78.8 863.1 90.1 862.4 100.0 861.9C109.9 861.4 120.0 860.9 130.0 860.7C140.0 860.5 149.7 860.4 160.0 860.6C170.3 860.8 181.4 861.0 192.1 861.7C202.8 862.5 213.5 863.5 224.2 865.1C234.9 866.7 245.6 868.9 256.3 871.3C267.0 873.7 277.4 876.7 288.4 879.3C299.4 881.9 311.1 884.7 322.1 887.1C333.1 889.5 343.5 891.5 354.2 893.9C364.9 896.3 375.6 898.5 386.3 901.3C397.0 904.1 410.8 908.5 418.4 910.9C426.0 913.3 424.5 913.1 432.1 915.5C439.7 917.9 453.5 922.5 464.2 925.1C474.9 927.8 485.6 930.1 496.3 931.4C507.0 932.7 517.4 933.4 528.4 933.1C539.4 932.8 551.1 931.0 562.1 929.4C573.1 927.8 583.5 925.8 594.2 923.8C604.9 921.8 615.6 919.5 626.3 917.4C637.0 915.2 647.4 913.3 658.4 910.9C669.4 908.5 681.1 905.9 692.1 902.9C703.1 899.9 713.5 896.3 724.2 893.0C734.9 889.7 748.5 885.7 756.3 882.9C764.0 880.1 768.3 877.2 770.7 876.1"/>
<path stroke-width="9.8" d="M323.0 765.0C324.2 765.0 327.0 765.3 330.0 765.3C333.0 765.3 337.2 765.4 341.0 765.0C344.8 764.6 349.1 764.1 352.9 763.0C356.7 761.9 360.2 760.4 364.0 758.5C367.8 756.6 370.9 755.2 375.9 751.6C380.9 748.0 388.5 741.9 394.2 736.7C399.9 731.5 405.3 725.8 410.3 720.6C415.3 715.4 419.8 710.7 424.0 705.7C428.2 700.7 431.7 695.8 435.5 690.8C439.3 685.8 443.2 680.3 447.0 675.9C450.8 671.5 454.2 667.6 458.4 664.4C462.6 661.1 466.9 658.4 472.2 656.4C477.5 654.4 484.9 653.0 490.0 652.6C495.1 652.2 498.6 653.0 502.9 653.7C507.2 654.4 511.8 655.3 515.8 656.9C519.8 658.5 523.7 660.8 527.1 663.4C530.5 666.0 533.3 669.1 536.0 672.3C538.7 675.5 540.8 679.0 543.2 682.7C545.6 686.5 548.1 690.8 550.5 694.8C552.9 698.8 555.3 702.9 557.7 706.9C560.1 710.9 562.6 715.1 565.0 719.0C567.4 722.9 569.9 726.7 572.3 730.3C574.7 733.9 577.1 737.3 579.5 740.8C581.9 744.3 584.5 747.9 586.8 751.3C589.1 754.7 591.1 757.6 593.2 761.0C595.4 764.4 597.6 768.0 599.7 771.5C601.9 775.0 604.1 778.7 606.1 781.9C608.1 785.1 609.5 787.9 611.5 790.5C613.5 793.1 614.8 795.5 618.0 797.3C621.2 799.1 626.4 800.1 630.9 801.3C635.4 802.5 640.8 803.0 645.3 804.5C649.8 806.0 653.9 807.7 658.2 810.1C662.5 812.5 667.0 815.8 671.0 819.0C675.0 822.2 678.7 825.8 682.2 829.4C685.7 833.0 689.1 836.9 691.9 840.6C694.7 844.4 697.0 848.1 699.1 851.9C701.2 855.6 702.8 859.6 704.7 863.1C706.6 866.6 707.9 869.5 710.3 872.7C712.7 875.9 715.9 880.0 719.2 882.4C722.6 884.8 726.7 886.4 730.4 887.2C734.1 888.0 738.0 887.7 741.6 887.2C745.2 886.7 747.3 885.9 752.0 884.0C756.7 882.1 767.0 877.2 770.0 875.9"/>
<path stroke-width="11.6" stroke-linecap="round" d="M296.5 706.0C294.6 703.1 288.7 694.0 285.2 688.4C281.7 682.8 278.7 677.7 275.6 672.3C272.5 666.9 269.4 661.5 266.6 656.1C263.8 650.7 261.0 644.5 258.9 640.0C256.8 635.5 255.8 633.5 254.2 629.0C252.6 624.5 250.7 618.3 249.2 612.9C247.7 607.5 246.2 602.2 245.0 596.8C243.8 591.4 242.7 586.0 241.8 580.6C240.9 575.2 240.1 569.9 239.4 564.5C238.8 559.1 238.2 553.8 237.9 548.4C237.6 543.0 237.3 537.7 237.3 532.3C237.3 526.9 237.4 521.5 237.7 516.1C238.0 510.7 238.4 506.0 238.9 500.0C239.5 494.0 240.3 485.8 241.0 480.0C241.7 474.2 242.3 470.0 243.2 465.0C244.0 460.0 245.3 455.0 246.1 450.0C246.9 445.0 247.2 440.4 248.0 435.2C248.8 430.0 249.5 424.4 250.6 419.0C251.7 413.6 252.9 408.3 254.5 402.9C256.1 397.5 257.9 392.2 260.0 386.8C262.1 381.4 264.6 376.0 267.3 370.6C270.0 365.2 273.0 359.9 276.3 354.5C279.6 349.1 283.2 343.8 287.3 338.4C291.4 333.0 295.6 327.7 301.0 322.3C306.4 316.9 313.3 311.2 319.5 306.1C325.7 301.0 332.1 295.8 338.3 291.7C344.5 287.6 350.6 284.5 356.7 281.3C362.8 278.1 368.9 275.2 375.0 272.7C381.1 270.2 387.3 268.1 393.4 266.1C399.5 264.1 405.6 262.3 411.7 260.9C417.8 259.5 424.0 258.6 430.1 257.8C436.2 257.0 442.3 256.4 448.4 256.2C454.5 256.0 461.5 256.1 466.8 256.6C472.1 257.1 475.1 257.4 480.0 259.0C484.9 260.6 490.6 261.9 496.0 266.0C501.4 270.1 508.0 278.7 512.6 283.5C517.2 288.3 520.4 290.5 523.9 294.8C527.4 299.1 530.5 304.3 533.5 309.4C536.5 314.5 539.4 320.4 541.6 325.5C543.8 330.6 545.5 335.4 546.5 340.0C547.5 344.6 548.0 348.6 547.7 352.9C547.4 357.2 546.6 361.8 544.8 365.8C543.0 369.8 540.0 373.7 536.8 377.1C533.6 380.5 529.5 383.3 525.5 386.0C521.5 388.7 516.4 391.3 512.6 393.2C508.8 395.1 507.2 395.1 502.9 397.4C498.6 399.7 492.2 404.0 486.8 407.1C481.4 410.2 476.0 413.1 470.6 416.0C465.2 418.9 459.9 421.7 454.5 424.8C449.1 427.9 443.8 430.9 438.4 434.5C433.0 438.1 427.1 442.4 422.3 446.6C417.5 450.8 413.2 455.1 409.4 459.5C405.6 463.9 402.4 468.8 399.7 473.2C397.0 477.6 395.9 481.2 393.4 486.1C390.9 491.0 386.9 498.3 384.8 502.3C382.7 506.3 382.2 507.6 380.8 510.3C379.4 513.0 379.0 514.4 376.5 518.4C374.0 522.4 369.4 529.1 366.0 534.5C362.6 539.9 359.4 545.2 356.3 550.6C353.2 556.0 350.2 561.6 347.4 566.8C344.6 572.0 341.8 576.8 339.3 582.0C336.8 587.2 334.5 592.7 332.4 598.0C330.3 603.3 328.6 608.8 326.8 614.0C325.0 619.2 323.3 624.7 321.5 629.0C319.7 633.3 317.8 635.5 315.8 640.0C313.8 644.5 311.3 650.7 309.4 656.1C307.5 661.5 305.8 666.9 304.4 672.3C303.0 677.7 301.8 682.8 301.0 688.4C300.2 694.0 299.8 703.1 299.5 706.0"/>
<path stroke-width="12.3" d="M334.2 892.0C334.1 889.5 334.0 883.3 333.8 876.7C333.6 870.1 333.4 860.5 333.0 852.5C332.6 844.5 332.4 836.4 331.7 828.4C331.0 820.4 330.0 811.4 329.0 804.2C328.0 797.0 326.8 790.9 325.5 785.0C324.2 779.1 322.6 774.4 321.0 769.0C319.4 763.6 317.9 758.3 316.1 752.9C314.3 747.5 312.4 742.2 310.2 736.8C307.9 731.4 304.9 725.7 302.6 720.6C300.3 715.5 298.4 710.1 296.5 706.0C294.6 701.9 291.9 697.7 291.0 696.0"/>
<path stroke="#e0b41a" stroke-width="12.5" d="M256.3 871.3C261.6 872.6 277.4 876.7 288.4 879.3C299.4 881.9 311.1 884.7 322.1 887.1C333.1 889.5 343.5 891.5 354.2 893.9C364.9 896.3 375.6 898.5 386.3 901.3C397.0 904.1 413.0 909.3 418.4 910.9"/>
</g>
<use href="#b1" transform="translate(218.5 116.5) rotate(0) scale(0.863)"/>
<use href="#b2" transform="translate(281.5 106.6) rotate(40) scale(0.938)"/>
<use href="#b3" transform="translate(174.7 165.4) rotate(80) scale(0.950)"/>
<use href="#b1" transform="translate(243.4 157.7) rotate(200) scale(0.925)"/>
<use href="#l1" transform="translate(345.6 95.4) rotate(0) scale(0.975)"/>
<use href="#l2" transform="translate(409.2 71.3) rotate(30) scale(0.975)"/>
<use href="#l3" transform="translate(469.4 105.7) rotate(100) scale(1.000)"/>
<use href="#l1" transform="translate(541.7 99.7) rotate(200) scale(0.950)"/>
<use href="#l2" transform="translate(671.5 199.0) rotate(250) scale(1.020)"/>
<use href="#b2" transform="translate(608.8 112.0) rotate(10) scale(0.912)"/>
<use href="#b3" transform="translate(628.0 169.0) rotate(130) scale(0.925)"/>
<use href="#b1" transform="translate(694.0 283.0) rotate(50) scale(0.925)"/>
<use href="#b2" transform="translate(727.5 237.2) rotate(170) scale(0.950)"/>
<use href="#b3" transform="translate(716.0 298.0) rotate(20) scale(0.825)"/>
<use href="#b2" transform="translate(731.0 350.0) rotate(220) scale(0.950)"/>
<use href="#b1" transform="translate(747.0 332.0) rotate(300) scale(1.012)"/>
<use href="#b2" transform="translate(748.8 430.0) rotate(90) scale(0.995)"/>
<use href="#l3" transform="translate(790.9 384.8) rotate(20) scale(1.012)"/>
<use href="#b3" transform="translate(718.5 522.0) rotate(240) scale(1.000)"/>
<use href="#l1" transform="translate(779.4 488.7) rotate(140) scale(1.012)"/>
<use href="#b1" transform="translate(688.0 576.5) rotate(110) scale(1.000)"/>
<use href="#b2" transform="translate(737.3 627.5) rotate(280) scale(0.975)"/>
<use href="#b3" transform="translate(667.7 712.0) rotate(0) scale(0.900)"/>
<use href="#b1" transform="translate(717.0 708.0) rotate(66) scale(0.825)"/>
<use href="#l2" transform="translate(583.5 625.5) rotate(75) scale(1.020)"/>
<use href="#l3" transform="translate(621.0 688.0) rotate(310) scale(1.020)"/>
<use href="#k1" transform="translate(668.5 640.0) rotate(0) scale(0.912)"/>
<use href="#n1" transform="translate(759.8 686.0) rotate(45) scale(0.925)"/>
<use href="#b2" transform="translate(772.5 762.0) rotate(33) scale(1.000)"/>
<use href="#b3" transform="translate(754.0 810.0) rotate(99) scale(0.675)"/>
<use href="#l1" transform="translate(744.3 842.4) rotate(60) scale(0.718)"/>
<use href="#m1" transform="translate(452.0 770.4) rotate(0) scale(1.000)"/>
<use href="#g1" transform="translate(543.0 777.0) rotate(0) scale(0.963)"/>
<use href="#m2" transform="translate(575.5 832.0) rotate(0) scale(0.925)"/>
<use href="#b1" transform="translate(441.6 849.5) rotate(150) scale(1.000)"/>
<use href="#b2" transform="translate(510.4 870.0) rotate(210) scale(0.950)"/>
<use href="#n1" transform="translate(491.5 705.0) rotate(160) scale(1.000)"/>
<use href="#l2" transform="translate(501.8 810.0) rotate(20) scale(1.025)"/>
<use href="#l3" transform="translate(630.5 854.7) rotate(230) scale(1.000)"/>
<g transform="translate(352.0 693.2) rotate(31.2)"><rect x="-25.5" y="-18.0" width="51.0" height="36.0" fill="url(#cg)" stroke="#1f6a90" stroke-width="3.3"/><text y="-5.0" class="c" font-size="13.4">Cabin</text><text y="12.7" class="c" font-size="13.4">100</text></g>
<g transform="translate(378.8 642.0) rotate(30.3)"><rect x="-25.5" y="-18.0" width="51.0" height="36.0" fill="url(#cg)" stroke="#1f6a90" stroke-width="3.3"/><text y="-5.0" class="c" font-size="13.4">Cabin</text><text y="12.7" class="c" font-size="13.4">101</text></g>
<g transform="translate(404.4 594.8) rotate(34.0)"><rect x="-25.5" y="-18.0" width="51.0" height="36.0" fill="url(#cg)" stroke="#1f6a90" stroke-width="3.3"/><text y="-5.0" class="c" font-size="13.4">Cabin</text><text y="12.7" class="c" font-size="13.4">102</text></g>
<g transform="translate(434.9 551.2) rotate(38.5)"><rect x="-25.5" y="-18.0" width="51.0" height="36.0" fill="url(#cg)" stroke="#1f6a90" stroke-width="3.3"/><text y="-5.0" class="c" font-size="13.4">Cabin</text><text y="12.7" class="c" font-size="13.4">103</text></g>
<g transform="translate(473.2 509.8) rotate(46.3)"><rect x="-25.5" y="-18.0" width="51.0" height="36.0" fill="url(#cg)" stroke="#1f6a90" stroke-width="3.3"/><text y="-5.0" class="c" font-size="13.4">Cabin</text><text y="12.7" class="c" font-size="13.4">104</text></g>
<g transform="translate(512.6 475.2) rotate(49.9)"><rect x="-25.5" y="-18.0" width="51.0" height="36.0" fill="url(#cg)" stroke="#1f6a90" stroke-width="3.3"/><text y="-5.0" class="c" font-size="13.4">Cabin</text><text y="12.7" class="c" font-size="13.4">105</text></g>
<g transform="translate(613.5 437.1) rotate(31.6)"><rect x="-25.5" y="-18.0" width="51.0" height="36.0" fill="url(#cg)" stroke="#e9753c" stroke-width="3.3"/><text y="-5.0" class="c" font-size="13.4">Cabin</text><text y="12.7" class="c" font-size="13.4">106</text></g>
<g transform="translate(620.5 374.5) rotate(163.0)"><rect x="-25.5" y="-18.0" width="51.0" height="36.0" fill="url(#cg)" stroke="#e9753c" stroke-width="3.3"/><text y="-5.0" class="c" font-size="13.4">Cabin</text><text y="12.7" class="c" font-size="13.4">107</text></g>
<g transform="translate(605.4 326.2) rotate(154.0)"><rect x="-25.5" y="-18.0" width="51.0" height="36.0" fill="url(#cg)" stroke="#e9753c" stroke-width="3.3"/><text y="-5.0" class="c" font-size="13.4">Cabin</text><text y="12.7" class="c" font-size="13.4">108</text></g>
<g transform="translate(579.7 282.3) rotate(141.2)"><rect x="-25.5" y="-18.0" width="51.0" height="36.0" fill="url(#cg)" stroke="#e9753c" stroke-width="3.3"/><text y="-5.0" class="c" font-size="13.4">Cabin</text><text y="12.7" class="c" font-size="13.4">109</text></g>
<g transform="translate(550.5 240.3) rotate(132.3)"><rect x="-25.5" y="-18.0" width="51.0" height="36.0" fill="url(#cg)" stroke="#e9753c" stroke-width="3.3"/><text y="-5.0" class="c" font-size="13.4">Cabin</text><text y="12.7" class="c" font-size="13.4">110</text></g>
<g transform="translate(504.6 208.2) rotate(108.8)"><rect x="-25.5" y="-18.0" width="51.0" height="36.0" fill="url(#cg)" stroke="#e9753c" stroke-width="3.3"/><text y="-5.0" class="c" font-size="13.4">Cabin</text><text y="12.7" class="c" font-size="13.4">111</text></g>
<g transform="translate(448.4 203.9) rotate(84.3)"><rect x="-25.5" y="-18.0" width="51.0" height="36.0" fill="url(#cg)" stroke="#e9753c" stroke-width="3.3"/><text y="-5.0" class="c" font-size="13.4">Cabin</text><text y="12.7" class="c" font-size="13.4">112</text></g>
<g transform="translate(398.8 213.3) rotate(75.7)"><rect x="-25.5" y="-18.0" width="51.0" height="36.0" fill="url(#cg)" stroke="#e9753c" stroke-width="3.3"/><text y="-5.0" class="c" font-size="13.4">Cabin</text><text y="12.7" class="c" font-size="13.4">113</text></g>
<g transform="translate(352.1 231.1) rotate(71.0)"><rect x="-25.5" y="-18.0" width="51.0" height="36.0" fill="url(#cg)" stroke="#e9753c" stroke-width="3.3"/><text y="-5.0" class="c" font-size="13.4">Cabin</text><text y="12.7" class="c" font-size="13.4">114</text></g>
<g transform="translate(305.1 251.8) rotate(62.7)"><rect x="-25.5" y="-18.0" width="51.0" height="36.0" fill="url(#cg)" stroke="#e9753c" stroke-width="3.3"/><text y="-5.0" class="c" font-size="13.4">Cabin</text><text y="12.7" class="c" font-size="13.4">115</text></g>
<g transform="translate(262.6 279.6) rotate(48.7)"><rect x="-25.5" y="-18.0" width="51.0" height="36.0" fill="url(#cg)" stroke="#1f6a90" stroke-width="3.3"/><text y="-5.0" class="c" font-size="13.4">Cabin</text><text y="12.7" class="c" font-size="13.4">116</text></g>
<g transform="translate(223.7 320.0) rotate(39.5)"><rect x="-25.5" y="-18.0" width="51.0" height="36.0" fill="url(#cg)" stroke="#1f6a90" stroke-width="3.3"/><text y="-5.0" class="c" font-size="13.4">Cabin</text><text y="12.7" class="c" font-size="13.4">117</text></g>
<g transform="translate(192.0 365.8) rotate(25.4)"><rect x="-25.5" y="-18.0" width="51.0" height="36.0" fill="url(#cg)" stroke="#1f6a90" stroke-width="3.3"/><text y="-5.0" class="c" font-size="13.4">Cabin</text><text y="12.7" class="c" font-size="13.4">118</text></g>
<g transform="translate(176.3 419.8) rotate(12.2)"><rect x="-25.5" y="-18.0" width="51.0" height="36.0" fill="url(#cg)" stroke="#1f6a90" stroke-width="3.3"/><text y="-5.0" class="c" font-size="13.4">Cabin</text><text y="12.7" class="c" font-size="13.4">119</text></g>
<g transform="translate(167.2 475.4) rotate(4.7)"><rect x="-25.5" y="-18.0" width="51.0" height="36.0" fill="url(#cg)" stroke="#1f6a90" stroke-width="3.3"/><text y="-5.0" class="c" font-size="13.4">Cabin</text><text y="12.7" class="c" font-size="13.4">120</text></g>
<g transform="translate(166.6 531.8) rotate(-1.0)"><rect x="-25.5" y="-18.0" width="51.0" height="36.0" fill="url(#cg)" stroke="#1f6a90" stroke-width="3.3"/><text y="-5.0" class="c" font-size="13.4">Cabin</text><text y="12.7" class="c" font-size="13.4">121</text></g>
<g transform="translate(168.6 586.8) rotate(-6.5)"><rect x="-25.5" y="-18.0" width="51.0" height="36.0" fill="url(#cg)" stroke="#1f6a90" stroke-width="3.3"/><text y="-5.0" class="c" font-size="13.4">Cabin</text><text y="12.7" class="c" font-size="13.4">122</text></g>
<g transform="translate(178.9 642.8) rotate(-15.2)"><rect x="-25.5" y="-18.0" width="51.0" height="36.0" fill="url(#cg)" stroke="#1f6a90" stroke-width="3.3"/><text y="-5.0" class="c" font-size="13.4">Cabin</text><text y="12.7" class="c" font-size="13.4">123</text></g>
<g transform="translate(202.9 695.5) rotate(-27.7)"><rect x="-25.5" y="-18.0" width="51.0" height="36.0" fill="url(#cg)" stroke="#1f6a90" stroke-width="3.3"/><text y="-5.0" class="c" font-size="13.4">Cabin</text><text y="12.7" class="c" font-size="13.4">124</text></g>
<g transform="translate(242.9 745.5) rotate(54.7)"><rect x="-25.5" y="-18.0" width="51.0" height="36.0" fill="url(#cg)" stroke="#1f6a90" stroke-width="3.3"/><text y="-5.0" class="c" font-size="13.4">Cabin</text><text y="12.7" class="c" font-size="13.4">125</text></g>
<g transform="translate(641.8 763.4) rotate(0.0)"><rect x="-17.2" y="-17.4" width="34.5" height="34.8" fill="url(#cg)" stroke="#e9753c" stroke-width="3.3"/><text y="-5.7" class="c" font-size="13.2">Cabin</text><text y="12.3" class="c" font-size="13.2">127</text></g>
<g transform="translate(698.2 779.2) rotate(-48.0)"><rect x="-24.5" y="-17.0" width="49.0" height="34.0" fill="url(#cg)" stroke="#e9753c" stroke-width="3.3"/><text y="-5.0" class="c" font-size="13.4">Cabin</text><text y="12.7" class="c" font-size="13.4">126</text></g>
<g transform="translate(364.1 324.7)"><path d="M0 23 C-4 17 -16.6 10 -16.6 0 A16.6 16.6 0 1 1 16.6 0 C16.6 10 4 17 0 23Z" fill="#e2559f"/><g fill="#fff"><rect x="-9.1" y="-4.6" width="2.1" height="10.6"/><rect x="-9.1" y="1.4" width="18.3" height="2.6"/><rect x="7.1" y="-3.8" width="2.1" height="9.8"/><path d="M-2.8 1.4 V-1.6 C0 -2 4 -2.6 7.1 -3.4 V1.4Z"/><circle cx="-4.7" cy="-1.5" r="1.35"/></g></g>
<g font-weight="bold" font-size="16.2" fill="#4b5056" lengthAdjust="spacingAndGlyphs"><text x="389.8" y="317.6" textLength="108.5" lengthAdjust="spacingAndGlyphs">The Cabins ät</text><text x="389.8" y="335" textLength="111.7" lengthAdjust="spacingAndGlyphs">Iron Mountain</text><text x="389.8" y="352.5" textLength="51.5" lengthAdjust="spacingAndGlyphs">Resort</text></g>
<g fill="#c5521d"><path d="M339.2 389.1 C340.5 393 342.5 395.5 343.6 398.6 L344.4 397 C345.3 399.5 346.5 401.5 347.3 403.6 C348.3 405.2 349.3 405.6 350 404.4 C352.3 406.8 353.4 409.5 352.8 412.2 C352.6 414.2 352 415.8 351.2 417 L328.7 417 C327.6 415.4 327.2 413.6 327.4 412.2 C327.6 410.4 328.3 409.2 329.3 408.3 C329.6 409.3 330 409.9 330.6 410.3 C330.4 408 331.3 406.6 332.5 405.3 C333.6 403.8 334.8 402 335.6 400 C337 396.6 338.2 393 339.2 389.1Z"/><path d="M324.1 418.1 H355.6 C353.6 423 348 426.3 339.8 426.3 C331.6 426.3 326 423 324.1 418.1Z"/><path d="M330.3 423.3 L326.9 429 M350.6 423.3 L353.3 429 M339.8 425.5 V428" stroke="#c5521d" stroke-width="1.8" stroke-linecap="round" fill="none"/><path d="M334.4 416.4 C334.4 414.5 335 413 335.9 412 C336.4 413 337 413.2 337.6 412.6 C338.3 409.8 339.2 407 340.1 404.6 C340.8 407.8 341.5 411 342.4 413.8 C343.2 413.6 344 412.8 344.6 412 C345.4 413.3 345.8 414.8 345.8 416.4" fill="none" stroke="#fbe3d0" stroke-width="0.9" stroke-linejoin="round"/><path d="M345.5 424.3 L350.5 421.3" stroke="#f3c4a4" stroke-width="0.7" fill="none"/></g>
<g filter="url(#sh)"><rect x="46.2" y="759.7" width="144" height="77" rx="10" fill="#fff" stroke="#7d7d7d" stroke-width="2.6"/></g>
<text x="117.7" y="781.7" text-anchor="middle" font-size="16.5" fill="#111">Cabin Types</text>
<g transform="translate(85.5 809.0) rotate(0.0)"><rect x="-25.4" y="-18.0" width="50.8" height="36.0" fill="url(#cg)" stroke="#1f6a90" stroke-width="3.3"/><text y="-5.6" class="c" font-size="13.5">Family</text><text y="12.8" class="c" font-size="13.5">Cabin</text></g>
<g transform="translate(151.0 809.0) rotate(0.0)"><rect x="-26.0" y="-18.0" width="52.0" height="36.0" fill="url(#cg)" stroke="#e9753c" stroke-width="3.3"/><text y="-5.6" class="c" font-size="13.5">Bunk</text><text y="12.8" class="c" font-size="13.5">Cabin</text></g>
<g font-size="22" fill="#111" stroke="#111" stroke-width="0.35"><text transform="translate(126.4 893.2) rotate(-3)">Trailer</text><text transform="translate(204 897) rotate(9)">Parking</text><text transform="translate(586.1 954.6) rotate(-12.8)" font-size="22.7">Bath House</text></g>
<g fill="none" stroke="#000" stroke-width="4.8" stroke-linecap="round" stroke-linejoin="round"><path d="M116 884.8 L63 889.5 M80.5 878.5 L62.5 889.5 L83 898"/><path d="M708.6 922.1 L761.5 901.2 M740.3 899 L762.3 900.9 L748.5 917.4"/></g>
</svg></body></html>
